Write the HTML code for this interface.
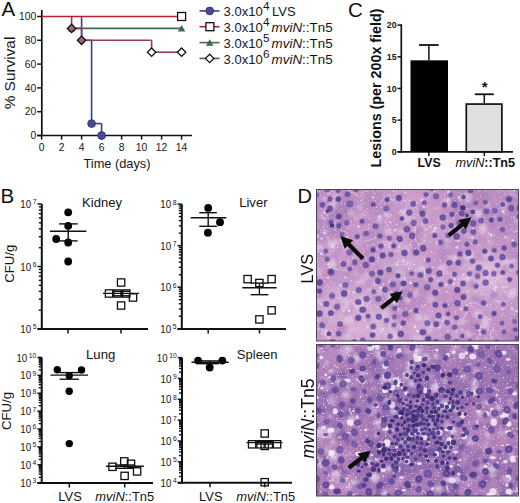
<!DOCTYPE html>
<html><head><meta charset="utf-8"><style>
html,body{margin:0;padding:0;background:#fff;}
svg{display:block;font-family:"Liberation Sans", sans-serif;}
</style></head><body>
<svg width="520" height="503" viewBox="0 0 520 503">
<rect width="520" height="503" fill="#fff"/>
<text x="1.4" y="15.6" font-size="20.5" text-anchor="start" font-weight="normal" font-style="normal" fill="#111" >A</text>
<line x1="41.8" y1="10" x2="41.8" y2="136.3" stroke="#111" stroke-width="1.7"/>
<line x1="37" y1="135.5" x2="192" y2="135.5" stroke="#111" stroke-width="1.7"/>
<line x1="37.2" y1="135.5" x2="41.8" y2="135.5" stroke="#111" stroke-width="1.5"/>
<text x="36.3" y="139.1" font-size="10.3" text-anchor="end" font-weight="normal" font-style="normal" fill="#161616" >0</text>
<line x1="37.2" y1="111.7" x2="41.8" y2="111.7" stroke="#111" stroke-width="1.5"/>
<text x="36.3" y="115.3" font-size="10.3" text-anchor="end" font-weight="normal" font-style="normal" fill="#161616" >20</text>
<line x1="37.2" y1="87.9" x2="41.8" y2="87.9" stroke="#111" stroke-width="1.5"/>
<text x="36.3" y="91.5" font-size="10.3" text-anchor="end" font-weight="normal" font-style="normal" fill="#161616" >40</text>
<line x1="37.2" y1="64.1" x2="41.8" y2="64.1" stroke="#111" stroke-width="1.5"/>
<text x="36.3" y="67.7" font-size="10.3" text-anchor="end" font-weight="normal" font-style="normal" fill="#161616" >60</text>
<line x1="37.2" y1="40.3" x2="41.8" y2="40.3" stroke="#111" stroke-width="1.5"/>
<text x="36.3" y="43.9" font-size="10.3" text-anchor="end" font-weight="normal" font-style="normal" fill="#161616" >80</text>
<line x1="37.2" y1="16.5" x2="41.8" y2="16.5" stroke="#111" stroke-width="1.5"/>
<text x="36.3" y="20.1" font-size="10.3" text-anchor="end" font-weight="normal" font-style="normal" fill="#161616" >100</text>
<line x1="41.6" y1="135.5" x2="41.6" y2="139.6" stroke="#111" stroke-width="1.5"/>
<text x="41.6" y="150.6" font-size="10.3" text-anchor="middle" font-weight="normal" font-style="normal" fill="#161616" >0</text>
<line x1="61.6" y1="135.5" x2="61.6" y2="139.6" stroke="#111" stroke-width="1.5"/>
<text x="61.6" y="150.6" font-size="10.3" text-anchor="middle" font-weight="normal" font-style="normal" fill="#161616" >2</text>
<line x1="81.6" y1="135.5" x2="81.6" y2="139.6" stroke="#111" stroke-width="1.5"/>
<text x="81.6" y="150.6" font-size="10.3" text-anchor="middle" font-weight="normal" font-style="normal" fill="#161616" >4</text>
<line x1="101.6" y1="135.5" x2="101.6" y2="139.6" stroke="#111" stroke-width="1.5"/>
<text x="101.6" y="150.6" font-size="10.3" text-anchor="middle" font-weight="normal" font-style="normal" fill="#161616" >6</text>
<line x1="121.6" y1="135.5" x2="121.6" y2="139.6" stroke="#111" stroke-width="1.5"/>
<text x="121.6" y="150.6" font-size="10.3" text-anchor="middle" font-weight="normal" font-style="normal" fill="#161616" >8</text>
<line x1="141.6" y1="135.5" x2="141.6" y2="139.6" stroke="#111" stroke-width="1.5"/>
<text x="141.6" y="150.6" font-size="10.3" text-anchor="middle" font-weight="normal" font-style="normal" fill="#161616" >10</text>
<line x1="161.6" y1="135.5" x2="161.6" y2="139.6" stroke="#111" stroke-width="1.5"/>
<text x="161.6" y="150.6" font-size="10.3" text-anchor="middle" font-weight="normal" font-style="normal" fill="#161616" >12</text>
<line x1="181.6" y1="135.5" x2="181.6" y2="139.6" stroke="#111" stroke-width="1.5"/>
<text x="181.6" y="150.6" font-size="10.3" text-anchor="middle" font-weight="normal" font-style="normal" fill="#161616" >14</text>
<text x="117" y="167.9" font-size="12.8" text-anchor="middle" font-weight="normal" font-style="normal" fill="#161616" >Time (days)</text>
<text x="14.6" y="73" font-size="15.4" text-anchor="middle" font-weight="normal" font-style="normal" fill="#161616" transform="rotate(-90 14.6 73)">% Survival</text>
<line x1="81.6" y1="16.5" x2="81.6" y2="40.3" stroke="#3c3c8a" stroke-width="1.6"/>
<line x1="81.6" y1="40.3" x2="91.6" y2="40.3" stroke="#3c3c8a" stroke-width="1.6"/>
<line x1="91.6" y1="40.3" x2="91.6" y2="123.6" stroke="#3c3c8a" stroke-width="1.6"/>
<line x1="91.6" y1="123.6" x2="101.6" y2="123.6" stroke="#3c3c8a" stroke-width="1.6"/>
<line x1="101.6" y1="123.6" x2="101.6" y2="135.5" stroke="#3c3c8a" stroke-width="1.6"/>
<line x1="71.6" y1="28.4" x2="181.6" y2="28.4" stroke="#3e6a4a" stroke-width="1.6"/>
<line x1="71.6" y1="16.5" x2="71.6" y2="28.4" stroke="#923c5c" stroke-width="1.6"/>
<line x1="71.6" y1="28.4" x2="81.6" y2="28.4" stroke="#923c5c" stroke-width="1.6"/>
<line x1="81.6" y1="28.4" x2="81.6" y2="40.3" stroke="#923c5c" stroke-width="1.6"/>
<line x1="81.6" y1="40.3" x2="151.6" y2="40.3" stroke="#923c5c" stroke-width="1.6"/>
<line x1="151.6" y1="40.3" x2="151.6" y2="52.2" stroke="#923c5c" stroke-width="1.6"/>
<line x1="151.6" y1="52.2" x2="181.6" y2="52.2" stroke="#923c5c" stroke-width="1.6"/>
<line x1="41.8" y1="16.5" x2="181.6" y2="16.5" stroke="#c0202e" stroke-width="1.6"/>
<path d="M71.6 25.0L75.35 31.5L67.85 31.5Z" fill="#3e6a4a"/>
<path d="M181.6 25.0L185.35 31.5L177.85 31.5Z" fill="#3e6a4a"/>
<path d="M71.6 24.2L75.8 28.4L71.6 32.6L67.4 28.4Z" fill="#9a6876" stroke="#111" stroke-width="1.3"/>
<path d="M81.6 36.1L85.8 40.3L81.6 44.5L77.4 40.3Z" fill="#9a6876" stroke="#111" stroke-width="1.3"/>
<path d="M151.6 48L155.8 52.2L151.6 56.4L147.4 52.2Z" fill="#fff" stroke="#111" stroke-width="1.3"/>
<path d="M181.6 48L185.8 52.2L181.6 56.4L177.4 52.2Z" fill="#fff" stroke="#111" stroke-width="1.3"/>
<rect x="177.6" y="12.5" width="8" height="8" fill="#fff" stroke="#111" stroke-width="1.3"/>
<circle cx="91.6" cy="123.6" r="3.9" fill="#4a4a94" stroke="#2c2c6c" stroke-width="0.8"/>
<circle cx="101.6" cy="135.5" r="3.9" fill="#4a4a94" stroke="#2c2c6c" stroke-width="0.8"/>
<line x1="199.5" y1="10.9" x2="219.5" y2="10.9" stroke="#3c3c8a" stroke-width="1.6"/>
<line x1="199.5" y1="26.7" x2="219.5" y2="26.7" stroke="#c0202e" stroke-width="1.6"/>
<line x1="199.5" y1="42.6" x2="219.5" y2="42.6" stroke="#3e6a4a" stroke-width="1.6"/>
<line x1="199.5" y1="58.4" x2="219.5" y2="58.4" stroke="#923c5c" stroke-width="1.6"/>
<circle cx="209.7" cy="10.9" r="3.9" fill="#4a4a94" stroke="#2c2c6c" stroke-width="0.8"/>
<rect x="205.9" y="22.7" width="8" height="8" fill="#fff" stroke="#111" stroke-width="1.3"/>
<path d="M209.7 39.2L213.45 45.7L205.95 45.7Z" fill="#3e6a4a"/>
<path d="M209.7 54.2L213.9 58.4L209.7 62.6L205.5 58.4Z" fill="#fff" stroke="#111" stroke-width="1.3"/>
<text x="223.6" y="16.4" font-size="13" text-anchor="start" font-weight="normal" font-style="normal" fill="#141414" >3.0x10</text>
<text x="263.1" y="10.2" font-size="11.8" text-anchor="start" font-weight="normal" font-style="normal" fill="#141414" >4</text>
<text x="272.0" y="16.4" font-size="13" text-anchor="start" font-weight="normal" font-style="normal" fill="#141414" >LVS</text>
<text x="223.6" y="32.2" font-size="13" text-anchor="start" font-weight="normal" font-style="normal" fill="#141414" >3.0x10</text>
<text x="263.1" y="26" font-size="11.8" text-anchor="start" font-weight="normal" font-style="normal" fill="#141414" >4</text>
<text x="271.6" y="32.2" font-size="13.4" fill="#141414"><tspan font-style="italic">mviN</tspan>::Tn5</text>
<text x="223.6" y="48.1" font-size="13" text-anchor="start" font-weight="normal" font-style="normal" fill="#141414" >3.0x10</text>
<text x="263.1" y="41.9" font-size="11.8" text-anchor="start" font-weight="normal" font-style="normal" fill="#141414" >5</text>
<text x="271.6" y="48.1" font-size="13.4" fill="#141414"><tspan font-style="italic">mviN</tspan>::Tn5</text>
<text x="223.6" y="63.9" font-size="13" text-anchor="start" font-weight="normal" font-style="normal" fill="#141414" >3.0x10</text>
<text x="263.1" y="57.7" font-size="11.8" text-anchor="start" font-weight="normal" font-style="normal" fill="#141414" >6</text>
<text x="271.6" y="63.9" font-size="13.4" fill="#141414"><tspan font-style="italic">mviN</tspan>::Tn5</text>
<text x="348.0" y="16.9" font-size="20.5" text-anchor="start" font-weight="normal" font-style="normal" fill="#111" >C</text>
<line x1="401.3" y1="24.3" x2="401.3" y2="152.3" stroke="#111" stroke-width="1.7"/>
<line x1="397.5" y1="151.8" x2="513" y2="151.8" stroke="#111" stroke-width="1.7"/>
<line x1="397.5" y1="151.8" x2="401.3" y2="151.8" stroke="#111" stroke-width="1.5"/>
<text x="396.6" y="154.9" font-size="8.8" text-anchor="end" font-weight="bold" font-style="normal" fill="#141414" >0</text>
<line x1="397.5" y1="120.13" x2="401.3" y2="120.13" stroke="#111" stroke-width="1.5"/>
<text x="396.6" y="123.23" font-size="8.8" text-anchor="end" font-weight="bold" font-style="normal" fill="#141414" >5</text>
<line x1="397.5" y1="88.45" x2="401.3" y2="88.45" stroke="#111" stroke-width="1.5"/>
<text x="396.6" y="91.55" font-size="8.8" text-anchor="end" font-weight="bold" font-style="normal" fill="#141414" >10</text>
<line x1="397.5" y1="56.78" x2="401.3" y2="56.78" stroke="#111" stroke-width="1.5"/>
<text x="396.6" y="59.88" font-size="8.8" text-anchor="end" font-weight="bold" font-style="normal" fill="#141414" >15</text>
<line x1="397.5" y1="25.1" x2="401.3" y2="25.1" stroke="#111" stroke-width="1.5"/>
<text x="396.6" y="28.2" font-size="8.8" text-anchor="end" font-weight="bold" font-style="normal" fill="#141414" >20</text>
<rect x="410.5" y="60.32" width="37.5" height="91.48" fill="#000"/>
<line x1="428.9" y1="60.32" x2="428.9" y2="44.99" stroke="#111" stroke-width="1.5"/>
<line x1="419" y1="44.99" x2="438.7" y2="44.99" stroke="#111" stroke-width="1.8"/>
<rect x="466.3" y="104.07" width="35.6" height="47.73" fill="#e0e0e0" stroke="#111" stroke-width="1.7"/>
<line x1="484.3" y1="103.27" x2="484.3" y2="94.28" stroke="#111" stroke-width="1.5"/>
<line x1="474.8" y1="94.28" x2="493.8" y2="94.28" stroke="#111" stroke-width="1.8"/>
<line x1="428.9" y1="151.8" x2="428.9" y2="156" stroke="#111" stroke-width="1.5"/>
<line x1="484.3" y1="151.8" x2="484.3" y2="156" stroke="#111" stroke-width="1.5"/>
<text x="484.6" y="92.4" font-size="15" text-anchor="middle" font-weight="bold" font-style="normal" fill="#141414" >*</text>
<text x="429.1" y="167.2" font-size="12.3" text-anchor="middle" font-weight="bold" font-style="normal" fill="#111" >LVS</text>
<text x="455.6" y="167.2" font-size="12.6" font-weight="bold" fill="#111"><tspan font-style="italic" font-weight="normal">mviN</tspan>::Tn5</text>
<text x="380.8" y="167.4" font-size="14.3" text-anchor="start" font-weight="bold" font-style="normal" fill="#111" transform="rotate(-90 380.8 167.4)">Lesions (per 200x field)</text>
<text x="0.5" y="202.7" font-size="20.5" text-anchor="start" font-weight="normal" font-style="normal" fill="#111" >B</text>
<line x1="41.8" y1="204" x2="41.8" y2="329.9" stroke="#111" stroke-width="2.0"/>
<line x1="37.5" y1="329" x2="148" y2="329" stroke="#111" stroke-width="2.0"/>
<line x1="37.5" y1="204.0" x2="41.8" y2="204.0" stroke="#111" stroke-width="1.5"/>
<text x="36.50" y="204.40" font-size="6.8" text-anchor="end" fill="#161616">7</text>
<text transform="translate(31.12,208.10) scale(0.82,1)" font-size="11.8" text-anchor="end" fill="#141414">10</text>
<line x1="38.8" y1="247.69" x2="41.8" y2="247.69" stroke="#111" stroke-width="1.4"/>
<line x1="38.8" y1="236.68" x2="41.8" y2="236.68" stroke="#111" stroke-width="1.4"/>
<line x1="38.8" y1="228.87" x2="41.8" y2="228.87" stroke="#111" stroke-width="1.4"/>
<line x1="38.8" y1="222.81" x2="41.8" y2="222.81" stroke="#111" stroke-width="1.4"/>
<line x1="38.8" y1="217.87" x2="41.8" y2="217.87" stroke="#111" stroke-width="1.4"/>
<line x1="38.8" y1="213.68" x2="41.8" y2="213.68" stroke="#111" stroke-width="1.4"/>
<line x1="38.8" y1="210.06" x2="41.8" y2="210.06" stroke="#111" stroke-width="1.4"/>
<line x1="38.8" y1="206.86" x2="41.8" y2="206.86" stroke="#111" stroke-width="1.4"/>
<line x1="37.5" y1="266.5" x2="41.8" y2="266.5" stroke="#111" stroke-width="1.5"/>
<text x="36.50" y="266.90" font-size="6.8" text-anchor="end" fill="#161616">6</text>
<text transform="translate(31.12,270.60) scale(0.82,1)" font-size="11.8" text-anchor="end" fill="#141414">10</text>
<line x1="38.8" y1="310.19" x2="41.8" y2="310.19" stroke="#111" stroke-width="1.4"/>
<line x1="38.8" y1="299.18" x2="41.8" y2="299.18" stroke="#111" stroke-width="1.4"/>
<line x1="38.8" y1="291.37" x2="41.8" y2="291.37" stroke="#111" stroke-width="1.4"/>
<line x1="38.8" y1="285.31" x2="41.8" y2="285.31" stroke="#111" stroke-width="1.4"/>
<line x1="38.8" y1="280.37" x2="41.8" y2="280.37" stroke="#111" stroke-width="1.4"/>
<line x1="38.8" y1="276.18" x2="41.8" y2="276.18" stroke="#111" stroke-width="1.4"/>
<line x1="38.8" y1="272.56" x2="41.8" y2="272.56" stroke="#111" stroke-width="1.4"/>
<line x1="38.8" y1="269.36" x2="41.8" y2="269.36" stroke="#111" stroke-width="1.4"/>
<line x1="37.5" y1="329.0" x2="41.8" y2="329.0" stroke="#111" stroke-width="1.5"/>
<text x="36.50" y="329.40" font-size="6.8" text-anchor="end" fill="#161616">5</text>
<text transform="translate(31.12,333.10) scale(0.82,1)" font-size="11.8" text-anchor="end" fill="#141414">10</text>
<line x1="68" y1="329" x2="68" y2="333.5" stroke="#111" stroke-width="1.5"/>
<line x1="121" y1="329" x2="121" y2="333.5" stroke="#111" stroke-width="1.5"/>
<text transform="translate(82.10,206.60) scale(1.07,1)" font-size="12.2" text-anchor="start" font-weight="normal" font-style="normal" fill="#141414">Kidney</text>
<circle cx="68.2" cy="212.3" r="3.9" fill="#000" stroke="none" stroke-width="0"/>
<circle cx="68.2" cy="225.8" r="3.9" fill="#000" stroke="none" stroke-width="0"/>
<circle cx="56.2" cy="239" r="3.9" fill="#000" stroke="none" stroke-width="0"/>
<circle cx="68.2" cy="242.5" r="3.9" fill="#000" stroke="none" stroke-width="0"/>
<circle cx="68.2" cy="261.5" r="3.9" fill="#000" stroke="none" stroke-width="0"/>
<line x1="49.9" y1="231.3" x2="86.4" y2="231.3" stroke="#111" stroke-width="1.4"/>
<line x1="59.1" y1="223.9" x2="77.7" y2="223.9" stroke="#111" stroke-width="1.4"/>
<line x1="59.1" y1="240.9" x2="77.7" y2="240.9" stroke="#111" stroke-width="1.4"/>
<line x1="68.2" y1="223.9" x2="68.2" y2="240.9" stroke="#111" stroke-width="1.4"/>
<rect x="117.45" y="278.85" width="7.3" height="7.3" fill="none" stroke="#111" stroke-width="1.3"/>
<rect x="105.35" y="289.85" width="7.3" height="7.3" fill="none" stroke="#111" stroke-width="1.3"/>
<rect x="113.85" y="289.85" width="7.3" height="7.3" fill="none" stroke="#111" stroke-width="1.3"/>
<rect x="122.65" y="289.85" width="7.3" height="7.3" fill="none" stroke="#111" stroke-width="1.3"/>
<rect x="129.35" y="293.85" width="7.3" height="7.3" fill="none" stroke="#111" stroke-width="1.3"/>
<rect x="117.45" y="301.85" width="7.3" height="7.3" fill="none" stroke="#111" stroke-width="1.3"/>
<line x1="103" y1="293.4" x2="139.1" y2="293.4" stroke="#111" stroke-width="1.4"/>
<line x1="112" y1="291.3" x2="130" y2="291.3" stroke="#111" stroke-width="1.4"/>
<line x1="112" y1="295.8" x2="130" y2="295.8" stroke="#111" stroke-width="1.4"/>
<line x1="121.1" y1="291.3" x2="121.1" y2="295.8" stroke="#111" stroke-width="1.4"/>
<text x="14.0" y="263.8" font-size="13.2" text-anchor="middle" font-weight="normal" font-style="normal" fill="#141414" transform="rotate(-90 14.0 263.8)">CFU/g</text>
<line x1="181.8" y1="204.1" x2="181.8" y2="329.9" stroke="#111" stroke-width="2.0"/>
<line x1="177.5" y1="329" x2="286" y2="329" stroke="#111" stroke-width="2.0"/>
<line x1="177.5" y1="204.1" x2="181.8" y2="204.1" stroke="#111" stroke-width="1.5"/>
<text x="176.50" y="204.50" font-size="6.8" text-anchor="end" fill="#161616">8</text>
<text transform="translate(171.12,208.20) scale(0.82,1)" font-size="11.8" text-anchor="end" fill="#141414">10</text>
<line x1="178.8" y1="233.14" x2="181.8" y2="233.14" stroke="#111" stroke-width="1.4"/>
<line x1="178.8" y1="225.83" x2="181.8" y2="225.83" stroke="#111" stroke-width="1.4"/>
<line x1="178.8" y1="220.63" x2="181.8" y2="220.63" stroke="#111" stroke-width="1.4"/>
<line x1="178.8" y1="216.61" x2="181.8" y2="216.61" stroke="#111" stroke-width="1.4"/>
<line x1="178.8" y1="213.32" x2="181.8" y2="213.32" stroke="#111" stroke-width="1.4"/>
<line x1="178.8" y1="210.54" x2="181.8" y2="210.54" stroke="#111" stroke-width="1.4"/>
<line x1="178.8" y1="208.13" x2="181.8" y2="208.13" stroke="#111" stroke-width="1.4"/>
<line x1="178.8" y1="206" x2="181.8" y2="206" stroke="#111" stroke-width="1.4"/>
<line x1="177.5" y1="245.65" x2="181.8" y2="245.65" stroke="#111" stroke-width="1.5"/>
<text x="176.50" y="246.05" font-size="6.8" text-anchor="end" fill="#161616">7</text>
<text transform="translate(171.12,249.75) scale(0.82,1)" font-size="11.8" text-anchor="end" fill="#141414">10</text>
<line x1="178.8" y1="274.69" x2="181.8" y2="274.69" stroke="#111" stroke-width="1.4"/>
<line x1="178.8" y1="267.38" x2="181.8" y2="267.38" stroke="#111" stroke-width="1.4"/>
<line x1="178.8" y1="262.18" x2="181.8" y2="262.18" stroke="#111" stroke-width="1.4"/>
<line x1="178.8" y1="258.16" x2="181.8" y2="258.16" stroke="#111" stroke-width="1.4"/>
<line x1="178.8" y1="254.87" x2="181.8" y2="254.87" stroke="#111" stroke-width="1.4"/>
<line x1="178.8" y1="252.09" x2="181.8" y2="252.09" stroke="#111" stroke-width="1.4"/>
<line x1="178.8" y1="249.68" x2="181.8" y2="249.68" stroke="#111" stroke-width="1.4"/>
<line x1="178.8" y1="247.55" x2="181.8" y2="247.55" stroke="#111" stroke-width="1.4"/>
<line x1="177.5" y1="287.2" x2="181.8" y2="287.2" stroke="#111" stroke-width="1.5"/>
<text x="176.50" y="287.60" font-size="6.8" text-anchor="end" fill="#161616">6</text>
<text transform="translate(171.12,291.30) scale(0.82,1)" font-size="11.8" text-anchor="end" fill="#141414">10</text>
<line x1="178.8" y1="316.24" x2="181.8" y2="316.24" stroke="#111" stroke-width="1.4"/>
<line x1="178.8" y1="308.93" x2="181.8" y2="308.93" stroke="#111" stroke-width="1.4"/>
<line x1="178.8" y1="303.73" x2="181.8" y2="303.73" stroke="#111" stroke-width="1.4"/>
<line x1="178.8" y1="299.71" x2="181.8" y2="299.71" stroke="#111" stroke-width="1.4"/>
<line x1="178.8" y1="296.42" x2="181.8" y2="296.42" stroke="#111" stroke-width="1.4"/>
<line x1="178.8" y1="293.64" x2="181.8" y2="293.64" stroke="#111" stroke-width="1.4"/>
<line x1="178.8" y1="291.23" x2="181.8" y2="291.23" stroke="#111" stroke-width="1.4"/>
<line x1="178.8" y1="289.1" x2="181.8" y2="289.1" stroke="#111" stroke-width="1.4"/>
<line x1="177.5" y1="328.75" x2="181.8" y2="328.75" stroke="#111" stroke-width="1.5"/>
<text x="176.50" y="329.15" font-size="6.8" text-anchor="end" fill="#161616">5</text>
<text transform="translate(171.12,332.85) scale(0.82,1)" font-size="11.8" text-anchor="end" fill="#141414">10</text>
<line x1="208.2" y1="329" x2="208.2" y2="333.5" stroke="#111" stroke-width="1.5"/>
<line x1="259.5" y1="329" x2="259.5" y2="333.5" stroke="#111" stroke-width="1.5"/>
<text transform="translate(239.20,206.90) scale(1.07,1)" font-size="12.2" text-anchor="start" font-weight="normal" font-style="normal" fill="#141414">Liver</text>
<circle cx="208.2" cy="207.9" r="3.9" fill="#000" stroke="none" stroke-width="0"/>
<circle cx="220" cy="222.2" r="3.9" fill="#000" stroke="none" stroke-width="0"/>
<circle cx="207.9" cy="232.7" r="3.9" fill="#000" stroke="none" stroke-width="0"/>
<line x1="190.7" y1="217.8" x2="226.3" y2="217.8" stroke="#111" stroke-width="1.4"/>
<line x1="199.3" y1="212.7" x2="216.8" y2="212.7" stroke="#111" stroke-width="1.4"/>
<line x1="199.3" y1="226.3" x2="216.8" y2="226.3" stroke="#111" stroke-width="1.4"/>
<line x1="208.2" y1="212.7" x2="208.2" y2="226.3" stroke="#111" stroke-width="1.4"/>
<rect x="243.95" y="275.45" width="7.3" height="7.3" fill="none" stroke="#111" stroke-width="1.3"/>
<rect x="255.75" y="279.35" width="7.3" height="7.3" fill="none" stroke="#111" stroke-width="1.3"/>
<rect x="267.95" y="275.45" width="7.3" height="7.3" fill="none" stroke="#111" stroke-width="1.3"/>
<rect x="267.95" y="306.75" width="7.3" height="7.3" fill="none" stroke="#111" stroke-width="1.3"/>
<rect x="255.75" y="315.75" width="7.3" height="7.3" fill="none" stroke="#111" stroke-width="1.3"/>
<line x1="242.3" y1="287.7" x2="276.6" y2="287.7" stroke="#111" stroke-width="1.4"/>
<line x1="250.6" y1="283.1" x2="268.3" y2="283.1" stroke="#111" stroke-width="1.4"/>
<line x1="250.6" y1="294.7" x2="268.3" y2="294.7" stroke="#111" stroke-width="1.4"/>
<line x1="259.4" y1="283.1" x2="259.4" y2="294.7" stroke="#111" stroke-width="1.4"/>
<line x1="41.7" y1="357.4" x2="41.7" y2="483.9" stroke="#111" stroke-width="2.0"/>
<line x1="37.4" y1="483" x2="153" y2="483" stroke="#111" stroke-width="2.0"/>
<line x1="37.4" y1="357.4" x2="41.7" y2="357.4" stroke="#111" stroke-width="1.5"/>
<text x="36.40" y="357.80" font-size="6.8" text-anchor="end" fill="#161616">10</text>
<text transform="translate(27.24,361.50) scale(0.82,1)" font-size="11.8" text-anchor="end" fill="#141414">10</text>
<line x1="38.7" y1="369.91" x2="41.7" y2="369.91" stroke="#111" stroke-width="1.4"/>
<line x1="38.7" y1="366.76" x2="41.7" y2="366.76" stroke="#111" stroke-width="1.4"/>
<line x1="38.7" y1="364.52" x2="41.7" y2="364.52" stroke="#111" stroke-width="1.4"/>
<line x1="38.7" y1="362.79" x2="41.7" y2="362.79" stroke="#111" stroke-width="1.4"/>
<line x1="38.7" y1="361.37" x2="41.7" y2="361.37" stroke="#111" stroke-width="1.4"/>
<line x1="38.7" y1="360.17" x2="41.7" y2="360.17" stroke="#111" stroke-width="1.4"/>
<line x1="38.7" y1="359.13" x2="41.7" y2="359.13" stroke="#111" stroke-width="1.4"/>
<line x1="38.7" y1="358.22" x2="41.7" y2="358.22" stroke="#111" stroke-width="1.4"/>
<line x1="37.4" y1="375.3" x2="41.7" y2="375.3" stroke="#111" stroke-width="1.5"/>
<text x="36.40" y="375.70" font-size="6.8" text-anchor="end" fill="#161616">9</text>
<text transform="translate(31.02,379.40) scale(0.82,1)" font-size="11.8" text-anchor="end" fill="#141414">10</text>
<line x1="38.7" y1="387.81" x2="41.7" y2="387.81" stroke="#111" stroke-width="1.4"/>
<line x1="38.7" y1="384.66" x2="41.7" y2="384.66" stroke="#111" stroke-width="1.4"/>
<line x1="38.7" y1="382.42" x2="41.7" y2="382.42" stroke="#111" stroke-width="1.4"/>
<line x1="38.7" y1="380.69" x2="41.7" y2="380.69" stroke="#111" stroke-width="1.4"/>
<line x1="38.7" y1="379.27" x2="41.7" y2="379.27" stroke="#111" stroke-width="1.4"/>
<line x1="38.7" y1="378.07" x2="41.7" y2="378.07" stroke="#111" stroke-width="1.4"/>
<line x1="38.7" y1="377.03" x2="41.7" y2="377.03" stroke="#111" stroke-width="1.4"/>
<line x1="38.7" y1="376.12" x2="41.7" y2="376.12" stroke="#111" stroke-width="1.4"/>
<line x1="37.4" y1="393.2" x2="41.7" y2="393.2" stroke="#111" stroke-width="1.5"/>
<text x="36.40" y="393.60" font-size="6.8" text-anchor="end" fill="#161616">8</text>
<text transform="translate(31.02,397.30) scale(0.82,1)" font-size="11.8" text-anchor="end" fill="#141414">10</text>
<line x1="38.7" y1="405.71" x2="41.7" y2="405.71" stroke="#111" stroke-width="1.4"/>
<line x1="38.7" y1="402.56" x2="41.7" y2="402.56" stroke="#111" stroke-width="1.4"/>
<line x1="38.7" y1="400.32" x2="41.7" y2="400.32" stroke="#111" stroke-width="1.4"/>
<line x1="38.7" y1="398.59" x2="41.7" y2="398.59" stroke="#111" stroke-width="1.4"/>
<line x1="38.7" y1="397.17" x2="41.7" y2="397.17" stroke="#111" stroke-width="1.4"/>
<line x1="38.7" y1="395.97" x2="41.7" y2="395.97" stroke="#111" stroke-width="1.4"/>
<line x1="38.7" y1="394.93" x2="41.7" y2="394.93" stroke="#111" stroke-width="1.4"/>
<line x1="38.7" y1="394.02" x2="41.7" y2="394.02" stroke="#111" stroke-width="1.4"/>
<line x1="37.4" y1="411.1" x2="41.7" y2="411.1" stroke="#111" stroke-width="1.5"/>
<text x="36.40" y="411.50" font-size="6.8" text-anchor="end" fill="#161616">7</text>
<text transform="translate(31.02,415.20) scale(0.82,1)" font-size="11.8" text-anchor="end" fill="#141414">10</text>
<line x1="38.7" y1="423.61" x2="41.7" y2="423.61" stroke="#111" stroke-width="1.4"/>
<line x1="38.7" y1="420.46" x2="41.7" y2="420.46" stroke="#111" stroke-width="1.4"/>
<line x1="38.7" y1="418.22" x2="41.7" y2="418.22" stroke="#111" stroke-width="1.4"/>
<line x1="38.7" y1="416.49" x2="41.7" y2="416.49" stroke="#111" stroke-width="1.4"/>
<line x1="38.7" y1="415.07" x2="41.7" y2="415.07" stroke="#111" stroke-width="1.4"/>
<line x1="38.7" y1="413.87" x2="41.7" y2="413.87" stroke="#111" stroke-width="1.4"/>
<line x1="38.7" y1="412.83" x2="41.7" y2="412.83" stroke="#111" stroke-width="1.4"/>
<line x1="38.7" y1="411.92" x2="41.7" y2="411.92" stroke="#111" stroke-width="1.4"/>
<line x1="37.4" y1="429.0" x2="41.7" y2="429.0" stroke="#111" stroke-width="1.5"/>
<text x="36.40" y="429.40" font-size="6.8" text-anchor="end" fill="#161616">6</text>
<text transform="translate(31.02,433.10) scale(0.82,1)" font-size="11.8" text-anchor="end" fill="#141414">10</text>
<line x1="38.7" y1="441.51" x2="41.7" y2="441.51" stroke="#111" stroke-width="1.4"/>
<line x1="38.7" y1="438.36" x2="41.7" y2="438.36" stroke="#111" stroke-width="1.4"/>
<line x1="38.7" y1="436.12" x2="41.7" y2="436.12" stroke="#111" stroke-width="1.4"/>
<line x1="38.7" y1="434.39" x2="41.7" y2="434.39" stroke="#111" stroke-width="1.4"/>
<line x1="38.7" y1="432.97" x2="41.7" y2="432.97" stroke="#111" stroke-width="1.4"/>
<line x1="38.7" y1="431.77" x2="41.7" y2="431.77" stroke="#111" stroke-width="1.4"/>
<line x1="38.7" y1="430.73" x2="41.7" y2="430.73" stroke="#111" stroke-width="1.4"/>
<line x1="38.7" y1="429.82" x2="41.7" y2="429.82" stroke="#111" stroke-width="1.4"/>
<line x1="37.4" y1="446.9" x2="41.7" y2="446.9" stroke="#111" stroke-width="1.5"/>
<text x="36.40" y="447.30" font-size="6.8" text-anchor="end" fill="#161616">5</text>
<text transform="translate(31.02,451.00) scale(0.82,1)" font-size="11.8" text-anchor="end" fill="#141414">10</text>
<line x1="38.7" y1="459.41" x2="41.7" y2="459.41" stroke="#111" stroke-width="1.4"/>
<line x1="38.7" y1="456.26" x2="41.7" y2="456.26" stroke="#111" stroke-width="1.4"/>
<line x1="38.7" y1="454.02" x2="41.7" y2="454.02" stroke="#111" stroke-width="1.4"/>
<line x1="38.7" y1="452.29" x2="41.7" y2="452.29" stroke="#111" stroke-width="1.4"/>
<line x1="38.7" y1="450.87" x2="41.7" y2="450.87" stroke="#111" stroke-width="1.4"/>
<line x1="38.7" y1="449.67" x2="41.7" y2="449.67" stroke="#111" stroke-width="1.4"/>
<line x1="38.7" y1="448.63" x2="41.7" y2="448.63" stroke="#111" stroke-width="1.4"/>
<line x1="38.7" y1="447.72" x2="41.7" y2="447.72" stroke="#111" stroke-width="1.4"/>
<line x1="37.4" y1="464.8" x2="41.7" y2="464.8" stroke="#111" stroke-width="1.5"/>
<text x="36.40" y="465.20" font-size="6.8" text-anchor="end" fill="#161616">4</text>
<text transform="translate(31.02,468.90) scale(0.82,1)" font-size="11.8" text-anchor="end" fill="#141414">10</text>
<line x1="38.7" y1="477.31" x2="41.7" y2="477.31" stroke="#111" stroke-width="1.4"/>
<line x1="38.7" y1="474.16" x2="41.7" y2="474.16" stroke="#111" stroke-width="1.4"/>
<line x1="38.7" y1="471.92" x2="41.7" y2="471.92" stroke="#111" stroke-width="1.4"/>
<line x1="38.7" y1="470.19" x2="41.7" y2="470.19" stroke="#111" stroke-width="1.4"/>
<line x1="38.7" y1="468.77" x2="41.7" y2="468.77" stroke="#111" stroke-width="1.4"/>
<line x1="38.7" y1="467.57" x2="41.7" y2="467.57" stroke="#111" stroke-width="1.4"/>
<line x1="38.7" y1="466.53" x2="41.7" y2="466.53" stroke="#111" stroke-width="1.4"/>
<line x1="38.7" y1="465.62" x2="41.7" y2="465.62" stroke="#111" stroke-width="1.4"/>
<line x1="37.4" y1="482.7" x2="41.7" y2="482.7" stroke="#111" stroke-width="1.5"/>
<text x="36.40" y="483.10" font-size="6.8" text-anchor="end" fill="#161616">3</text>
<text transform="translate(31.02,486.80) scale(0.82,1)" font-size="11.8" text-anchor="end" fill="#141414">10</text>
<line x1="69.3" y1="483" x2="69.3" y2="487.5" stroke="#111" stroke-width="1.5"/>
<line x1="124.7" y1="483" x2="124.7" y2="487.5" stroke="#111" stroke-width="1.5"/>
<text transform="translate(86.00,359.30) scale(1.08,1)" font-size="12.2" text-anchor="start" font-weight="normal" font-style="normal" fill="#141414">Lung</text>
<circle cx="57.3" cy="369.7" r="3.7" fill="#000" stroke="none" stroke-width="0"/>
<circle cx="81.5" cy="370" r="3.7" fill="#000" stroke="none" stroke-width="0"/>
<circle cx="69.2" cy="375.7" r="3.7" fill="#000" stroke="none" stroke-width="0"/>
<circle cx="69.2" cy="391.2" r="3.7" fill="#000" stroke="none" stroke-width="0"/>
<circle cx="69.3" cy="443.6" r="3.7" fill="#000" stroke="none" stroke-width="0"/>
<line x1="50.5" y1="375.1" x2="88" y2="375.1" stroke="#111" stroke-width="1.4"/>
<line x1="59.7" y1="372.6" x2="78.8" y2="372.6" stroke="#111" stroke-width="1.4"/>
<line x1="59.7" y1="379.2" x2="78.8" y2="379.2" stroke="#111" stroke-width="1.4"/>
<line x1="69.2" y1="372.6" x2="69.2" y2="379.2" stroke="#111" stroke-width="1.4"/>
<rect x="108.85" y="463.15" width="7.3" height="7.3" fill="none" stroke="#111" stroke-width="1.3"/>
<rect x="120.65" y="457.75" width="7.3" height="7.3" fill="none" stroke="#111" stroke-width="1.3"/>
<rect x="127.35" y="460.15" width="7.3" height="7.3" fill="none" stroke="#111" stroke-width="1.3"/>
<rect x="133.45" y="467.75" width="7.3" height="7.3" fill="none" stroke="#111" stroke-width="1.3"/>
<rect x="120.95" y="472.25" width="7.3" height="7.3" fill="none" stroke="#111" stroke-width="1.3"/>
<line x1="105.9" y1="466.2" x2="143.8" y2="466.2" stroke="#111" stroke-width="1.4"/>
<line x1="115" y1="465" x2="134" y2="465" stroke="#111" stroke-width="1.4"/>
<line x1="115" y1="468.3" x2="134" y2="468.3" stroke="#111" stroke-width="1.4"/>
<line x1="124.6" y1="465" x2="124.6" y2="468.3" stroke="#111" stroke-width="1.4"/>
<text x="10.5" y="411" font-size="13.2" text-anchor="middle" font-weight="normal" font-style="normal" fill="#141414" transform="rotate(-90 10.5 411)">CFU/g</text>
<line x1="182" y1="357.6" x2="182" y2="483.6" stroke="#111" stroke-width="2.0"/>
<line x1="177.7" y1="482.7" x2="292" y2="482.7" stroke="#111" stroke-width="2.0"/>
<line x1="177.7" y1="357.6" x2="182" y2="357.6" stroke="#111" stroke-width="1.5"/>
<text x="176.70" y="358.00" font-size="6.8" text-anchor="end" fill="#161616">10</text>
<text transform="translate(167.54,361.70) scale(0.82,1)" font-size="11.8" text-anchor="end" fill="#141414">10</text>
<line x1="179.0" y1="372.17" x2="182" y2="372.17" stroke="#111" stroke-width="1.4"/>
<line x1="179.0" y1="368.5" x2="182" y2="368.5" stroke="#111" stroke-width="1.4"/>
<line x1="179.0" y1="365.9" x2="182" y2="365.9" stroke="#111" stroke-width="1.4"/>
<line x1="179.0" y1="363.88" x2="182" y2="363.88" stroke="#111" stroke-width="1.4"/>
<line x1="179.0" y1="362.23" x2="182" y2="362.23" stroke="#111" stroke-width="1.4"/>
<line x1="179.0" y1="360.83" x2="182" y2="360.83" stroke="#111" stroke-width="1.4"/>
<line x1="179.0" y1="359.62" x2="182" y2="359.62" stroke="#111" stroke-width="1.4"/>
<line x1="179.0" y1="358.55" x2="182" y2="358.55" stroke="#111" stroke-width="1.4"/>
<line x1="177.7" y1="378.45" x2="182" y2="378.45" stroke="#111" stroke-width="1.5"/>
<text x="176.70" y="378.85" font-size="6.8" text-anchor="end" fill="#161616">9</text>
<text transform="translate(171.32,382.55) scale(0.82,1)" font-size="11.8" text-anchor="end" fill="#141414">10</text>
<line x1="179.0" y1="393.02" x2="182" y2="393.02" stroke="#111" stroke-width="1.4"/>
<line x1="179.0" y1="389.35" x2="182" y2="389.35" stroke="#111" stroke-width="1.4"/>
<line x1="179.0" y1="386.75" x2="182" y2="386.75" stroke="#111" stroke-width="1.4"/>
<line x1="179.0" y1="384.73" x2="182" y2="384.73" stroke="#111" stroke-width="1.4"/>
<line x1="179.0" y1="383.08" x2="182" y2="383.08" stroke="#111" stroke-width="1.4"/>
<line x1="179.0" y1="381.68" x2="182" y2="381.68" stroke="#111" stroke-width="1.4"/>
<line x1="179.0" y1="380.47" x2="182" y2="380.47" stroke="#111" stroke-width="1.4"/>
<line x1="179.0" y1="379.4" x2="182" y2="379.4" stroke="#111" stroke-width="1.4"/>
<line x1="177.7" y1="399.3" x2="182" y2="399.3" stroke="#111" stroke-width="1.5"/>
<text x="176.70" y="399.70" font-size="6.8" text-anchor="end" fill="#161616">8</text>
<text transform="translate(171.32,403.40) scale(0.82,1)" font-size="11.8" text-anchor="end" fill="#141414">10</text>
<line x1="179.0" y1="413.87" x2="182" y2="413.87" stroke="#111" stroke-width="1.4"/>
<line x1="179.0" y1="410.2" x2="182" y2="410.2" stroke="#111" stroke-width="1.4"/>
<line x1="179.0" y1="407.6" x2="182" y2="407.6" stroke="#111" stroke-width="1.4"/>
<line x1="179.0" y1="405.58" x2="182" y2="405.58" stroke="#111" stroke-width="1.4"/>
<line x1="179.0" y1="403.93" x2="182" y2="403.93" stroke="#111" stroke-width="1.4"/>
<line x1="179.0" y1="402.53" x2="182" y2="402.53" stroke="#111" stroke-width="1.4"/>
<line x1="179.0" y1="401.32" x2="182" y2="401.32" stroke="#111" stroke-width="1.4"/>
<line x1="179.0" y1="400.25" x2="182" y2="400.25" stroke="#111" stroke-width="1.4"/>
<line x1="177.7" y1="420.15" x2="182" y2="420.15" stroke="#111" stroke-width="1.5"/>
<text x="176.70" y="420.55" font-size="6.8" text-anchor="end" fill="#161616">7</text>
<text transform="translate(171.32,424.25) scale(0.82,1)" font-size="11.8" text-anchor="end" fill="#141414">10</text>
<line x1="179.0" y1="434.72" x2="182" y2="434.72" stroke="#111" stroke-width="1.4"/>
<line x1="179.0" y1="431.05" x2="182" y2="431.05" stroke="#111" stroke-width="1.4"/>
<line x1="179.0" y1="428.45" x2="182" y2="428.45" stroke="#111" stroke-width="1.4"/>
<line x1="179.0" y1="426.43" x2="182" y2="426.43" stroke="#111" stroke-width="1.4"/>
<line x1="179.0" y1="424.78" x2="182" y2="424.78" stroke="#111" stroke-width="1.4"/>
<line x1="179.0" y1="423.38" x2="182" y2="423.38" stroke="#111" stroke-width="1.4"/>
<line x1="179.0" y1="422.17" x2="182" y2="422.17" stroke="#111" stroke-width="1.4"/>
<line x1="179.0" y1="421.1" x2="182" y2="421.1" stroke="#111" stroke-width="1.4"/>
<line x1="177.7" y1="441.0" x2="182" y2="441.0" stroke="#111" stroke-width="1.5"/>
<text x="176.70" y="441.40" font-size="6.8" text-anchor="end" fill="#161616">6</text>
<text transform="translate(171.32,445.10) scale(0.82,1)" font-size="11.8" text-anchor="end" fill="#141414">10</text>
<line x1="179.0" y1="455.57" x2="182" y2="455.57" stroke="#111" stroke-width="1.4"/>
<line x1="179.0" y1="451.9" x2="182" y2="451.9" stroke="#111" stroke-width="1.4"/>
<line x1="179.0" y1="449.3" x2="182" y2="449.3" stroke="#111" stroke-width="1.4"/>
<line x1="179.0" y1="447.28" x2="182" y2="447.28" stroke="#111" stroke-width="1.4"/>
<line x1="179.0" y1="445.63" x2="182" y2="445.63" stroke="#111" stroke-width="1.4"/>
<line x1="179.0" y1="444.23" x2="182" y2="444.23" stroke="#111" stroke-width="1.4"/>
<line x1="179.0" y1="443.02" x2="182" y2="443.02" stroke="#111" stroke-width="1.4"/>
<line x1="179.0" y1="441.95" x2="182" y2="441.95" stroke="#111" stroke-width="1.4"/>
<line x1="177.7" y1="461.85" x2="182" y2="461.85" stroke="#111" stroke-width="1.5"/>
<text x="176.70" y="462.25" font-size="6.8" text-anchor="end" fill="#161616">5</text>
<text transform="translate(171.32,465.95) scale(0.82,1)" font-size="11.8" text-anchor="end" fill="#141414">10</text>
<line x1="179.0" y1="476.42" x2="182" y2="476.42" stroke="#111" stroke-width="1.4"/>
<line x1="179.0" y1="472.75" x2="182" y2="472.75" stroke="#111" stroke-width="1.4"/>
<line x1="179.0" y1="470.15" x2="182" y2="470.15" stroke="#111" stroke-width="1.4"/>
<line x1="179.0" y1="468.13" x2="182" y2="468.13" stroke="#111" stroke-width="1.4"/>
<line x1="179.0" y1="466.48" x2="182" y2="466.48" stroke="#111" stroke-width="1.4"/>
<line x1="179.0" y1="465.08" x2="182" y2="465.08" stroke="#111" stroke-width="1.4"/>
<line x1="179.0" y1="463.87" x2="182" y2="463.87" stroke="#111" stroke-width="1.4"/>
<line x1="179.0" y1="462.8" x2="182" y2="462.8" stroke="#111" stroke-width="1.4"/>
<line x1="177.7" y1="482.7" x2="182" y2="482.7" stroke="#111" stroke-width="1.5"/>
<text x="176.70" y="483.10" font-size="6.8" text-anchor="end" fill="#161616">4</text>
<text transform="translate(171.32,486.80) scale(0.82,1)" font-size="11.8" text-anchor="end" fill="#141414">10</text>
<line x1="210" y1="482.7" x2="210" y2="487.2" stroke="#111" stroke-width="1.5"/>
<line x1="264.7" y1="482.7" x2="264.7" y2="487.2" stroke="#111" stroke-width="1.5"/>
<text transform="translate(236.80,359.00) scale(1.07,1)" font-size="12.2" text-anchor="start" font-weight="normal" font-style="normal" fill="#141414">Spleen</text>
<circle cx="198.1" cy="360.6" r="3.9" fill="#000" stroke="none" stroke-width="0"/>
<circle cx="222.3" cy="360.6" r="3.9" fill="#000" stroke="none" stroke-width="0"/>
<circle cx="209.7" cy="367.5" r="3.9" fill="#000" stroke="none" stroke-width="0"/>
<line x1="191.5" y1="362.3" x2="228.7" y2="362.3" stroke="#111" stroke-width="1.4"/>
<line x1="200" y1="360.9" x2="219" y2="360.9" stroke="#111" stroke-width="1.4"/>
<line x1="200" y1="363.7" x2="219" y2="363.7" stroke="#111" stroke-width="1.4"/>
<line x1="209.7" y1="360.9" x2="209.7" y2="363.7" stroke="#111" stroke-width="1.4"/>
<rect x="261.05" y="429.85" width="7.3" height="7.3" fill="none" stroke="#111" stroke-width="1.3"/>
<rect x="248.45" y="440.65" width="7.3" height="7.3" fill="none" stroke="#111" stroke-width="1.3"/>
<rect x="256.85" y="440.65" width="7.3" height="7.3" fill="none" stroke="#111" stroke-width="1.3"/>
<rect x="265.15" y="440.65" width="7.3" height="7.3" fill="none" stroke="#111" stroke-width="1.3"/>
<rect x="261.05" y="442.25" width="7.3" height="7.3" fill="none" stroke="#111" stroke-width="1.3"/>
<rect x="273.35" y="440.65" width="7.3" height="7.3" fill="none" stroke="#111" stroke-width="1.3"/>
<rect x="261.05" y="478.55" width="7.3" height="7.3" fill="none" stroke="#111" stroke-width="1.3"/>
<line x1="246.5" y1="442.6" x2="282.5" y2="442.6" stroke="#111" stroke-width="1.4"/>
<line x1="255" y1="441.5" x2="274" y2="441.5" stroke="#111" stroke-width="1.4"/>
<line x1="255" y1="444" x2="274" y2="444" stroke="#111" stroke-width="1.4"/>
<line x1="264.7" y1="441.5" x2="264.7" y2="444" stroke="#111" stroke-width="1.4"/>
<text transform="translate(70.10,501.10) scale(1.06,1)" font-size="12.2" text-anchor="middle" font-weight="normal" font-style="normal" fill="#141414">LVS</text>
<text transform="translate(124.8,501.1) scale(1.06,1)" font-size="12.2" text-anchor="middle" fill="#141414"><tspan font-style="italic">mviN</tspan>::Tn5</text>
<text transform="translate(210.80,501.10) scale(1.06,1)" font-size="12.2" text-anchor="middle" font-weight="normal" font-style="normal" fill="#141414">LVS</text>
<text transform="translate(265.8,501.1) scale(1.06,1)" font-size="12.2" text-anchor="middle" fill="#141414"><tspan font-style="italic">mviN</tspan>::Tn5</text>
<text x="297.6" y="203.0" font-size="20" text-anchor="start" font-weight="normal" font-style="normal" fill="#111" >D</text>
<defs><filter id="bl6" x="-10%" y="-10%" width="120%" height="120%"><feGaussianBlur stdDeviation="6"/></filter><filter id="bl15"><feGaussianBlur stdDeviation="1.5"/></filter><filter id="bl09"><feGaussianBlur stdDeviation="0.9"/></filter><filter id="bl07"><feGaussianBlur stdDeviation="0.7"/></filter><filter id="bl05"><feGaussianBlur stdDeviation="0.45"/></filter><filter id="grainL1" x="0" y="0" width="100%" height="100%"><feTurbulence type="fractalNoise" baseFrequency="0.7" numOctaves="2" seed="3"/><feColorMatrix type="matrix" values="0 0 0 0 0.92 0 0 0 0 0.84 0 0 0 0 0.93 0 0 0 -5 1.7"/><feGaussianBlur stdDeviation="0.55"/></filter><filter id="grainD1" x="0" y="0" width="100%" height="100%"><feTurbulence type="fractalNoise" baseFrequency="0.7" numOctaves="2" seed="7"/><feColorMatrix type="matrix" values="0 0 0 0 0.58 0 0 0 0 0.38 0 0 0 0 0.64 0 0 0 -5 1.9"/><feGaussianBlur stdDeviation="0.55"/></filter><filter id="grainL2" x="0" y="0" width="100%" height="100%"><feTurbulence type="fractalNoise" baseFrequency="0.6" numOctaves="2" seed="11"/><feColorMatrix type="matrix" values="0 0 0 0 0.95 0 0 0 0 0.9 0 0 0 0 0.96 0 0 0 -5 1.8"/><feGaussianBlur stdDeviation="0.55"/></filter><filter id="grainD2" x="0" y="0" width="100%" height="100%"><feTurbulence type="fractalNoise" baseFrequency="0.6" numOctaves="2" seed="13"/><feColorMatrix type="matrix" values="0 0 0 0 0.42 0 0 0 0 0.28 0 0 0 0 0.58 0 0 0 -5 1.9"/><feGaussianBlur stdDeviation="0.55"/></filter></defs>
<clipPath id="c11"><rect x="316.5" y="189.5" width="202" height="151.5"/></clipPath>
<g clip-path="url(#c11)">
<rect x="316.5" y="189.5" width="202" height="151.5" fill="#c496c6"/>
<g filter="url(#bl6)">
<circle cx="407.9" cy="274.3" r="19.1" fill="#dcbadc" opacity="0.6"/>
<circle cx="407.8" cy="319.0" r="10.3" fill="#cc94c4" opacity="0.6"/>
<circle cx="412.6" cy="282.5" r="10.2" fill="#dcbadc" opacity="0.6"/>
<circle cx="377.8" cy="203.2" r="17.7" fill="#b084bc" opacity="0.6"/>
<circle cx="444.7" cy="279.7" r="12.8" fill="#dcbadc" opacity="0.6"/>
<circle cx="448.6" cy="282.8" r="9.9" fill="#d4a8d2" opacity="0.6"/>
<circle cx="484.5" cy="199.1" r="8.4" fill="#c690c2" opacity="0.6"/>
<circle cx="437.6" cy="307.4" r="11.9" fill="#cc94c4" opacity="0.6"/>
<circle cx="486.7" cy="268.1" r="15.7" fill="#dcbadc" opacity="0.6"/>
<circle cx="317.4" cy="202.4" r="15.9" fill="#dcbadc" opacity="0.6"/>
<circle cx="518.0" cy="340.3" r="18.1" fill="#b084bc" opacity="0.6"/>
<circle cx="367.8" cy="304.3" r="14.2" fill="#d4a8d2" opacity="0.6"/>
<circle cx="330.7" cy="305.6" r="12.8" fill="#b88cc4" opacity="0.6"/>
<circle cx="394.6" cy="334.6" r="18.2" fill="#d4a8d2" opacity="0.6"/>
<circle cx="359.6" cy="329.9" r="8.6" fill="#dcbadc" opacity="0.6"/>
<circle cx="514.5" cy="249.7" r="8.9" fill="#b084bc" opacity="0.6"/>
<circle cx="356.6" cy="291.7" r="12.0" fill="#b88cc4" opacity="0.6"/>
<circle cx="383.7" cy="335.6" r="17.1" fill="#d4a8d2" opacity="0.6"/>
<circle cx="343.7" cy="296.6" r="8.1" fill="#dcbadc" opacity="0.6"/>
<circle cx="477.5" cy="216.4" r="14.7" fill="#dcbadc" opacity="0.6"/>
<circle cx="419.3" cy="338.8" r="17.2" fill="#dcbadc" opacity="0.6"/>
<circle cx="446.5" cy="207.2" r="13.0" fill="#c690c2" opacity="0.6"/>
<circle cx="316.6" cy="320.4" r="19.7" fill="#cc94c4" opacity="0.6"/>
<circle cx="377.9" cy="323.6" r="10.5" fill="#dcbadc" opacity="0.6"/>
<circle cx="517.7" cy="280.7" r="14.9" fill="#d4a8d2" opacity="0.6"/>
<circle cx="516.3" cy="221.8" r="11.1" fill="#cc94c4" opacity="0.6"/>
<circle cx="382.9" cy="234.4" r="8.9" fill="#d4a8d2" opacity="0.6"/>
<circle cx="358.7" cy="285.9" r="8.2" fill="#b88cc4" opacity="0.6"/>
<circle cx="391.6" cy="258.2" r="19.5" fill="#dcbadc" opacity="0.6"/>
<circle cx="484.6" cy="210.1" r="12.6" fill="#b084bc" opacity="0.6"/>
<circle cx="347.6" cy="327.1" r="17.8" fill="#c690c2" opacity="0.6"/>
<circle cx="463.0" cy="213.5" r="15.5" fill="#cc94c4" opacity="0.6"/>
<circle cx="356.2" cy="333.4" r="18.6" fill="#cc94c4" opacity="0.6"/>
<circle cx="332.4" cy="196.7" r="9.3" fill="#cc94c4" opacity="0.6"/>
<circle cx="511.0" cy="225.6" r="16.5" fill="#b88cc4" opacity="0.6"/>
<circle cx="401.5" cy="326.6" r="13.9" fill="#cc94c4" opacity="0.6"/>
<circle cx="351.9" cy="298.6" r="8.8" fill="#c690c2" opacity="0.6"/>
<circle cx="413.3" cy="288.5" r="15.4" fill="#d4a8d2" opacity="0.6"/>
<circle cx="373.1" cy="328.5" r="10.4" fill="#d4a8d2" opacity="0.6"/>
<circle cx="330.5" cy="251.8" r="11.0" fill="#d4a8d2" opacity="0.6"/>
<circle cx="352.1" cy="245.4" r="14.9" fill="#c690c2" opacity="0.6"/>
<circle cx="335.1" cy="210.5" r="13.4" fill="#b88cc4" opacity="0.6"/>
<circle cx="449.2" cy="294.2" r="15.0" fill="#c690c2" opacity="0.6"/>
<circle cx="435.7" cy="329.4" r="13.7" fill="#b88cc4" opacity="0.6"/>
<circle cx="458.1" cy="335.4" r="8.3" fill="#b084bc" opacity="0.6"/>
<circle cx="331.6" cy="199.7" r="11.7" fill="#c690c2" opacity="0.6"/>
<circle cx="518.4" cy="200.9" r="14.6" fill="#b084bc" opacity="0.6"/>
<circle cx="325.5" cy="331.3" r="16.8" fill="#c690c2" opacity="0.6"/>
<circle cx="476.7" cy="328.1" r="12.2" fill="#b084bc" opacity="0.6"/>
<circle cx="412.1" cy="201.3" r="18.3" fill="#d4a8d2" opacity="0.6"/>
<circle cx="490.9" cy="276.3" r="15.5" fill="#dcbadc" opacity="0.6"/>
<circle cx="393.1" cy="191.4" r="8.9" fill="#d4a8d2" opacity="0.6"/>
<circle cx="445.7" cy="340.0" r="18.6" fill="#b084bc" opacity="0.6"/>
<circle cx="383.2" cy="331.0" r="16.3" fill="#dcbadc" opacity="0.6"/>
<circle cx="405.5" cy="316.5" r="9.0" fill="#cc94c4" opacity="0.6"/>
<circle cx="322.5" cy="280.6" r="13.8" fill="#c690c2" opacity="0.6"/>
<circle cx="509.9" cy="206.6" r="17.4" fill="#b084bc" opacity="0.6"/>
<circle cx="502.4" cy="228.3" r="8.1" fill="#b88cc4" opacity="0.6"/>
<circle cx="345.4" cy="282.2" r="14.2" fill="#b88cc4" opacity="0.6"/>
<circle cx="449.8" cy="256.5" r="18.7" fill="#b88cc4" opacity="0.6"/>
<circle cx="330" cy="212" r="26" fill="#9a70b0" opacity="0.45"/>
<circle cx="402" cy="290" r="24" fill="#9a70b0" opacity="0.4"/>
<circle cx="472" cy="205" r="26" fill="#9a70b0" opacity="0.4"/>
<circle cx="380" cy="245" r="18" fill="#a078b4" opacity="0.35"/>
<circle cx="345" cy="312" r="30" fill="#e2c8e4" opacity="0.45"/>
<circle cx="482" cy="282" r="28" fill="#e0c0dc" opacity="0.4"/>
<circle cx="440" cy="325" r="20" fill="#dcbcdc" opacity="0.35"/>
<circle cx="430" cy="230" r="18" fill="#dcbcdc" opacity="0.3"/>
<circle cx="334" cy="222" r="13.5" fill="#9470b0" opacity="0.13"/>
<circle cx="404" cy="297" r="16.2" fill="#9470b0" opacity="0.13"/>
<circle cx="468" cy="207" r="14.4" fill="#9470b0" opacity="0.12"/>
<circle cx="392" cy="268" r="10.8" fill="#9470b0" opacity="0.11"/>
<circle cx="345" cy="198" r="9.0" fill="#9470b0" opacity="0.11"/>
<circle cx="505" cy="225" r="9.0" fill="#9470b0" opacity="0.11"/>
</g>
<g filter="url(#bl15)">
<ellipse cx="398.3" cy="227.5" rx="3.5" ry="4.4" fill="#bc8cc4" opacity="0.7"/>
<ellipse cx="494.3" cy="247.7" rx="3.4" ry="2.9" fill="#bc8cc4" opacity="0.7"/>
<ellipse cx="343.7" cy="242.6" rx="4.2" ry="2.7" fill="#dcc0e0" opacity="0.7"/>
<ellipse cx="508.4" cy="231.4" rx="2.3" ry="2.2" fill="#d49ccc" opacity="0.7"/>
<ellipse cx="503.5" cy="315.4" rx="2.8" ry="2.9" fill="#c894c6" opacity="0.7"/>
<ellipse cx="380.2" cy="316.6" rx="4.5" ry="4.3" fill="#dcc0e0" opacity="0.7"/>
<ellipse cx="483.9" cy="231.6" rx="3.4" ry="3.9" fill="#d49ccc" opacity="0.7"/>
<ellipse cx="431.8" cy="236.3" rx="3.9" ry="2.4" fill="#bc8cc4" opacity="0.7"/>
<ellipse cx="398.3" cy="218.3" rx="3.9" ry="3.2" fill="#bc8cc4" opacity="0.7"/>
<ellipse cx="477.5" cy="338.6" rx="2.1" ry="1.5" fill="#e6d0ea" opacity="0.7"/>
<ellipse cx="448.8" cy="311.8" rx="4.4" ry="5.0" fill="#bc8cc4" opacity="0.7"/>
<ellipse cx="482.9" cy="228.3" rx="3.7" ry="4.5" fill="#e6d0ea" opacity="0.7"/>
<ellipse cx="460.8" cy="216.6" rx="2.5" ry="2.2" fill="#c894c6" opacity="0.7"/>
<ellipse cx="507.8" cy="265.3" rx="4.5" ry="3.3" fill="#c894c6" opacity="0.7"/>
<ellipse cx="499.6" cy="202.7" rx="4.3" ry="5.1" fill="#bc8cc4" opacity="0.7"/>
<ellipse cx="407.5" cy="219.3" rx="4.2" ry="2.5" fill="#e6d0ea" opacity="0.7"/>
<ellipse cx="431.4" cy="322.7" rx="4.0" ry="5.4" fill="#ac80ba" opacity="0.7"/>
<ellipse cx="382.4" cy="338.3" rx="2.1" ry="2.7" fill="#c894c6" opacity="0.7"/>
<ellipse cx="503.2" cy="208.2" rx="2.5" ry="2.2" fill="#dcc0e0" opacity="0.7"/>
<ellipse cx="513.9" cy="270.8" rx="3.9" ry="3.4" fill="#c894c6" opacity="0.7"/>
<ellipse cx="489.4" cy="242.3" rx="2.0" ry="1.9" fill="#e6d0ea" opacity="0.7"/>
<ellipse cx="401.6" cy="231.2" rx="4.3" ry="3.3" fill="#dcc0e0" opacity="0.7"/>
<ellipse cx="403.1" cy="194.8" rx="3.2" ry="3.7" fill="#bc8cc4" opacity="0.7"/>
<ellipse cx="411.6" cy="341.0" rx="4.2" ry="4.3" fill="#c894c6" opacity="0.7"/>
<ellipse cx="455.8" cy="332.8" rx="3.1" ry="4.3" fill="#dcc0e0" opacity="0.7"/>
<ellipse cx="469.6" cy="256.1" rx="3.3" ry="4.2" fill="#e6d0ea" opacity="0.7"/>
<ellipse cx="445.6" cy="268.7" rx="4.1" ry="4.3" fill="#d49ccc" opacity="0.7"/>
<ellipse cx="452.1" cy="334.1" rx="4.1" ry="4.5" fill="#d49ccc" opacity="0.7"/>
<ellipse cx="488.4" cy="336.2" rx="3.2" ry="3.4" fill="#bc8cc4" opacity="0.7"/>
<ellipse cx="399.5" cy="206.8" rx="1.8" ry="1.6" fill="#e6d0ea" opacity="0.7"/>
<ellipse cx="512.3" cy="267.7" rx="2.9" ry="3.6" fill="#e6d0ea" opacity="0.7"/>
<ellipse cx="341.1" cy="203.6" rx="2.3" ry="3.0" fill="#ac80ba" opacity="0.7"/>
<ellipse cx="400.1" cy="334.5" rx="4.3" ry="3.5" fill="#ac80ba" opacity="0.7"/>
<ellipse cx="416.1" cy="241.0" rx="4.2" ry="5.7" fill="#ac80ba" opacity="0.7"/>
<ellipse cx="422.5" cy="206.0" rx="2.9" ry="1.8" fill="#d49ccc" opacity="0.7"/>
<ellipse cx="342.7" cy="307.6" rx="1.9" ry="1.4" fill="#bc8cc4" opacity="0.7"/>
<ellipse cx="318.9" cy="232.5" rx="3.8" ry="3.0" fill="#ac80ba" opacity="0.7"/>
<ellipse cx="337.7" cy="300.2" rx="2.1" ry="2.1" fill="#d49ccc" opacity="0.7"/>
<ellipse cx="461.5" cy="295.8" rx="4.2" ry="2.6" fill="#c894c6" opacity="0.7"/>
<ellipse cx="400.0" cy="269.7" rx="2.2" ry="1.7" fill="#c894c6" opacity="0.7"/>
<ellipse cx="424.4" cy="222.6" rx="2.4" ry="2.5" fill="#e6d0ea" opacity="0.7"/>
<ellipse cx="489.6" cy="224.7" rx="3.8" ry="4.7" fill="#bc8cc4" opacity="0.7"/>
<ellipse cx="380.3" cy="237.2" rx="4.3" ry="3.3" fill="#bc8cc4" opacity="0.7"/>
<ellipse cx="495.8" cy="209.8" rx="2.4" ry="2.9" fill="#d49ccc" opacity="0.7"/>
<ellipse cx="394.9" cy="255.4" rx="4.3" ry="4.5" fill="#c894c6" opacity="0.7"/>
<ellipse cx="342.0" cy="250.5" rx="3.7" ry="2.2" fill="#bc8cc4" opacity="0.7"/>
<ellipse cx="431.6" cy="243.7" rx="4.0" ry="3.6" fill="#c894c6" opacity="0.7"/>
<ellipse cx="418.6" cy="304.4" rx="3.2" ry="3.6" fill="#bc8cc4" opacity="0.7"/>
<ellipse cx="478.7" cy="262.5" rx="1.9" ry="2.3" fill="#e6d0ea" opacity="0.7"/>
<ellipse cx="420.5" cy="275.7" rx="2.2" ry="1.6" fill="#bc8cc4" opacity="0.7"/>
<ellipse cx="351.3" cy="213.4" rx="2.6" ry="2.9" fill="#e6d0ea" opacity="0.7"/>
<ellipse cx="329.0" cy="333.7" rx="3.0" ry="3.7" fill="#d49ccc" opacity="0.7"/>
<ellipse cx="395.5" cy="254.1" rx="2.8" ry="2.1" fill="#d49ccc" opacity="0.7"/>
<ellipse cx="319.2" cy="295.7" rx="4.1" ry="3.0" fill="#ac80ba" opacity="0.7"/>
<ellipse cx="389.1" cy="245.6" rx="4.3" ry="4.6" fill="#dcc0e0" opacity="0.7"/>
<ellipse cx="420.0" cy="191.8" rx="4.2" ry="5.2" fill="#c894c6" opacity="0.7"/>
<ellipse cx="493.4" cy="327.2" rx="4.3" ry="4.6" fill="#bc8cc4" opacity="0.7"/>
<ellipse cx="418.4" cy="338.4" rx="4.0" ry="3.2" fill="#dcc0e0" opacity="0.7"/>
<ellipse cx="466.9" cy="307.4" rx="4.0" ry="3.7" fill="#d49ccc" opacity="0.7"/>
<ellipse cx="494.2" cy="294.8" rx="3.9" ry="4.7" fill="#ac80ba" opacity="0.7"/>
<ellipse cx="358.3" cy="217.5" rx="4.0" ry="3.3" fill="#dcc0e0" opacity="0.7"/>
<ellipse cx="318.6" cy="243.4" rx="3.5" ry="3.9" fill="#bc8cc4" opacity="0.7"/>
<ellipse cx="371.6" cy="335.2" rx="2.6" ry="2.0" fill="#ac80ba" opacity="0.7"/>
<ellipse cx="431.6" cy="270.3" rx="2.9" ry="4.0" fill="#c894c6" opacity="0.7"/>
<ellipse cx="359.6" cy="207.6" rx="2.9" ry="3.0" fill="#dcc0e0" opacity="0.7"/>
<ellipse cx="440.8" cy="301.4" rx="2.5" ry="2.3" fill="#dcc0e0" opacity="0.7"/>
<ellipse cx="470.3" cy="287.7" rx="1.8" ry="1.5" fill="#d49ccc" opacity="0.7"/>
<ellipse cx="499.4" cy="272.8" rx="3.2" ry="4.4" fill="#e6d0ea" opacity="0.7"/>
<ellipse cx="487.5" cy="204.6" rx="3.0" ry="3.3" fill="#e6d0ea" opacity="0.7"/>
<ellipse cx="437.2" cy="304.5" rx="1.9" ry="2.6" fill="#bc8cc4" opacity="0.7"/>
<ellipse cx="394.5" cy="336.5" rx="4.1" ry="4.2" fill="#e6d0ea" opacity="0.7"/>
<ellipse cx="328.3" cy="332.7" rx="2.9" ry="3.0" fill="#e6d0ea" opacity="0.7"/>
<ellipse cx="379.6" cy="269.9" rx="3.1" ry="2.5" fill="#d49ccc" opacity="0.7"/>
<ellipse cx="450.5" cy="302.8" rx="1.9" ry="2.3" fill="#e6d0ea" opacity="0.7"/>
<ellipse cx="325.1" cy="213.2" rx="3.8" ry="3.5" fill="#d49ccc" opacity="0.7"/>
<ellipse cx="467.7" cy="197.1" rx="4.5" ry="6.1" fill="#dcc0e0" opacity="0.7"/>
<ellipse cx="477.6" cy="223.4" rx="3.7" ry="3.0" fill="#bc8cc4" opacity="0.7"/>
<ellipse cx="325.7" cy="204.4" rx="4.0" ry="5.3" fill="#bc8cc4" opacity="0.7"/>
<ellipse cx="514.2" cy="313.2" rx="3.4" ry="2.4" fill="#e6d0ea" opacity="0.7"/>
<ellipse cx="400.8" cy="207.4" rx="4.1" ry="3.7" fill="#bc8cc4" opacity="0.7"/>
<ellipse cx="341.6" cy="256.6" rx="3.6" ry="3.5" fill="#d49ccc" opacity="0.7"/>
<ellipse cx="445.7" cy="292.8" rx="2.8" ry="3.3" fill="#bc8cc4" opacity="0.7"/>
<ellipse cx="508.9" cy="300.7" rx="2.4" ry="1.7" fill="#d49ccc" opacity="0.7"/>
<ellipse cx="474.9" cy="284.2" rx="2.8" ry="2.3" fill="#c894c6" opacity="0.7"/>
<ellipse cx="463.0" cy="295.4" rx="2.3" ry="1.9" fill="#bc8cc4" opacity="0.7"/>
<ellipse cx="354.8" cy="227.2" rx="4.4" ry="5.9" fill="#c894c6" opacity="0.7"/>
<ellipse cx="324.5" cy="198.7" rx="2.5" ry="2.4" fill="#e6d0ea" opacity="0.7"/>
<ellipse cx="324.2" cy="223.2" rx="2.6" ry="3.1" fill="#c894c6" opacity="0.7"/>
<ellipse cx="349.0" cy="225.1" rx="4.5" ry="4.4" fill="#d49ccc" opacity="0.7"/>
<ellipse cx="359.0" cy="241.6" rx="3.8" ry="4.8" fill="#dcc0e0" opacity="0.7"/>
<ellipse cx="478.6" cy="257.3" rx="4.0" ry="5.1" fill="#bc8cc4" opacity="0.7"/>
<ellipse cx="406.3" cy="302.7" rx="2.9" ry="2.1" fill="#bc8cc4" opacity="0.7"/>
<ellipse cx="448.5" cy="339.4" rx="2.7" ry="2.8" fill="#c894c6" opacity="0.7"/>
<ellipse cx="483.4" cy="217.4" rx="3.6" ry="3.8" fill="#ac80ba" opacity="0.7"/>
<ellipse cx="493.3" cy="201.4" rx="2.0" ry="2.1" fill="#ac80ba" opacity="0.7"/>
<ellipse cx="481.2" cy="259.7" rx="4.0" ry="2.4" fill="#d49ccc" opacity="0.7"/>
<ellipse cx="359.6" cy="289.8" rx="2.0" ry="1.7" fill="#c894c6" opacity="0.7"/>
<ellipse cx="470.9" cy="239.2" rx="4.2" ry="3.2" fill="#c894c6" opacity="0.7"/>
<ellipse cx="463.1" cy="245.0" rx="2.1" ry="2.5" fill="#e6d0ea" opacity="0.7"/>
<ellipse cx="436.6" cy="326.2" rx="3.7" ry="3.0" fill="#e6d0ea" opacity="0.7"/>
<ellipse cx="478.7" cy="235.7" rx="2.7" ry="2.4" fill="#c894c6" opacity="0.7"/>
<ellipse cx="497.2" cy="227.1" rx="2.8" ry="2.5" fill="#d49ccc" opacity="0.7"/>
<ellipse cx="453.3" cy="278.1" rx="3.9" ry="4.7" fill="#d49ccc" opacity="0.7"/>
<ellipse cx="477.5" cy="271.4" rx="4.1" ry="4.3" fill="#bc8cc4" opacity="0.7"/>
<ellipse cx="334.6" cy="258.3" rx="4.1" ry="5.1" fill="#bc8cc4" opacity="0.7"/>
<ellipse cx="420.7" cy="271.9" rx="3.3" ry="4.6" fill="#c894c6" opacity="0.7"/>
<ellipse cx="486.5" cy="253.5" rx="3.4" ry="2.8" fill="#e6d0ea" opacity="0.7"/>
<ellipse cx="333.5" cy="201.9" rx="3.8" ry="5.0" fill="#dcc0e0" opacity="0.7"/>
<ellipse cx="321.7" cy="288.5" rx="2.1" ry="2.6" fill="#ac80ba" opacity="0.7"/>
<ellipse cx="366.1" cy="222.9" rx="3.9" ry="3.9" fill="#ac80ba" opacity="0.7"/>
<ellipse cx="396.2" cy="240.7" rx="4.4" ry="5.0" fill="#ac80ba" opacity="0.7"/>
<ellipse cx="415.1" cy="311.4" rx="2.0" ry="2.2" fill="#dcc0e0" opacity="0.7"/>
<ellipse cx="399.4" cy="314.7" rx="3.6" ry="4.6" fill="#ac80ba" opacity="0.7"/>
<ellipse cx="484.9" cy="324.1" rx="4.4" ry="4.9" fill="#e6d0ea" opacity="0.7"/>
<ellipse cx="389.6" cy="191.0" rx="2.1" ry="2.8" fill="#bc8cc4" opacity="0.7"/>
<ellipse cx="366.1" cy="214.1" rx="3.5" ry="4.0" fill="#d49ccc" opacity="0.7"/>
<ellipse cx="357.8" cy="253.9" rx="2.6" ry="3.6" fill="#dcc0e0" opacity="0.7"/>
<ellipse cx="411.7" cy="300.2" rx="2.6" ry="1.9" fill="#bc8cc4" opacity="0.7"/>
<ellipse cx="500.8" cy="303.6" rx="1.8" ry="1.8" fill="#dcc0e0" opacity="0.7"/>
<ellipse cx="379.6" cy="219.4" rx="2.8" ry="3.0" fill="#e6d0ea" opacity="0.7"/>
<ellipse cx="461.4" cy="279.6" rx="2.4" ry="1.8" fill="#d49ccc" opacity="0.7"/>
<ellipse cx="397.8" cy="327.5" rx="4.3" ry="4.8" fill="#e6d0ea" opacity="0.7"/>
<ellipse cx="413.4" cy="229.0" rx="4.2" ry="5.6" fill="#d49ccc" opacity="0.7"/>
<ellipse cx="449.9" cy="306.4" rx="2.0" ry="2.6" fill="#ac80ba" opacity="0.7"/>
<ellipse cx="326.5" cy="333.0" rx="4.0" ry="3.6" fill="#e6d0ea" opacity="0.7"/>
<ellipse cx="477.0" cy="306.8" rx="3.9" ry="2.5" fill="#bc8cc4" opacity="0.7"/>
<ellipse cx="496.7" cy="321.9" rx="4.2" ry="4.1" fill="#bc8cc4" opacity="0.7"/>
<ellipse cx="460.6" cy="281.3" rx="2.2" ry="1.6" fill="#d49ccc" opacity="0.7"/>
<ellipse cx="345.7" cy="327.1" rx="4.0" ry="2.8" fill="#c894c6" opacity="0.7"/>
<ellipse cx="517.1" cy="229.9" rx="3.2" ry="2.3" fill="#bc8cc4" opacity="0.7"/>
<ellipse cx="316.8" cy="313.9" rx="4.1" ry="5.1" fill="#dcc0e0" opacity="0.7"/>
<ellipse cx="387.5" cy="282.7" rx="3.2" ry="4.2" fill="#c894c6" opacity="0.7"/>
<ellipse cx="411.2" cy="334.3" rx="3.4" ry="4.4" fill="#d49ccc" opacity="0.7"/>
<ellipse cx="320.3" cy="217.9" rx="2.3" ry="2.7" fill="#ac80ba" opacity="0.7"/>
<ellipse cx="358.6" cy="271.8" rx="3.2" ry="2.3" fill="#d49ccc" opacity="0.7"/>
<ellipse cx="380.4" cy="250.9" rx="3.3" ry="4.6" fill="#c894c6" opacity="0.7"/>
<ellipse cx="461.0" cy="244.0" rx="3.7" ry="2.5" fill="#ac80ba" opacity="0.7"/>
<ellipse cx="453.0" cy="302.6" rx="3.9" ry="2.7" fill="#ac80ba" opacity="0.7"/>
<ellipse cx="319.0" cy="246.6" rx="3.7" ry="2.9" fill="#e6d0ea" opacity="0.7"/>
<ellipse cx="339.4" cy="306.4" rx="4.1" ry="5.2" fill="#c894c6" opacity="0.7"/>
<ellipse cx="358.3" cy="282.8" rx="2.6" ry="2.3" fill="#e6d0ea" opacity="0.7"/>
<ellipse cx="467.9" cy="334.0" rx="3.8" ry="4.0" fill="#dcc0e0" opacity="0.7"/>
<ellipse cx="368.3" cy="219.8" rx="3.8" ry="3.3" fill="#d49ccc" opacity="0.7"/>
<ellipse cx="430.2" cy="299.2" rx="2.7" ry="3.4" fill="#dcc0e0" opacity="0.7"/>
<ellipse cx="337.1" cy="283.7" rx="2.2" ry="2.4" fill="#bc8cc4" opacity="0.7"/>
<ellipse cx="352.8" cy="250.4" rx="4.1" ry="4.4" fill="#dcc0e0" opacity="0.7"/>
<ellipse cx="336.8" cy="194.4" rx="4.5" ry="4.2" fill="#dcc0e0" opacity="0.7"/>
<ellipse cx="385.5" cy="314.2" rx="4.3" ry="3.1" fill="#bc8cc4" opacity="0.7"/>
<ellipse cx="471.4" cy="313.9" rx="2.8" ry="2.5" fill="#ac80ba" opacity="0.7"/>
<ellipse cx="442.4" cy="299.6" rx="3.5" ry="3.0" fill="#bc8cc4" opacity="0.7"/>
<ellipse cx="449.9" cy="281.7" rx="1.9" ry="1.6" fill="#d49ccc" opacity="0.7"/>
<ellipse cx="378.5" cy="256.3" rx="3.3" ry="2.5" fill="#d49ccc" opacity="0.7"/>
<ellipse cx="475.8" cy="314.5" rx="3.5" ry="2.5" fill="#e6d0ea" opacity="0.7"/>
<ellipse cx="498.9" cy="272.6" rx="2.8" ry="2.8" fill="#bc8cc4" opacity="0.7"/>
<ellipse cx="432.5" cy="219.5" rx="4.3" ry="6.0" fill="#c894c6" opacity="0.7"/>
<ellipse cx="485.3" cy="219.4" rx="4.4" ry="4.8" fill="#bc8cc4" opacity="0.7"/>
<ellipse cx="473.4" cy="210.1" rx="3.1" ry="2.9" fill="#d49ccc" opacity="0.7"/>
<ellipse cx="383.0" cy="330.3" rx="2.8" ry="2.7" fill="#dcc0e0" opacity="0.7"/>
<ellipse cx="407.9" cy="300.1" rx="2.4" ry="2.6" fill="#e6d0ea" opacity="0.7"/>
<ellipse cx="429.8" cy="274.4" rx="2.5" ry="3.3" fill="#d49ccc" opacity="0.7"/>
<ellipse cx="438.0" cy="208.1" rx="4.0" ry="3.3" fill="#d49ccc" opacity="0.7"/>
<ellipse cx="365.2" cy="276.4" rx="4.0" ry="3.0" fill="#e6d0ea" opacity="0.7"/>
<ellipse cx="480.4" cy="258.3" rx="2.9" ry="3.5" fill="#c894c6" opacity="0.7"/>
<ellipse cx="344.4" cy="304.0" rx="4.1" ry="5.4" fill="#e6d0ea" opacity="0.7"/>
<ellipse cx="436.1" cy="311.3" rx="1.8" ry="1.4" fill="#ac80ba" opacity="0.7"/>
<ellipse cx="323.2" cy="269.5" rx="2.1" ry="2.0" fill="#d49ccc" opacity="0.7"/>
<ellipse cx="421.5" cy="229.4" rx="3.3" ry="2.9" fill="#c894c6" opacity="0.7"/>
<ellipse cx="474.9" cy="298.8" rx="3.9" ry="3.6" fill="#ac80ba" opacity="0.7"/>
<ellipse cx="437.7" cy="260.7" rx="2.9" ry="3.2" fill="#c894c6" opacity="0.7"/>
<ellipse cx="430.6" cy="251.2" rx="2.6" ry="3.4" fill="#ac80ba" opacity="0.7"/>
<ellipse cx="485.8" cy="319.0" rx="2.9" ry="2.8" fill="#e6d0ea" opacity="0.7"/>
<ellipse cx="339.7" cy="331.7" rx="2.7" ry="2.7" fill="#ac80ba" opacity="0.7"/>
<ellipse cx="499.2" cy="238.1" rx="1.9" ry="2.3" fill="#ac80ba" opacity="0.7"/>
<ellipse cx="464.4" cy="280.0" rx="3.8" ry="3.2" fill="#e6d0ea" opacity="0.7"/>
<ellipse cx="493.7" cy="226.5" rx="4.1" ry="3.2" fill="#ac80ba" opacity="0.7"/>
<ellipse cx="513.0" cy="261.6" rx="2.1" ry="2.8" fill="#e6d0ea" opacity="0.7"/>
<ellipse cx="378.4" cy="249.4" rx="2.4" ry="1.6" fill="#c894c6" opacity="0.7"/>
<ellipse cx="511.7" cy="290.4" rx="4.1" ry="3.9" fill="#bc8cc4" opacity="0.7"/>
<ellipse cx="361.3" cy="302.6" rx="3.3" ry="4.4" fill="#dcc0e0" opacity="0.7"/>
<ellipse cx="421.5" cy="209.2" rx="4.2" ry="4.4" fill="#ac80ba" opacity="0.7"/>
<ellipse cx="316.6" cy="226.5" rx="2.6" ry="2.2" fill="#dcc0e0" opacity="0.7"/>
<ellipse cx="405.5" cy="257.7" rx="3.2" ry="2.3" fill="#c894c6" opacity="0.7"/>
<ellipse cx="434.8" cy="196.5" rx="1.9" ry="2.5" fill="#d49ccc" opacity="0.7"/>
<ellipse cx="382.0" cy="211.2" rx="3.9" ry="4.8" fill="#bc8cc4" opacity="0.7"/>
<ellipse cx="357.4" cy="319.6" rx="3.7" ry="2.4" fill="#d49ccc" opacity="0.7"/>
<ellipse cx="485.8" cy="243.2" rx="3.1" ry="2.3" fill="#c894c6" opacity="0.7"/>
<ellipse cx="517.6" cy="220.1" rx="3.5" ry="2.6" fill="#dcc0e0" opacity="0.7"/>
<ellipse cx="447.8" cy="235.9" rx="4.0" ry="5.5" fill="#d49ccc" opacity="0.7"/>
<ellipse cx="492.2" cy="297.5" rx="2.2" ry="2.5" fill="#ac80ba" opacity="0.7"/>
<ellipse cx="400.4" cy="215.2" rx="4.1" ry="2.9" fill="#c894c6" opacity="0.7"/>
<ellipse cx="356.2" cy="216.9" rx="2.4" ry="2.8" fill="#d49ccc" opacity="0.7"/>
<ellipse cx="391.7" cy="289.8" rx="4.2" ry="4.5" fill="#bc8cc4" opacity="0.7"/>
<ellipse cx="513.9" cy="325.2" rx="2.3" ry="1.8" fill="#bc8cc4" opacity="0.7"/>
<ellipse cx="445.8" cy="203.1" rx="4.5" ry="4.2" fill="#e6d0ea" opacity="0.7"/>
<ellipse cx="331.4" cy="327.0" rx="1.8" ry="1.9" fill="#e6d0ea" opacity="0.7"/>
<ellipse cx="367.2" cy="311.2" rx="2.0" ry="1.7" fill="#bc8cc4" opacity="0.7"/>
<ellipse cx="366.2" cy="231.8" rx="3.3" ry="2.5" fill="#bc8cc4" opacity="0.7"/>
<ellipse cx="516.0" cy="194.6" rx="3.0" ry="3.7" fill="#ac80ba" opacity="0.7"/>
<ellipse cx="317.0" cy="324.6" rx="2.0" ry="1.3" fill="#c894c6" opacity="0.7"/>
<ellipse cx="500.3" cy="238.1" rx="3.1" ry="1.9" fill="#d49ccc" opacity="0.7"/>
<ellipse cx="418.6" cy="317.6" rx="3.6" ry="3.7" fill="#e6d0ea" opacity="0.7"/>
<ellipse cx="351.6" cy="307.6" rx="2.2" ry="2.4" fill="#bc8cc4" opacity="0.7"/>
<ellipse cx="451.5" cy="272.5" rx="2.5" ry="2.9" fill="#c894c6" opacity="0.7"/>
<ellipse cx="364.2" cy="263.6" rx="2.4" ry="2.6" fill="#ac80ba" opacity="0.7"/>
<ellipse cx="369.3" cy="220.2" rx="4.4" ry="2.8" fill="#ac80ba" opacity="0.7"/>
<ellipse cx="492.8" cy="216.8" rx="2.2" ry="1.4" fill="#ac80ba" opacity="0.7"/>
<ellipse cx="479.3" cy="265.8" rx="3.8" ry="4.8" fill="#dcc0e0" opacity="0.7"/>
<ellipse cx="331.2" cy="327.0" rx="3.3" ry="3.5" fill="#c894c6" opacity="0.7"/>
<ellipse cx="364.6" cy="211.7" rx="2.6" ry="1.7" fill="#d49ccc" opacity="0.7"/>
<ellipse cx="482.1" cy="301.4" rx="3.9" ry="4.7" fill="#ac80ba" opacity="0.7"/>
<ellipse cx="334.4" cy="313.8" rx="2.3" ry="1.8" fill="#bc8cc4" opacity="0.7"/>
<ellipse cx="416.9" cy="289.3" rx="3.4" ry="3.3" fill="#d49ccc" opacity="0.7"/>
<ellipse cx="399.4" cy="244.7" rx="2.4" ry="3.3" fill="#dcc0e0" opacity="0.7"/>
<ellipse cx="342.4" cy="303.9" rx="3.4" ry="2.4" fill="#c894c6" opacity="0.7"/>
<ellipse cx="408.5" cy="302.4" rx="1.9" ry="1.5" fill="#e6d0ea" opacity="0.7"/>
<ellipse cx="345.1" cy="249.0" rx="2.6" ry="2.4" fill="#dcc0e0" opacity="0.7"/>
<ellipse cx="512.8" cy="292.5" rx="3.7" ry="5.2" fill="#e6d0ea" opacity="0.7"/>
<ellipse cx="362.9" cy="227.9" rx="3.3" ry="2.6" fill="#ac80ba" opacity="0.7"/>
<ellipse cx="333.9" cy="223.9" rx="2.6" ry="3.6" fill="#e6d0ea" opacity="0.7"/>
<ellipse cx="360.6" cy="213.8" rx="3.4" ry="4.7" fill="#c894c6" opacity="0.7"/>
<ellipse cx="385.8" cy="294.7" rx="4.1" ry="4.4" fill="#bc8cc4" opacity="0.7"/>
<ellipse cx="409.9" cy="249.0" rx="4.1" ry="3.7" fill="#dcc0e0" opacity="0.7"/>
<ellipse cx="360.0" cy="242.1" rx="2.3" ry="2.4" fill="#bc8cc4" opacity="0.7"/>
<ellipse cx="413.5" cy="250.1" rx="3.4" ry="4.1" fill="#ac80ba" opacity="0.7"/>
<ellipse cx="406.8" cy="340.0" rx="3.6" ry="4.7" fill="#bc8cc4" opacity="0.7"/>
<ellipse cx="425.6" cy="253.0" rx="1.9" ry="1.6" fill="#d49ccc" opacity="0.7"/>
<ellipse cx="441.9" cy="268.1" rx="3.8" ry="3.8" fill="#e6d0ea" opacity="0.7"/>
<ellipse cx="503.1" cy="297.9" rx="2.5" ry="2.2" fill="#bc8cc4" opacity="0.7"/>
<ellipse cx="463.6" cy="307.2" rx="2.2" ry="1.7" fill="#dcc0e0" opacity="0.7"/>
<ellipse cx="320.6" cy="238.3" rx="2.8" ry="1.9" fill="#ac80ba" opacity="0.7"/>
<ellipse cx="382.2" cy="306.3" rx="3.2" ry="2.1" fill="#ac80ba" opacity="0.7"/>
<ellipse cx="439.3" cy="263.5" rx="2.3" ry="2.3" fill="#bc8cc4" opacity="0.7"/>
<ellipse cx="322.9" cy="236.8" rx="2.9" ry="3.0" fill="#bc8cc4" opacity="0.7"/>
<ellipse cx="420.9" cy="272.5" rx="2.6" ry="2.5" fill="#ac80ba" opacity="0.7"/>
<ellipse cx="346.2" cy="220.5" rx="2.6" ry="3.0" fill="#ac80ba" opacity="0.7"/>
<ellipse cx="344.1" cy="267.8" rx="2.8" ry="1.9" fill="#d49ccc" opacity="0.7"/>
<ellipse cx="386.2" cy="222.2" rx="1.9" ry="1.2" fill="#c894c6" opacity="0.7"/>
<ellipse cx="414.0" cy="191.2" rx="3.9" ry="4.6" fill="#c894c6" opacity="0.7"/>
<ellipse cx="451.9" cy="328.7" rx="2.4" ry="2.7" fill="#c894c6" opacity="0.7"/>
<ellipse cx="341.2" cy="306.9" rx="2.8" ry="3.4" fill="#d49ccc" opacity="0.7"/>
<ellipse cx="334.7" cy="254.3" rx="2.9" ry="1.9" fill="#ac80ba" opacity="0.7"/>
<ellipse cx="504.5" cy="232.6" rx="3.7" ry="2.9" fill="#ac80ba" opacity="0.7"/>
<ellipse cx="357.3" cy="305.9" rx="2.7" ry="3.2" fill="#e6d0ea" opacity="0.7"/>
<ellipse cx="335.3" cy="241.3" rx="2.9" ry="2.1" fill="#e6d0ea" opacity="0.7"/>
<ellipse cx="368.4" cy="318.7" rx="2.6" ry="3.5" fill="#ac80ba" opacity="0.7"/>
<ellipse cx="340.8" cy="327.3" rx="4.3" ry="3.5" fill="#ac80ba" opacity="0.7"/>
<ellipse cx="416.6" cy="278.3" rx="3.1" ry="2.6" fill="#d49ccc" opacity="0.7"/>
<ellipse cx="331.1" cy="194.9" rx="2.7" ry="2.4" fill="#d49ccc" opacity="0.7"/>
<ellipse cx="369.4" cy="290.7" rx="2.3" ry="2.2" fill="#e6d0ea" opacity="0.7"/>
<ellipse cx="385.5" cy="325.5" rx="1.9" ry="2.2" fill="#bc8cc4" opacity="0.7"/>
<ellipse cx="472.3" cy="284.5" rx="3.5" ry="3.2" fill="#ac80ba" opacity="0.7"/>
<ellipse cx="329.4" cy="199.9" rx="3.1" ry="2.9" fill="#ac80ba" opacity="0.7"/>
<ellipse cx="324.2" cy="210.1" rx="3.2" ry="2.7" fill="#d49ccc" opacity="0.7"/>
<ellipse cx="412.1" cy="192.7" rx="3.4" ry="2.8" fill="#d49ccc" opacity="0.7"/>
<ellipse cx="453.9" cy="225.0" rx="1.8" ry="1.9" fill="#ac80ba" opacity="0.7"/>
<ellipse cx="317.2" cy="272.4" rx="4.1" ry="5.0" fill="#dcc0e0" opacity="0.7"/>
<ellipse cx="442.6" cy="274.5" rx="4.0" ry="5.6" fill="#d49ccc" opacity="0.7"/>
<ellipse cx="369.8" cy="205.2" rx="1.9" ry="2.3" fill="#bc8cc4" opacity="0.7"/>
<ellipse cx="457.0" cy="293.5" rx="4.4" ry="5.5" fill="#bc8cc4" opacity="0.7"/>
<ellipse cx="383.8" cy="293.9" rx="4.0" ry="3.3" fill="#ac80ba" opacity="0.7"/>
<ellipse cx="374.2" cy="303.0" rx="3.2" ry="2.6" fill="#bc8cc4" opacity="0.7"/>
<ellipse cx="389.7" cy="296.5" rx="4.3" ry="5.1" fill="#dcc0e0" opacity="0.7"/>
<ellipse cx="516.3" cy="313.4" rx="4.2" ry="3.6" fill="#ac80ba" opacity="0.7"/>
<ellipse cx="420.0" cy="292.4" rx="1.9" ry="2.1" fill="#ac80ba" opacity="0.7"/>
<ellipse cx="492.2" cy="197.6" rx="2.5" ry="2.5" fill="#c894c6" opacity="0.7"/>
<ellipse cx="395.7" cy="298.0" rx="2.5" ry="2.9" fill="#d49ccc" opacity="0.7"/>
<ellipse cx="353.6" cy="319.2" rx="2.4" ry="2.5" fill="#bc8cc4" opacity="0.7"/>
<ellipse cx="431.1" cy="253.2" rx="3.7" ry="4.1" fill="#d49ccc" opacity="0.7"/>
<ellipse cx="478.4" cy="208.5" rx="2.8" ry="3.2" fill="#bc8cc4" opacity="0.7"/>
<ellipse cx="448.2" cy="337.0" rx="3.1" ry="3.6" fill="#bc8cc4" opacity="0.7"/>
<ellipse cx="370.6" cy="230.6" rx="2.5" ry="2.8" fill="#ac80ba" opacity="0.7"/>
<ellipse cx="505.0" cy="339.3" rx="1.9" ry="2.3" fill="#dcc0e0" opacity="0.7"/>
<ellipse cx="492.4" cy="218.9" rx="2.8" ry="2.8" fill="#dcc0e0" opacity="0.7"/>
<ellipse cx="398.2" cy="326.6" rx="4.0" ry="5.2" fill="#bc8cc4" opacity="0.7"/>
<ellipse cx="391.9" cy="236.3" rx="4.0" ry="5.0" fill="#d49ccc" opacity="0.7"/>
<ellipse cx="361.7" cy="298.9" rx="2.9" ry="2.1" fill="#e6d0ea" opacity="0.7"/>
<ellipse cx="395.1" cy="294.6" rx="3.3" ry="4.1" fill="#bc8cc4" opacity="0.7"/>
<ellipse cx="405.8" cy="315.8" rx="3.3" ry="4.3" fill="#ac80ba" opacity="0.7"/>
<ellipse cx="403.9" cy="212.5" rx="4.2" ry="3.4" fill="#e6d0ea" opacity="0.7"/>
<ellipse cx="345.5" cy="284.2" rx="2.5" ry="2.0" fill="#ac80ba" opacity="0.7"/>
<ellipse cx="357.1" cy="273.0" rx="3.3" ry="2.4" fill="#dcc0e0" opacity="0.7"/>
<ellipse cx="496.8" cy="236.4" rx="2.0" ry="1.5" fill="#ac80ba" opacity="0.7"/>
<ellipse cx="344.7" cy="309.0" rx="4.5" ry="4.1" fill="#dcc0e0" opacity="0.7"/>
<ellipse cx="400.2" cy="311.8" rx="2.9" ry="1.9" fill="#e6d0ea" opacity="0.7"/>
<ellipse cx="441.1" cy="314.8" rx="2.5" ry="1.9" fill="#d49ccc" opacity="0.7"/>
<ellipse cx="491.1" cy="340.1" rx="3.0" ry="3.8" fill="#c894c6" opacity="0.7"/>
<ellipse cx="326.0" cy="319.4" rx="4.4" ry="4.5" fill="#c894c6" opacity="0.7"/>
<ellipse cx="331.6" cy="243.9" rx="3.8" ry="3.3" fill="#e6d0ea" opacity="0.7"/>
<ellipse cx="410.6" cy="323.8" rx="2.0" ry="1.8" fill="#e6d0ea" opacity="0.7"/>
<ellipse cx="370.0" cy="226.6" rx="4.3" ry="4.3" fill="#d49ccc" opacity="0.7"/>
<ellipse cx="478.7" cy="314.9" rx="3.9" ry="5.4" fill="#dcc0e0" opacity="0.7"/>
<ellipse cx="505.6" cy="262.5" rx="4.1" ry="3.8" fill="#e6d0ea" opacity="0.7"/>
<ellipse cx="321.2" cy="276.9" rx="2.4" ry="2.2" fill="#d49ccc" opacity="0.7"/>
<ellipse cx="418.7" cy="231.4" rx="4.5" ry="4.9" fill="#ac80ba" opacity="0.7"/>
<ellipse cx="388.0" cy="231.8" rx="4.2" ry="3.6" fill="#dcc0e0" opacity="0.7"/>
<ellipse cx="370.0" cy="221.9" rx="2.3" ry="1.5" fill="#bc8cc4" opacity="0.7"/>
<ellipse cx="426.8" cy="292.6" rx="2.3" ry="1.6" fill="#bc8cc4" opacity="0.7"/>
<ellipse cx="391.8" cy="217.1" rx="1.9" ry="1.7" fill="#dcc0e0" opacity="0.7"/>
<ellipse cx="398.0" cy="238.2" rx="3.3" ry="4.4" fill="#bc8cc4" opacity="0.7"/>
<ellipse cx="320.7" cy="215.9" rx="2.0" ry="2.1" fill="#e6d0ea" opacity="0.7"/>
<ellipse cx="516.0" cy="254.7" rx="4.4" ry="3.4" fill="#ac80ba" opacity="0.7"/>
<ellipse cx="474.1" cy="324.0" rx="4.0" ry="2.6" fill="#ac80ba" opacity="0.7"/>
<ellipse cx="507.9" cy="238.3" rx="2.3" ry="2.0" fill="#dcc0e0" opacity="0.7"/>
<ellipse cx="346.4" cy="285.7" rx="2.8" ry="3.1" fill="#bc8cc4" opacity="0.7"/>
<ellipse cx="441.0" cy="241.7" rx="3.0" ry="3.5" fill="#ac80ba" opacity="0.7"/>
<ellipse cx="418.5" cy="275.5" rx="2.1" ry="2.7" fill="#c894c6" opacity="0.7"/>
<ellipse cx="466.8" cy="255.6" rx="3.1" ry="3.9" fill="#e6d0ea" opacity="0.7"/>
<ellipse cx="363.0" cy="280.5" rx="3.3" ry="3.4" fill="#dcc0e0" opacity="0.7"/>
<ellipse cx="423.2" cy="257.9" rx="2.6" ry="1.6" fill="#dcc0e0" opacity="0.7"/>
<ellipse cx="504.7" cy="212.5" rx="3.1" ry="4.3" fill="#c894c6" opacity="0.7"/>
<ellipse cx="442.3" cy="218.0" rx="3.1" ry="3.2" fill="#dcc0e0" opacity="0.7"/>
<ellipse cx="491.7" cy="208.7" rx="4.5" ry="4.4" fill="#bc8cc4" opacity="0.7"/>
<ellipse cx="354.3" cy="329.5" rx="3.9" ry="2.8" fill="#dcc0e0" opacity="0.7"/>
<ellipse cx="477.6" cy="267.0" rx="4.5" ry="2.9" fill="#dcc0e0" opacity="0.7"/>
<ellipse cx="460.3" cy="227.5" rx="4.0" ry="3.8" fill="#e6d0ea" opacity="0.7"/>
<ellipse cx="319.4" cy="254.2" rx="3.1" ry="4.3" fill="#bc8cc4" opacity="0.7"/>
<ellipse cx="331.4" cy="273.6" rx="3.9" ry="3.9" fill="#bc8cc4" opacity="0.7"/>
<ellipse cx="331.1" cy="264.7" rx="2.0" ry="2.5" fill="#dcc0e0" opacity="0.7"/>
<ellipse cx="477.4" cy="212.5" rx="2.8" ry="1.9" fill="#dcc0e0" opacity="0.7"/>
<ellipse cx="504.1" cy="334.2" rx="2.4" ry="2.0" fill="#ac80ba" opacity="0.7"/>
<ellipse cx="353.2" cy="248.4" rx="4.1" ry="4.5" fill="#ac80ba" opacity="0.7"/>
<ellipse cx="331.0" cy="339.2" rx="2.4" ry="2.6" fill="#c894c6" opacity="0.7"/>
<ellipse cx="512.5" cy="274.3" rx="4.5" ry="4.0" fill="#d49ccc" opacity="0.7"/>
<ellipse cx="457.9" cy="317.5" rx="4.4" ry="4.9" fill="#bc8cc4" opacity="0.7"/>
<ellipse cx="456.9" cy="216.9" rx="2.1" ry="2.5" fill="#ac80ba" opacity="0.7"/>
<ellipse cx="324.9" cy="231.7" rx="2.5" ry="2.2" fill="#e6d0ea" opacity="0.7"/>
<ellipse cx="388.7" cy="219.2" rx="4.5" ry="5.2" fill="#c894c6" opacity="0.7"/>
<ellipse cx="461.5" cy="321.4" rx="3.9" ry="2.9" fill="#dcc0e0" opacity="0.7"/>
<ellipse cx="444.0" cy="253.8" rx="4.0" ry="3.7" fill="#ac80ba" opacity="0.7"/>
<ellipse cx="343.5" cy="208.2" rx="2.1" ry="2.1" fill="#ac80ba" opacity="0.7"/>
<ellipse cx="364.0" cy="277.3" rx="2.6" ry="3.3" fill="#d49ccc" opacity="0.7"/>
<ellipse cx="508.8" cy="201.3" rx="3.6" ry="2.8" fill="#ac80ba" opacity="0.7"/>
<ellipse cx="394.8" cy="302.1" rx="3.4" ry="3.3" fill="#dcc0e0" opacity="0.7"/>
<ellipse cx="390.6" cy="240.0" rx="3.4" ry="3.8" fill="#d49ccc" opacity="0.7"/>
<ellipse cx="375.7" cy="294.8" rx="3.6" ry="2.9" fill="#ac80ba" opacity="0.7"/>
<ellipse cx="392.2" cy="279.4" rx="4.1" ry="3.8" fill="#d49ccc" opacity="0.7"/>
<ellipse cx="385.5" cy="313.8" rx="4.1" ry="4.4" fill="#e6d0ea" opacity="0.7"/>
<ellipse cx="449.3" cy="258.1" rx="2.4" ry="2.9" fill="#dcc0e0" opacity="0.7"/>
<ellipse cx="392.1" cy="299.0" rx="3.6" ry="3.2" fill="#dcc0e0" opacity="0.7"/>
<ellipse cx="451.4" cy="213.1" rx="2.0" ry="1.5" fill="#e6d0ea" opacity="0.7"/>
<ellipse cx="380.3" cy="291.1" rx="3.4" ry="4.7" fill="#dcc0e0" opacity="0.7"/>
<ellipse cx="517.0" cy="249.4" rx="4.0" ry="4.5" fill="#c894c6" opacity="0.7"/>
<ellipse cx="338.7" cy="198.2" rx="4.5" ry="5.1" fill="#c894c6" opacity="0.7"/>
<ellipse cx="504.8" cy="268.0" rx="3.4" ry="3.4" fill="#bc8cc4" opacity="0.7"/>
<ellipse cx="420.6" cy="204.0" rx="3.9" ry="2.4" fill="#c894c6" opacity="0.7"/>
<ellipse cx="457.1" cy="308.6" rx="4.2" ry="4.8" fill="#c894c6" opacity="0.7"/>
<ellipse cx="412.2" cy="323.4" rx="3.0" ry="2.2" fill="#d49ccc" opacity="0.7"/>
<ellipse cx="490.2" cy="332.6" rx="4.2" ry="2.6" fill="#d49ccc" opacity="0.7"/>
<ellipse cx="399.9" cy="274.5" rx="4.4" ry="5.4" fill="#dcc0e0" opacity="0.7"/>
<ellipse cx="377.4" cy="266.4" rx="2.1" ry="2.3" fill="#bc8cc4" opacity="0.7"/>
<ellipse cx="450.4" cy="266.7" rx="2.6" ry="2.3" fill="#bc8cc4" opacity="0.7"/>
<ellipse cx="366.3" cy="252.2" rx="1.9" ry="1.5" fill="#ac80ba" opacity="0.7"/>
<ellipse cx="350.9" cy="205.3" rx="2.2" ry="2.9" fill="#e6d0ea" opacity="0.7"/>
<ellipse cx="347.8" cy="336.5" rx="3.2" ry="3.0" fill="#e6d0ea" opacity="0.7"/>
<ellipse cx="511.1" cy="297.5" rx="2.1" ry="2.7" fill="#bc8cc4" opacity="0.7"/>
<ellipse cx="347.6" cy="313.5" rx="3.8" ry="4.4" fill="#bc8cc4" opacity="0.7"/>
<ellipse cx="375.9" cy="283.2" rx="2.9" ry="2.9" fill="#e6d0ea" opacity="0.7"/>
<ellipse cx="446.4" cy="317.9" rx="1.9" ry="1.8" fill="#dcc0e0" opacity="0.7"/>
<ellipse cx="359.9" cy="270.8" rx="3.6" ry="3.3" fill="#ac80ba" opacity="0.7"/>
<ellipse cx="357.6" cy="340.0" rx="3.3" ry="2.4" fill="#e6d0ea" opacity="0.7"/>
<ellipse cx="503.8" cy="204.2" rx="3.5" ry="2.8" fill="#e6d0ea" opacity="0.7"/>
<ellipse cx="368.7" cy="245.2" rx="3.0" ry="2.9" fill="#d49ccc" opacity="0.7"/>
<ellipse cx="447.5" cy="240.1" rx="2.1" ry="1.8" fill="#e6d0ea" opacity="0.7"/>
<ellipse cx="329.0" cy="269.5" rx="3.3" ry="3.0" fill="#bc8cc4" opacity="0.7"/>
<ellipse cx="452.9" cy="297.5" rx="1.9" ry="1.7" fill="#bc8cc4" opacity="0.7"/>
<ellipse cx="421.5" cy="269.3" rx="3.8" ry="3.4" fill="#e6d0ea" opacity="0.7"/>
<ellipse cx="511.7" cy="190.6" rx="3.4" ry="4.7" fill="#d49ccc" opacity="0.7"/>
<ellipse cx="511.1" cy="294.6" rx="4.1" ry="3.1" fill="#e6d0ea" opacity="0.7"/>
<ellipse cx="327.8" cy="217.3" rx="2.1" ry="2.6" fill="#d49ccc" opacity="0.7"/>
<ellipse cx="327.2" cy="203.6" rx="2.5" ry="2.0" fill="#ac80ba" opacity="0.7"/>
<ellipse cx="447.2" cy="246.1" rx="2.0" ry="2.2" fill="#dcc0e0" opacity="0.7"/>
<ellipse cx="333.8" cy="338.6" rx="4.0" ry="3.5" fill="#d49ccc" opacity="0.7"/>
<ellipse cx="346.7" cy="213.1" rx="2.6" ry="2.1" fill="#ac80ba" opacity="0.7"/>
<ellipse cx="326.2" cy="284.1" rx="3.3" ry="4.4" fill="#c894c6" opacity="0.7"/>
<ellipse cx="461.5" cy="283.0" rx="3.6" ry="2.8" fill="#e6d0ea" opacity="0.7"/>
<ellipse cx="317.6" cy="301.1" rx="2.9" ry="3.4" fill="#dcc0e0" opacity="0.7"/>
<ellipse cx="351.3" cy="202.1" rx="3.7" ry="2.6" fill="#ac80ba" opacity="0.7"/>
<ellipse cx="453.3" cy="310.9" rx="3.0" ry="4.0" fill="#c894c6" opacity="0.7"/>
<ellipse cx="330.9" cy="207.1" rx="4.1" ry="4.6" fill="#e6d0ea" opacity="0.7"/>
<ellipse cx="460.3" cy="296.0" rx="2.9" ry="3.3" fill="#c894c6" opacity="0.7"/>
<ellipse cx="429.7" cy="329.2" rx="2.4" ry="2.2" fill="#e6d0ea" opacity="0.7"/>
<ellipse cx="344.8" cy="333.0" rx="2.2" ry="1.8" fill="#ac80ba" opacity="0.7"/>
<ellipse cx="322.8" cy="254.9" rx="2.8" ry="3.2" fill="#ac80ba" opacity="0.7"/>
<ellipse cx="416.2" cy="294.0" rx="2.8" ry="3.5" fill="#dcc0e0" opacity="0.7"/>
<ellipse cx="427.5" cy="319.0" rx="3.9" ry="3.3" fill="#dcc0e0" opacity="0.7"/>
<ellipse cx="386.4" cy="214.3" rx="2.7" ry="2.9" fill="#e6d0ea" opacity="0.7"/>
<ellipse cx="454.6" cy="258.1" rx="3.4" ry="3.3" fill="#e6d0ea" opacity="0.7"/>
<ellipse cx="346.4" cy="296.1" rx="2.9" ry="1.9" fill="#ac80ba" opacity="0.7"/>
<ellipse cx="363.7" cy="229.1" rx="3.8" ry="4.0" fill="#d49ccc" opacity="0.7"/>
<ellipse cx="502.7" cy="311.1" rx="2.5" ry="2.0" fill="#bc8cc4" opacity="0.7"/>
<ellipse cx="403.9" cy="283.1" rx="3.3" ry="4.6" fill="#e6d0ea" opacity="0.7"/>
<ellipse cx="408.6" cy="263.3" rx="2.4" ry="2.9" fill="#dcc0e0" opacity="0.7"/>
<ellipse cx="453.7" cy="265.3" rx="2.2" ry="3.1" fill="#d49ccc" opacity="0.7"/>
<ellipse cx="431.3" cy="273.1" rx="2.7" ry="1.9" fill="#d49ccc" opacity="0.7"/>
<ellipse cx="479.3" cy="204.3" rx="3.9" ry="3.0" fill="#bc8cc4" opacity="0.7"/>
<ellipse cx="490.5" cy="301.2" rx="2.7" ry="2.0" fill="#bc8cc4" opacity="0.7"/>
<ellipse cx="434.2" cy="325.8" rx="4.3" ry="4.9" fill="#d49ccc" opacity="0.7"/>
<ellipse cx="338.5" cy="308.8" rx="4.0" ry="4.3" fill="#c894c6" opacity="0.7"/>
<ellipse cx="514.9" cy="206.2" rx="2.8" ry="2.0" fill="#d49ccc" opacity="0.7"/>
<ellipse cx="451.4" cy="232.9" rx="3.3" ry="2.7" fill="#dcc0e0" opacity="0.7"/>
<ellipse cx="371.6" cy="232.7" rx="2.5" ry="2.6" fill="#ac80ba" opacity="0.7"/>
<ellipse cx="348.8" cy="319.7" rx="4.1" ry="4.5" fill="#e6d0ea" opacity="0.7"/>
<ellipse cx="478.1" cy="214.2" rx="3.8" ry="4.4" fill="#e6d0ea" opacity="0.7"/>
<ellipse cx="473.1" cy="228.9" rx="1.9" ry="2.6" fill="#d49ccc" opacity="0.7"/>
<ellipse cx="448.2" cy="271.7" rx="3.1" ry="3.6" fill="#d49ccc" opacity="0.7"/>
<ellipse cx="463.8" cy="332.5" rx="3.2" ry="3.3" fill="#d49ccc" opacity="0.7"/>
<ellipse cx="495.4" cy="200.9" rx="3.3" ry="3.5" fill="#c894c6" opacity="0.7"/>
<ellipse cx="466.5" cy="235.3" rx="1.8" ry="2.4" fill="#dcc0e0" opacity="0.7"/>
<ellipse cx="356.0" cy="245.2" rx="2.8" ry="2.0" fill="#c894c6" opacity="0.7"/>
<ellipse cx="450.8" cy="210.8" rx="2.9" ry="2.1" fill="#c894c6" opacity="0.7"/>
<ellipse cx="513.3" cy="337.2" rx="4.3" ry="4.4" fill="#ac80ba" opacity="0.7"/>
<ellipse cx="423.0" cy="217.5" rx="3.2" ry="2.8" fill="#ac80ba" opacity="0.7"/>
<ellipse cx="503.4" cy="322.8" rx="2.1" ry="1.5" fill="#bc8cc4" opacity="0.7"/>
<ellipse cx="332.4" cy="263.3" rx="3.3" ry="4.6" fill="#e6d0ea" opacity="0.7"/>
<ellipse cx="334.5" cy="325.8" rx="2.5" ry="1.9" fill="#d49ccc" opacity="0.7"/>
<ellipse cx="506.2" cy="337.4" rx="4.4" ry="5.9" fill="#ac80ba" opacity="0.7"/>
<ellipse cx="505.4" cy="192.6" rx="3.1" ry="3.3" fill="#c894c6" opacity="0.7"/>
<ellipse cx="431.9" cy="325.6" rx="2.7" ry="2.0" fill="#e6d0ea" opacity="0.7"/>
<ellipse cx="348.2" cy="327.8" rx="2.1" ry="1.8" fill="#d49ccc" opacity="0.7"/>
<ellipse cx="509.8" cy="193.1" rx="1.9" ry="2.4" fill="#c894c6" opacity="0.7"/>
</g>
<rect x="316.5" y="189.5" width="202" height="151.5" filter="url(#grainL1)"/>
<rect x="316.5" y="189.5" width="202" height="151.5" filter="url(#grainD1)"/>
<g filter="url(#bl07)">
<circle cx="438.6" cy="317.8" r="1.4" fill="#f0e2f2" opacity="0.73"/>
<circle cx="333.3" cy="245.7" r="1.6" fill="#f0e2f2" opacity="0.58"/>
<circle cx="396.4" cy="224.7" r="1.0" fill="#f0e2f2" opacity="0.58"/>
<circle cx="395.7" cy="325.6" r="0.8" fill="#f0e2f2" opacity="0.52"/>
<circle cx="391.2" cy="299.0" r="1.1" fill="#f0e2f2" opacity="0.62"/>
<circle cx="448.1" cy="330.5" r="1.0" fill="#f0e2f2" opacity="0.57"/>
<circle cx="359.2" cy="257.9" r="0.8" fill="#f0e2f2" opacity="0.82"/>
<circle cx="353.8" cy="292.2" r="1.2" fill="#f0e2f2" opacity="0.71"/>
<circle cx="432.5" cy="276.4" r="0.6" fill="#f0e2f2" opacity="0.61"/>
<circle cx="329.8" cy="266.7" r="1.3" fill="#f0e2f2" opacity="0.57"/>
<circle cx="323.5" cy="227.1" r="0.7" fill="#f0e2f2" opacity="0.74"/>
<circle cx="418.2" cy="256.4" r="0.6" fill="#f0e2f2" opacity="0.69"/>
<circle cx="344.4" cy="291.0" r="0.7" fill="#f0e2f2" opacity="0.53"/>
<circle cx="485.2" cy="341.0" r="1.0" fill="#f0e2f2" opacity="0.73"/>
<circle cx="363.5" cy="339.9" r="0.8" fill="#f0e2f2" opacity="0.82"/>
<circle cx="430.1" cy="332.5" r="0.7" fill="#f0e2f2" opacity="0.84"/>
<circle cx="500.7" cy="197.4" r="0.6" fill="#f0e2f2" opacity="0.83"/>
<circle cx="402.3" cy="213.5" r="0.7" fill="#f0e2f2" opacity="0.56"/>
<circle cx="416.1" cy="223.8" r="0.9" fill="#f0e2f2" opacity="0.55"/>
<circle cx="344.0" cy="311.2" r="0.9" fill="#f0e2f2" opacity="0.51"/>
<circle cx="364.4" cy="295.8" r="0.8" fill="#f0e2f2" opacity="0.80"/>
<circle cx="495.4" cy="290.7" r="1.0" fill="#f0e2f2" opacity="0.75"/>
<circle cx="503.1" cy="211.7" r="1.5" fill="#f0e2f2" opacity="0.84"/>
<circle cx="463.0" cy="292.0" r="0.7" fill="#f0e2f2" opacity="0.61"/>
<circle cx="434.2" cy="231.0" r="1.1" fill="#f0e2f2" opacity="0.79"/>
<circle cx="405.9" cy="311.2" r="0.9" fill="#f0e2f2" opacity="0.53"/>
<circle cx="448.5" cy="192.0" r="1.5" fill="#f0e2f2" opacity="0.84"/>
<circle cx="505.2" cy="292.1" r="0.8" fill="#f0e2f2" opacity="0.84"/>
<circle cx="445.4" cy="205.4" r="1.1" fill="#f0e2f2" opacity="0.81"/>
<circle cx="437.2" cy="242.6" r="1.6" fill="#f0e2f2" opacity="0.67"/>
<circle cx="324.4" cy="211.8" r="1.1" fill="#f0e2f2" opacity="0.74"/>
<circle cx="405.2" cy="278.0" r="1.1" fill="#f0e2f2" opacity="0.60"/>
<circle cx="325.7" cy="250.3" r="1.4" fill="#f0e2f2" opacity="0.84"/>
<circle cx="321.4" cy="253.7" r="1.6" fill="#f0e2f2" opacity="0.71"/>
<circle cx="329.3" cy="193.2" r="0.9" fill="#f0e2f2" opacity="0.56"/>
<circle cx="512.8" cy="240.5" r="1.4" fill="#f0e2f2" opacity="0.70"/>
<circle cx="455.4" cy="227.5" r="1.3" fill="#f0e2f2" opacity="0.56"/>
<circle cx="345.5" cy="277.3" r="1.2" fill="#f0e2f2" opacity="0.65"/>
<circle cx="435.1" cy="228.3" r="1.5" fill="#f0e2f2" opacity="0.67"/>
<circle cx="453.4" cy="283.7" r="1.5" fill="#f0e2f2" opacity="0.73"/>
<circle cx="411.1" cy="274.6" r="1.5" fill="#f0e2f2" opacity="0.77"/>
<circle cx="505.1" cy="237.0" r="1.2" fill="#f0e2f2" opacity="0.64"/>
<circle cx="458.3" cy="241.0" r="1.2" fill="#f0e2f2" opacity="0.72"/>
<circle cx="317.1" cy="262.1" r="0.7" fill="#f0e2f2" opacity="0.76"/>
<circle cx="478.2" cy="288.1" r="1.3" fill="#f0e2f2" opacity="0.73"/>
<circle cx="397.5" cy="264.9" r="1.4" fill="#f0e2f2" opacity="0.70"/>
<circle cx="327.9" cy="237.9" r="1.2" fill="#f0e2f2" opacity="0.52"/>
<circle cx="345.4" cy="193.6" r="1.1" fill="#f0e2f2" opacity="0.52"/>
<circle cx="373.1" cy="197.2" r="1.2" fill="#f0e2f2" opacity="0.64"/>
<circle cx="324.9" cy="219.0" r="1.2" fill="#f0e2f2" opacity="0.54"/>
<circle cx="387.8" cy="198.3" r="0.7" fill="#f0e2f2" opacity="0.80"/>
<circle cx="347.1" cy="237.4" r="1.3" fill="#f0e2f2" opacity="0.68"/>
<circle cx="503.6" cy="287.5" r="1.3" fill="#f0e2f2" opacity="0.66"/>
<circle cx="376.9" cy="290.7" r="0.7" fill="#f0e2f2" opacity="0.59"/>
<circle cx="463.8" cy="230.9" r="0.9" fill="#f0e2f2" opacity="0.81"/>
<circle cx="340.3" cy="261.6" r="1.3" fill="#f0e2f2" opacity="0.52"/>
<circle cx="479.9" cy="334.4" r="1.3" fill="#f0e2f2" opacity="0.66"/>
<circle cx="446.6" cy="291.8" r="1.0" fill="#f0e2f2" opacity="0.83"/>
<circle cx="491.3" cy="337.4" r="0.8" fill="#f0e2f2" opacity="0.59"/>
<circle cx="374.7" cy="248.6" r="0.9" fill="#f0e2f2" opacity="0.71"/>
<circle cx="473.0" cy="229.1" r="1.3" fill="#f0e2f2" opacity="0.73"/>
<circle cx="467.8" cy="290.9" r="1.0" fill="#f0e2f2" opacity="0.64"/>
<circle cx="396.2" cy="303.4" r="0.6" fill="#f0e2f2" opacity="0.59"/>
<circle cx="416.2" cy="329.5" r="0.8" fill="#f0e2f2" opacity="0.75"/>
<circle cx="324.4" cy="323.4" r="1.1" fill="#f0e2f2" opacity="0.84"/>
<circle cx="363.1" cy="283.2" r="0.7" fill="#f0e2f2" opacity="0.55"/>
<circle cx="403.6" cy="260.2" r="1.3" fill="#f0e2f2" opacity="0.51"/>
<circle cx="370.4" cy="306.4" r="0.7" fill="#f0e2f2" opacity="0.61"/>
<circle cx="327.5" cy="193.5" r="1.1" fill="#f0e2f2" opacity="0.70"/>
<circle cx="377.7" cy="259.8" r="0.7" fill="#f0e2f2" opacity="0.54"/>
<circle cx="360.4" cy="339.7" r="0.7" fill="#f0e2f2" opacity="0.53"/>
<circle cx="458.9" cy="197.1" r="1.4" fill="#f0e2f2" opacity="0.68"/>
<circle cx="374.7" cy="330.8" r="1.0" fill="#f0e2f2" opacity="0.65"/>
<circle cx="397.0" cy="241.0" r="1.6" fill="#f0e2f2" opacity="0.60"/>
<circle cx="490.2" cy="319.3" r="1.1" fill="#f0e2f2" opacity="0.58"/>
<circle cx="502.4" cy="309.1" r="1.5" fill="#f0e2f2" opacity="0.53"/>
<circle cx="403.2" cy="261.6" r="1.0" fill="#f0e2f2" opacity="0.72"/>
<circle cx="479.8" cy="329.6" r="1.1" fill="#f0e2f2" opacity="0.83"/>
<circle cx="434.9" cy="253.1" r="0.6" fill="#f0e2f2" opacity="0.53"/>
<circle cx="353.2" cy="339.0" r="1.2" fill="#f0e2f2" opacity="0.56"/>
<circle cx="512.2" cy="308.8" r="1.2" fill="#f0e2f2" opacity="0.83"/>
<circle cx="370.7" cy="310.3" r="0.6" fill="#f0e2f2" opacity="0.52"/>
<circle cx="328.8" cy="337.3" r="1.6" fill="#f0e2f2" opacity="0.57"/>
<circle cx="367.5" cy="326.6" r="1.2" fill="#f0e2f2" opacity="0.50"/>
<circle cx="410.4" cy="282.7" r="1.5" fill="#f0e2f2" opacity="0.85"/>
<circle cx="417.1" cy="308.4" r="0.8" fill="#f0e2f2" opacity="0.79"/>
<circle cx="365.0" cy="320.3" r="1.0" fill="#f0e2f2" opacity="0.53"/>
<circle cx="430.4" cy="226.7" r="1.2" fill="#f0e2f2" opacity="0.64"/>
<circle cx="393.9" cy="302.1" r="1.3" fill="#f0e2f2" opacity="0.72"/>
<circle cx="358.5" cy="226.6" r="1.3" fill="#f0e2f2" opacity="0.85"/>
<circle cx="493.0" cy="329.8" r="1.2" fill="#f0e2f2" opacity="0.62"/>
<circle cx="320.9" cy="316.0" r="1.3" fill="#f0e2f2" opacity="0.70"/>
<circle cx="465.8" cy="321.3" r="0.8" fill="#f0e2f2" opacity="0.51"/>
<circle cx="335.2" cy="230.1" r="0.8" fill="#f0e2f2" opacity="0.73"/>
<circle cx="357.9" cy="255.4" r="0.8" fill="#f0e2f2" opacity="0.51"/>
<circle cx="492.8" cy="283.7" r="0.7" fill="#f0e2f2" opacity="0.76"/>
<circle cx="442.9" cy="272.9" r="1.3" fill="#f0e2f2" opacity="0.74"/>
<circle cx="418.4" cy="310.8" r="1.5" fill="#f0e2f2" opacity="0.81"/>
<circle cx="331.6" cy="223.9" r="0.8" fill="#f0e2f2" opacity="0.71"/>
<circle cx="437.3" cy="340.5" r="1.1" fill="#f0e2f2" opacity="0.57"/>
<circle cx="376.8" cy="280.5" r="0.7" fill="#f0e2f2" opacity="0.71"/>
<circle cx="463.4" cy="274.8" r="1.0" fill="#f0e2f2" opacity="0.79"/>
<circle cx="386.1" cy="254.1" r="0.7" fill="#f0e2f2" opacity="0.63"/>
<circle cx="491.0" cy="234.9" r="1.6" fill="#f0e2f2" opacity="0.76"/>
<circle cx="404.1" cy="265.0" r="0.7" fill="#f0e2f2" opacity="0.58"/>
<circle cx="448.2" cy="199.6" r="1.6" fill="#f0e2f2" opacity="0.75"/>
<circle cx="385.1" cy="244.8" r="1.1" fill="#f0e2f2" opacity="0.59"/>
<circle cx="454.1" cy="251.3" r="0.8" fill="#f0e2f2" opacity="0.51"/>
<circle cx="468.6" cy="278.1" r="1.4" fill="#f0e2f2" opacity="0.68"/>
<circle cx="320.8" cy="304.2" r="0.9" fill="#f0e2f2" opacity="0.83"/>
<circle cx="382.6" cy="329.3" r="1.4" fill="#f0e2f2" opacity="0.67"/>
<circle cx="414.9" cy="326.8" r="1.6" fill="#f0e2f2" opacity="0.74"/>
<circle cx="336.3" cy="196.8" r="1.1" fill="#f0e2f2" opacity="0.70"/>
<circle cx="405.3" cy="192.9" r="0.9" fill="#f0e2f2" opacity="0.65"/>
<circle cx="327.0" cy="190.9" r="1.1" fill="#f0e2f2" opacity="0.56"/>
<circle cx="389.9" cy="222.2" r="1.3" fill="#f0e2f2" opacity="0.55"/>
<circle cx="433.3" cy="267.3" r="1.1" fill="#f0e2f2" opacity="0.64"/>
<circle cx="398.2" cy="308.9" r="1.2" fill="#f0e2f2" opacity="0.79"/>
<circle cx="440.0" cy="220.8" r="0.6" fill="#f0e2f2" opacity="0.82"/>
<circle cx="445.2" cy="193.5" r="0.8" fill="#f0e2f2" opacity="0.51"/>
<circle cx="328.1" cy="277.7" r="1.3" fill="#f0e2f2" opacity="0.60"/>
<circle cx="383.3" cy="284.1" r="1.0" fill="#f0e2f2" opacity="0.61"/>
<circle cx="480.4" cy="326.5" r="1.4" fill="#f0e2f2" opacity="0.75"/>
<circle cx="322.1" cy="328.5" r="1.4" fill="#f0e2f2" opacity="0.60"/>
<circle cx="418.6" cy="243.9" r="1.1" fill="#f0e2f2" opacity="0.71"/>
<circle cx="381.0" cy="287.6" r="1.5" fill="#f0e2f2" opacity="0.78"/>
<circle cx="495.6" cy="216.1" r="0.8" fill="#f0e2f2" opacity="0.71"/>
<circle cx="470.8" cy="261.2" r="1.2" fill="#f0e2f2" opacity="0.62"/>
<circle cx="472.0" cy="237.8" r="1.5" fill="#f0e2f2" opacity="0.67"/>
<circle cx="328.4" cy="264.2" r="1.3" fill="#f0e2f2" opacity="0.80"/>
<circle cx="467.1" cy="305.6" r="1.3" fill="#f0e2f2" opacity="0.83"/>
<circle cx="321.4" cy="238.6" r="1.2" fill="#f0e2f2" opacity="0.77"/>
<circle cx="415.9" cy="270.3" r="1.0" fill="#f0e2f2" opacity="0.78"/>
<circle cx="400.9" cy="327.2" r="1.2" fill="#f0e2f2" opacity="0.69"/>
<circle cx="325.3" cy="212.6" r="1.3" fill="#f0e2f2" opacity="0.52"/>
<circle cx="474.0" cy="223.0" r="0.6" fill="#f0e2f2" opacity="0.59"/>
<circle cx="317.2" cy="329.5" r="0.9" fill="#f0e2f2" opacity="0.51"/>
<circle cx="390.1" cy="252.6" r="0.8" fill="#f0e2f2" opacity="0.56"/>
<circle cx="349.3" cy="204.1" r="1.3" fill="#f0e2f2" opacity="0.57"/>
<circle cx="426.6" cy="322.9" r="1.5" fill="#f0e2f2" opacity="0.78"/>
<circle cx="406.2" cy="298.3" r="0.8" fill="#f0e2f2" opacity="0.79"/>
<circle cx="389.7" cy="229.7" r="1.0" fill="#f0e2f2" opacity="0.70"/>
<circle cx="518.0" cy="311.2" r="1.4" fill="#f0e2f2" opacity="0.60"/>
<circle cx="376.3" cy="248.8" r="1.2" fill="#f0e2f2" opacity="0.51"/>
<circle cx="408.7" cy="268.6" r="1.0" fill="#f0e2f2" opacity="0.82"/>
<circle cx="429.0" cy="259.6" r="1.0" fill="#f0e2f2" opacity="0.83"/>
<circle cx="334.8" cy="265.4" r="0.8" fill="#f0e2f2" opacity="0.70"/>
<circle cx="448.7" cy="321.7" r="0.8" fill="#f0e2f2" opacity="0.54"/>
<circle cx="424.4" cy="240.4" r="1.0" fill="#f0e2f2" opacity="0.69"/>
<circle cx="324.4" cy="233.3" r="1.0" fill="#f0e2f2" opacity="0.83"/>
<circle cx="423.9" cy="206.6" r="1.5" fill="#f0e2f2" opacity="0.78"/>
<circle cx="460.9" cy="303.2" r="1.0" fill="#f0e2f2" opacity="0.85"/>
<circle cx="497.5" cy="279.1" r="1.1" fill="#f0e2f2" opacity="0.52"/>
<circle cx="459.8" cy="199.9" r="1.3" fill="#f0e2f2" opacity="0.58"/>
<circle cx="417.4" cy="331.3" r="1.3" fill="#f0e2f2" opacity="0.78"/>
<circle cx="516.4" cy="329.1" r="1.2" fill="#f0e2f2" opacity="0.50"/>
<circle cx="462.2" cy="329.6" r="1.2" fill="#f0e2f2" opacity="0.58"/>
<circle cx="379.3" cy="216.4" r="1.5" fill="#f0e2f2" opacity="0.68"/>
<circle cx="513.8" cy="217.4" r="0.8" fill="#f0e2f2" opacity="0.78"/>
<circle cx="361.7" cy="214.6" r="0.9" fill="#f0e2f2" opacity="0.75"/>
<circle cx="461.1" cy="309.3" r="1.2" fill="#f0e2f2" opacity="0.76"/>
<circle cx="495.6" cy="287.2" r="1.6" fill="#f0e2f2" opacity="0.78"/>
<circle cx="498.6" cy="301.9" r="0.9" fill="#f0e2f2" opacity="0.54"/>
<circle cx="317.9" cy="293.1" r="1.5" fill="#f0e2f2" opacity="0.61"/>
<circle cx="494.0" cy="289.0" r="1.0" fill="#f0e2f2" opacity="0.73"/>
<circle cx="400.4" cy="288.7" r="0.6" fill="#f0e2f2" opacity="0.71"/>
<circle cx="371.1" cy="219.8" r="0.7" fill="#f0e2f2" opacity="0.59"/>
<circle cx="456.9" cy="247.2" r="1.5" fill="#f0e2f2" opacity="0.73"/>
<circle cx="340.8" cy="285.5" r="1.3" fill="#f0e2f2" opacity="0.74"/>
<circle cx="505.4" cy="238.0" r="0.6" fill="#f0e2f2" opacity="0.64"/>
<circle cx="435.3" cy="208.0" r="0.9" fill="#f0e2f2" opacity="0.54"/>
<circle cx="389.2" cy="281.8" r="1.2" fill="#f0e2f2" opacity="0.64"/>
<circle cx="507.0" cy="287.0" r="1.2" fill="#f0e2f2" opacity="0.57"/>
<circle cx="318.8" cy="289.2" r="1.2" fill="#f0e2f2" opacity="0.72"/>
<circle cx="407.1" cy="262.9" r="0.6" fill="#f0e2f2" opacity="0.69"/>
<circle cx="510.5" cy="209.2" r="1.0" fill="#f0e2f2" opacity="0.58"/>
<circle cx="404.5" cy="246.4" r="0.8" fill="#f0e2f2" opacity="0.63"/>
<circle cx="493.3" cy="242.6" r="0.7" fill="#f0e2f2" opacity="0.60"/>
<circle cx="440.8" cy="325.3" r="0.8" fill="#f0e2f2" opacity="0.73"/>
<circle cx="345.8" cy="297.6" r="0.7" fill="#f0e2f2" opacity="0.62"/>
<circle cx="516.2" cy="311.2" r="1.2" fill="#f0e2f2" opacity="0.58"/>
<circle cx="352.8" cy="257.7" r="1.0" fill="#f0e2f2" opacity="0.53"/>
<circle cx="422.0" cy="200.2" r="1.4" fill="#f0e2f2" opacity="0.78"/>
<circle cx="399.3" cy="246.8" r="1.3" fill="#f0e2f2" opacity="0.53"/>
<circle cx="317.6" cy="236.1" r="1.6" fill="#f0e2f2" opacity="0.51"/>
<circle cx="479.4" cy="331.2" r="1.0" fill="#f0e2f2" opacity="0.78"/>
<circle cx="488.6" cy="233.4" r="0.9" fill="#f0e2f2" opacity="0.73"/>
<circle cx="348.9" cy="310.7" r="1.5" fill="#f0e2f2" opacity="0.82"/>
<circle cx="338.3" cy="288.4" r="0.9" fill="#f0e2f2" opacity="0.60"/>
<circle cx="365.9" cy="340.5" r="0.7" fill="#f0e2f2" opacity="0.76"/>
<circle cx="446.4" cy="284.7" r="1.5" fill="#f0e2f2" opacity="0.62"/>
<circle cx="367.3" cy="274.0" r="0.7" fill="#f0e2f2" opacity="0.65"/>
<circle cx="454.7" cy="279.0" r="1.3" fill="#f0e2f2" opacity="0.70"/>
<circle cx="494.4" cy="324.2" r="0.9" fill="#f0e2f2" opacity="0.58"/>
<circle cx="414.1" cy="230.3" r="1.2" fill="#f0e2f2" opacity="0.59"/>
<circle cx="416.8" cy="203.1" r="1.4" fill="#f0e2f2" opacity="0.73"/>
<circle cx="404.2" cy="277.2" r="0.8" fill="#f0e2f2" opacity="0.83"/>
<circle cx="395.1" cy="230.1" r="1.3" fill="#f0e2f2" opacity="0.80"/>
<circle cx="322.6" cy="217.8" r="1.1" fill="#f0e2f2" opacity="0.71"/>
<circle cx="426.0" cy="229.3" r="1.0" fill="#f0e2f2" opacity="0.71"/>
</g>
<g filter="url(#bl05)" stroke="#ecdcef" fill="none" stroke-linecap="round">
<path d="M464.7 206.9L461.7 203.7L463.2 197.7L459.4 192.4" stroke-width="0.7" opacity="0.54"/>
<path d="M462.5 319.3L466.2 314.8L467.4 308.3" stroke-width="1.0" opacity="0.56"/>
<path d="M441.5 328.1L435.6 326.7" stroke-width="0.9" opacity="0.53"/>
<path d="M487.1 272.1L487.1 280.0L489.8 282.2L494.9 280.9" stroke-width="1.0" opacity="0.61"/>
<path d="M427.2 319.2L427.9 325.4" stroke-width="0.8" opacity="0.43"/>
<path d="M434.9 318.7L440.7 320.3L443.6 324.0" stroke-width="0.7" opacity="0.60"/>
<path d="M463.7 323.4L460.4 324.0L455.8 324.5L451.5 325.4" stroke-width="0.8" opacity="0.46"/>
<path d="M405.7 318.6L402.6 321.7L399.0 324.9L397.1 327.8" stroke-width="1.1" opacity="0.62"/>
<path d="M331.4 281.7L325.7 286.7L322.0 290.0" stroke-width="0.8" opacity="0.51"/>
<path d="M518.4 196.5L511.0 194.3" stroke-width="0.8" opacity="0.57"/>
<path d="M336.3 224.4L340.5 226.8L341.6 230.7L348.7 233.0" stroke-width="0.8" opacity="0.44"/>
<path d="M344.0 324.4L344.5 320.7" stroke-width="0.8" opacity="0.45"/>
<path d="M514.7 232.1L521.0 229.4L522.2 226.4L525.6 222.3" stroke-width="1.1" opacity="0.64"/>
<path d="M358.2 196.3L354.6 193.6L348.5 190.5" stroke-width="1.1" opacity="0.53"/>
<path d="M348.3 258.9L348.2 266.4" stroke-width="1.0" opacity="0.41"/>
<path d="M418.3 210.7L416.1 207.1L414.1 202.9L408.1 199.9" stroke-width="1.0" opacity="0.50"/>
<path d="M401.4 295.0L396.7 292.1L392.5 292.0" stroke-width="0.8" opacity="0.65"/>
<path d="M414.6 219.6L415.5 225.5" stroke-width="0.7" opacity="0.61"/>
<path d="M437.3 282.4L441.8 277.2L444.1 273.7L451.6 273.4" stroke-width="1.0" opacity="0.44"/>
<path d="M367.1 260.0L363.5 254.7L364.0 249.8" stroke-width="0.9" opacity="0.48"/>
<path d="M380.2 204.7L383.1 199.3L389.2 194.3" stroke-width="0.9" opacity="0.59"/>
<path d="M424.4 307.3L420.7 304.3" stroke-width="0.8" opacity="0.46"/>
<path d="M375.2 253.8L374.7 257.8L372.8 264.5L372.0 267.4" stroke-width="0.8" opacity="0.42"/>
<path d="M467.7 273.4L467.1 278.0L470.7 281.6" stroke-width="0.8" opacity="0.69"/>
<path d="M389.2 329.3L389.1 324.6L390.1 320.8L393.0 316.1" stroke-width="0.7" opacity="0.59"/>
<path d="M376.9 237.5L370.6 240.0L365.3 240.4" stroke-width="1.0" opacity="0.60"/>
<path d="M348.4 269.8L340.9 270.2L333.9 269.1L329.9 265.7" stroke-width="1.0" opacity="0.62"/>
<path d="M490.5 335.3L490.8 330.0" stroke-width="0.9" opacity="0.48"/>
<path d="M473.8 239.7L471.6 234.5L464.6 231.8" stroke-width="0.6" opacity="0.48"/>
<path d="M471.8 279.0L467.0 274.9L464.3 273.2" stroke-width="0.6" opacity="0.54"/>
<path d="M427.2 279.9L424.7 278.2L424.6 271.0L423.6 267.3" stroke-width="1.0" opacity="0.69"/>
<path d="M352.5 304.0L351.9 300.5L348.9 297.7L348.7 290.1" stroke-width="0.8" opacity="0.44"/>
<path d="M387.7 226.0L385.2 222.0L386.3 219.1L391.8 214.8" stroke-width="0.9" opacity="0.69"/>
<path d="M493.4 336.7L488.8 335.1" stroke-width="0.8" opacity="0.41"/>
<path d="M332.6 254.0L333.8 249.6L333.8 245.0" stroke-width="0.7" opacity="0.58"/>
<path d="M486.0 247.3L489.7 251.0" stroke-width="1.0" opacity="0.46"/>
<path d="M481.7 332.3L486.0 337.6L486.9 342.0" stroke-width="0.8" opacity="0.51"/>
<path d="M411.8 309.7L407.0 313.4" stroke-width="1.1" opacity="0.68"/>
<path d="M351.1 339.7L355.0 341.9" stroke-width="0.8" opacity="0.65"/>
<path d="M454.0 220.4L454.0 215.9L459.1 211.1L461.1 208.4" stroke-width="1.0" opacity="0.52"/>
<path d="M399.7 250.7L396.4 250.4L393.0 254.2" stroke-width="0.9" opacity="0.52"/>
<path d="M430.6 233.6L434.7 229.3L438.1 228.6L441.2 228.7" stroke-width="1.0" opacity="0.45"/>
<path d="M364.5 311.3L363.5 306.6L361.7 301.3L358.3 300.3" stroke-width="1.0" opacity="0.57"/>
<path d="M416.1 241.6L414.5 233.9L415.8 227.1L413.5 223.2" stroke-width="1.1" opacity="0.67"/>
<path d="M485.4 267.7L491.3 271.6" stroke-width="0.9" opacity="0.57"/>
<path d="M495.9 280.3L495.3 284.1" stroke-width="0.9" opacity="0.44"/>
<path d="M468.8 263.6L471.5 259.2L473.0 251.9" stroke-width="0.8" opacity="0.61"/>
<path d="M473.4 335.0L470.1 335.4L466.0 331.5" stroke-width="0.6" opacity="0.54"/>
<path d="M384.8 205.3L385.3 200.1L383.1 194.1" stroke-width="0.7" opacity="0.50"/>
<path d="M399.4 261.1L397.2 263.3L390.3 265.6L383.9 267.2" stroke-width="0.7" opacity="0.67"/>
<path d="M413.9 296.1L411.4 294.3L407.4 295.2" stroke-width="1.0" opacity="0.65"/>
<path d="M324.9 225.4L322.0 228.6" stroke-width="0.7" opacity="0.69"/>
<path d="M512.7 298.1L506.0 301.5L498.2 301.0L492.0 299.4" stroke-width="1.0" opacity="0.44"/>
<path d="M368.5 333.6L365.2 340.6L358.2 342.6L351.8 339.7" stroke-width="0.9" opacity="0.42"/>
<path d="M464.3 316.1L466.2 310.9" stroke-width="1.0" opacity="0.41"/>
<path d="M434.7 293.6L440.1 290.0" stroke-width="0.8" opacity="0.59"/>
<path d="M330.2 325.9L329.2 322.0L327.1 315.9" stroke-width="0.9" opacity="0.43"/>
<path d="M317.3 249.8L322.6 255.5" stroke-width="1.0" opacity="0.58"/>
<path d="M343.6 311.5L341.7 305.1L341.4 300.3L340.2 297.2" stroke-width="0.9" opacity="0.42"/>
<path d="M454.1 327.5L452.3 324.6L454.4 317.8L455.9 311.1" stroke-width="0.9" opacity="0.58"/>
<path d="M350.8 316.3L352.7 323.2" stroke-width="0.9" opacity="0.70"/>
<path d="M436.4 318.7L436.9 311.2" stroke-width="0.8" opacity="0.40"/>
<path d="M382.3 242.7L385.4 241.4L390.9 243.3" stroke-width="1.0" opacity="0.62"/>
<path d="M335.0 266.7L332.3 274.1" stroke-width="0.7" opacity="0.56"/>
<path d="M362.2 191.7L362.7 197.1L362.9 201.4L362.8 204.7" stroke-width="0.8" opacity="0.49"/>
<path d="M481.2 306.2L477.3 303.9L472.7 302.5L469.3 303.3" stroke-width="1.0" opacity="0.56"/>
<path d="M441.1 314.6L443.4 317.5L442.0 322.9" stroke-width="0.7" opacity="0.69"/>
<path d="M394.2 200.1L390.5 199.1L385.4 198.3" stroke-width="1.0" opacity="0.69"/>
<path d="M430.0 221.2L426.5 215.0L420.7 213.7L417.9 215.7" stroke-width="1.1" opacity="0.44"/>
<path d="M461.4 269.4L466.2 263.7" stroke-width="1.0" opacity="0.55"/>
</g>
<g>
<ellipse cx="422.9" cy="332.2" rx="3.8" ry="3.6" fill="#644c9e" opacity="0.35"/>
<ellipse cx="422.9" cy="332.2" rx="3.0" ry="2.8" fill="#644c9e" opacity="0.9"/>
<ellipse cx="454.5" cy="204.9" rx="3.5" ry="3.9" fill="#644c9e" opacity="0.35"/>
<ellipse cx="454.5" cy="204.9" rx="2.8" ry="2.8" fill="#644c9e" opacity="0.9"/>
<ellipse cx="463.5" cy="297.0" rx="3.5" ry="3.5" fill="#5e4898" opacity="0.35"/>
<ellipse cx="463.5" cy="297.0" rx="2.6" ry="2.6" fill="#5e4898" opacity="0.9"/>
<ellipse cx="373.2" cy="326.5" rx="3.5" ry="3.6" fill="#6c54a2" opacity="0.35"/>
<ellipse cx="373.2" cy="326.5" rx="2.5" ry="2.5" fill="#6c54a2" opacity="0.9"/>
<ellipse cx="313.8" cy="338.2" rx="3.2" ry="3.0" fill="#7258a6" opacity="0.35"/>
<ellipse cx="313.8" cy="338.2" rx="2.5" ry="2.4" fill="#7258a6" opacity="0.9"/>
<ellipse cx="469.8" cy="341.1" rx="2.8" ry="3.0" fill="#6c54a2" opacity="0.35"/>
<ellipse cx="469.8" cy="341.1" rx="2.0" ry="2.1" fill="#6c54a2" opacity="0.9"/>
<circle cx="469.8" cy="341.1" r="1.0" fill="#8a74bc" opacity="0.5"/>
<ellipse cx="436.0" cy="196.3" rx="3.4" ry="3.6" fill="#6c54a2" opacity="0.35"/>
<ellipse cx="436.0" cy="196.3" rx="2.7" ry="2.6" fill="#6c54a2" opacity="0.9"/>
<circle cx="436.0" cy="196.3" r="1.3" fill="#8a74bc" opacity="0.5"/>
<ellipse cx="347.5" cy="194.3" rx="3.5" ry="3.4" fill="#6c54a2" opacity="0.35"/>
<ellipse cx="347.5" cy="194.3" rx="2.6" ry="2.6" fill="#6c54a2" opacity="0.9"/>
<ellipse cx="440.9" cy="284.5" rx="3.1" ry="3.1" fill="#584294" opacity="0.35"/>
<ellipse cx="440.9" cy="284.5" rx="2.2" ry="2.3" fill="#584294" opacity="0.9"/>
<ellipse cx="362.0" cy="221.3" rx="2.9" ry="3.1" fill="#644c9e" opacity="0.35"/>
<ellipse cx="362.0" cy="221.3" rx="2.3" ry="2.2" fill="#644c9e" opacity="0.9"/>
<ellipse cx="416.2" cy="252.6" rx="3.7" ry="3.4" fill="#5e4898" opacity="0.35"/>
<ellipse cx="416.2" cy="252.6" rx="2.8" ry="2.8" fill="#5e4898" opacity="0.9"/>
<ellipse cx="390.1" cy="336.3" rx="3.3" ry="3.3" fill="#6c54a2" opacity="0.35"/>
<ellipse cx="390.1" cy="336.3" rx="2.4" ry="2.5" fill="#6c54a2" opacity="0.9"/>
<circle cx="390.1" cy="336.3" r="1.2" fill="#8a74bc" opacity="0.5"/>
<ellipse cx="378.8" cy="316.8" rx="3.4" ry="3.5" fill="#644c9e" opacity="0.35"/>
<ellipse cx="378.8" cy="316.8" rx="2.8" ry="2.7" fill="#644c9e" opacity="0.9"/>
<circle cx="378.8" cy="316.8" r="1.3" fill="#8a74bc" opacity="0.5"/>
<ellipse cx="424.3" cy="202.7" rx="2.9" ry="2.8" fill="#6c54a2" opacity="0.35"/>
<ellipse cx="424.3" cy="202.7" rx="2.2" ry="2.2" fill="#6c54a2" opacity="0.9"/>
<circle cx="424.3" cy="202.7" r="1.0" fill="#8a74bc" opacity="0.5"/>
<ellipse cx="319.7" cy="282.5" rx="3.6" ry="3.7" fill="#584294" opacity="0.35"/>
<ellipse cx="319.7" cy="282.5" rx="2.8" ry="3.0" fill="#584294" opacity="0.9"/>
<ellipse cx="459.5" cy="223.1" rx="3.3" ry="3.5" fill="#6c54a2" opacity="0.35"/>
<ellipse cx="459.5" cy="223.1" rx="2.7" ry="2.8" fill="#6c54a2" opacity="0.9"/>
<ellipse cx="456.4" cy="317.7" rx="3.2" ry="2.7" fill="#5e4898" opacity="0.35"/>
<ellipse cx="456.4" cy="317.7" rx="2.3" ry="2.1" fill="#5e4898" opacity="0.9"/>
<circle cx="456.4" cy="317.7" r="1.1" fill="#8a74bc" opacity="0.5"/>
<ellipse cx="504.0" cy="331.9" rx="2.7" ry="2.7" fill="#6c54a2" opacity="0.35"/>
<ellipse cx="504.0" cy="331.9" rx="2.1" ry="2.1" fill="#6c54a2" opacity="0.9"/>
<circle cx="504.0" cy="331.9" r="1.0" fill="#8a74bc" opacity="0.5"/>
<ellipse cx="426.0" cy="194.6" rx="3.0" ry="3.1" fill="#644c9e" opacity="0.35"/>
<ellipse cx="426.0" cy="194.6" rx="2.3" ry="2.1" fill="#644c9e" opacity="0.9"/>
<circle cx="426.0" cy="194.6" r="1.0" fill="#8a74bc" opacity="0.5"/>
<ellipse cx="322.3" cy="325.2" rx="3.5" ry="3.8" fill="#7258a6" opacity="0.35"/>
<ellipse cx="322.3" cy="325.2" rx="2.7" ry="2.7" fill="#7258a6" opacity="0.9"/>
<ellipse cx="387.1" cy="199.5" rx="3.0" ry="2.7" fill="#584294" opacity="0.35"/>
<ellipse cx="387.1" cy="199.5" rx="2.2" ry="2.2" fill="#584294" opacity="0.9"/>
<ellipse cx="403.6" cy="283.5" rx="3.5" ry="3.3" fill="#584294" opacity="0.35"/>
<ellipse cx="403.6" cy="283.5" rx="2.8" ry="2.7" fill="#584294" opacity="0.9"/>
<ellipse cx="405.3" cy="313.8" rx="3.6" ry="3.5" fill="#7258a6" opacity="0.35"/>
<ellipse cx="405.3" cy="313.8" rx="2.9" ry="2.9" fill="#7258a6" opacity="0.9"/>
<ellipse cx="368.1" cy="316.0" rx="2.9" ry="2.8" fill="#644c9e" opacity="0.35"/>
<ellipse cx="368.1" cy="316.0" rx="2.1" ry="2.1" fill="#644c9e" opacity="0.9"/>
<ellipse cx="428.7" cy="271.0" rx="3.5" ry="3.4" fill="#644c9e" opacity="0.35"/>
<ellipse cx="428.7" cy="271.0" rx="2.8" ry="2.8" fill="#644c9e" opacity="0.9"/>
<ellipse cx="462.2" cy="335.8" rx="2.7" ry="2.6" fill="#584294" opacity="0.35"/>
<ellipse cx="462.2" cy="335.8" rx="2.0" ry="1.9" fill="#584294" opacity="0.9"/>
<circle cx="462.2" cy="335.8" r="0.9" fill="#8a74bc" opacity="0.5"/>
<ellipse cx="354.9" cy="262.4" rx="2.9" ry="3.3" fill="#5e4898" opacity="0.35"/>
<ellipse cx="354.9" cy="262.4" rx="2.3" ry="2.4" fill="#5e4898" opacity="0.9"/>
<circle cx="354.9" cy="262.4" r="1.1" fill="#8a74bc" opacity="0.5"/>
<ellipse cx="372.0" cy="273.6" rx="3.4" ry="3.4" fill="#6c54a2" opacity="0.35"/>
<ellipse cx="372.0" cy="273.6" rx="2.4" ry="2.6" fill="#6c54a2" opacity="0.9"/>
<circle cx="372.0" cy="273.6" r="1.2" fill="#8a74bc" opacity="0.5"/>
<ellipse cx="332.1" cy="295.8" rx="3.4" ry="3.7" fill="#7258a6" opacity="0.35"/>
<ellipse cx="332.1" cy="295.8" rx="2.8" ry="2.6" fill="#7258a6" opacity="0.9"/>
<ellipse cx="338.6" cy="333.8" rx="3.2" ry="3.3" fill="#5e4898" opacity="0.35"/>
<ellipse cx="338.6" cy="333.8" rx="2.5" ry="2.4" fill="#5e4898" opacity="0.9"/>
<circle cx="338.6" cy="333.8" r="1.2" fill="#8a74bc" opacity="0.5"/>
<ellipse cx="314.4" cy="206.4" rx="3.2" ry="3.0" fill="#7258a6" opacity="0.35"/>
<ellipse cx="314.4" cy="206.4" rx="2.3" ry="2.4" fill="#7258a6" opacity="0.9"/>
<ellipse cx="330.9" cy="313.1" rx="3.3" ry="3.2" fill="#584294" opacity="0.35"/>
<ellipse cx="330.9" cy="313.1" rx="2.6" ry="2.5" fill="#584294" opacity="0.9"/>
<circle cx="330.9" cy="313.1" r="1.2" fill="#8a74bc" opacity="0.5"/>
<ellipse cx="480.1" cy="316.7" rx="2.8" ry="2.8" fill="#6c54a2" opacity="0.35"/>
<ellipse cx="480.1" cy="316.7" rx="2.2" ry="2.2" fill="#6c54a2" opacity="0.9"/>
<ellipse cx="342.0" cy="234.4" rx="2.7" ry="2.6" fill="#7258a6" opacity="0.35"/>
<ellipse cx="342.0" cy="234.4" rx="2.0" ry="2.1" fill="#7258a6" opacity="0.9"/>
<circle cx="342.0" cy="234.4" r="1.0" fill="#8a74bc" opacity="0.5"/>
<ellipse cx="343.4" cy="263.9" rx="3.3" ry="3.1" fill="#644c9e" opacity="0.35"/>
<ellipse cx="343.4" cy="263.9" rx="2.5" ry="2.5" fill="#644c9e" opacity="0.9"/>
<circle cx="343.4" cy="263.9" r="1.2" fill="#8a74bc" opacity="0.5"/>
<ellipse cx="481.1" cy="220.5" rx="3.2" ry="3.2" fill="#6c54a2" opacity="0.35"/>
<ellipse cx="481.1" cy="220.5" rx="2.5" ry="2.5" fill="#6c54a2" opacity="0.9"/>
<circle cx="481.1" cy="220.5" r="1.2" fill="#8a74bc" opacity="0.5"/>
<ellipse cx="472.5" cy="261.1" rx="3.5" ry="3.3" fill="#6c54a2" opacity="0.35"/>
<ellipse cx="472.5" cy="261.1" rx="2.6" ry="2.4" fill="#6c54a2" opacity="0.9"/>
<ellipse cx="403.2" cy="323.0" rx="3.3" ry="3.1" fill="#644c9e" opacity="0.35"/>
<ellipse cx="403.2" cy="323.0" rx="2.5" ry="2.5" fill="#644c9e" opacity="0.9"/>
<ellipse cx="511.6" cy="266.2" rx="2.8" ry="3.1" fill="#7258a6" opacity="0.35"/>
<ellipse cx="511.6" cy="266.2" rx="2.1" ry="2.1" fill="#7258a6" opacity="0.9"/>
<circle cx="511.6" cy="266.2" r="1.0" fill="#8a74bc" opacity="0.5"/>
<ellipse cx="327.1" cy="259.2" rx="3.0" ry="3.1" fill="#6c54a2" opacity="0.35"/>
<ellipse cx="327.1" cy="259.2" rx="2.1" ry="2.2" fill="#6c54a2" opacity="0.9"/>
<circle cx="327.1" cy="259.2" r="1.0" fill="#8a74bc" opacity="0.5"/>
<ellipse cx="483.6" cy="303.0" rx="3.1" ry="3.1" fill="#644c9e" opacity="0.35"/>
<ellipse cx="483.6" cy="303.0" rx="2.4" ry="2.3" fill="#644c9e" opacity="0.9"/>
<ellipse cx="491.0" cy="258.5" rx="3.5" ry="3.4" fill="#5e4898" opacity="0.35"/>
<ellipse cx="491.0" cy="258.5" rx="2.7" ry="2.5" fill="#5e4898" opacity="0.9"/>
<ellipse cx="477.6" cy="276.2" rx="3.2" ry="3.4" fill="#7258a6" opacity="0.35"/>
<ellipse cx="477.6" cy="276.2" rx="2.4" ry="2.5" fill="#7258a6" opacity="0.9"/>
<circle cx="477.6" cy="276.2" r="1.2" fill="#8a74bc" opacity="0.5"/>
<ellipse cx="338.4" cy="199.0" rx="3.0" ry="3.3" fill="#584294" opacity="0.35"/>
<ellipse cx="338.4" cy="199.0" rx="2.7" ry="2.6" fill="#584294" opacity="0.9"/>
<ellipse cx="485.6" cy="282.6" rx="3.6" ry="3.7" fill="#6c54a2" opacity="0.35"/>
<ellipse cx="485.6" cy="282.6" rx="3.0" ry="2.9" fill="#6c54a2" opacity="0.9"/>
<circle cx="485.6" cy="282.6" r="1.4" fill="#8a74bc" opacity="0.5"/>
<ellipse cx="493.8" cy="273.7" rx="2.9" ry="3.4" fill="#7258a6" opacity="0.35"/>
<ellipse cx="493.8" cy="273.7" rx="2.5" ry="2.5" fill="#7258a6" opacity="0.9"/>
<circle cx="493.8" cy="273.7" r="1.1" fill="#8a74bc" opacity="0.5"/>
<ellipse cx="509.7" cy="279.6" rx="3.1" ry="2.8" fill="#584294" opacity="0.35"/>
<ellipse cx="509.7" cy="279.6" rx="2.2" ry="2.2" fill="#584294" opacity="0.9"/>
<circle cx="509.7" cy="279.6" r="1.0" fill="#8a74bc" opacity="0.5"/>
<ellipse cx="356.1" cy="189.0" rx="3.3" ry="3.4" fill="#644c9e" opacity="0.35"/>
<ellipse cx="356.1" cy="189.0" rx="2.9" ry="2.7" fill="#644c9e" opacity="0.9"/>
<ellipse cx="319.5" cy="313.7" rx="3.8" ry="3.9" fill="#5e4898" opacity="0.35"/>
<ellipse cx="319.5" cy="313.7" rx="2.8" ry="3.1" fill="#5e4898" opacity="0.9"/>
<ellipse cx="494.7" cy="210.7" rx="3.3" ry="3.3" fill="#7258a6" opacity="0.35"/>
<ellipse cx="494.7" cy="210.7" rx="2.6" ry="2.4" fill="#7258a6" opacity="0.9"/>
<circle cx="494.7" cy="210.7" r="1.2" fill="#8a74bc" opacity="0.5"/>
<ellipse cx="503.2" cy="304.2" rx="2.7" ry="2.7" fill="#6c54a2" opacity="0.35"/>
<ellipse cx="503.2" cy="304.2" rx="2.1" ry="2.1" fill="#6c54a2" opacity="0.9"/>
<circle cx="503.2" cy="304.2" r="0.9" fill="#8a74bc" opacity="0.5"/>
<ellipse cx="454.6" cy="327.0" rx="3.5" ry="3.1" fill="#7258a6" opacity="0.35"/>
<ellipse cx="454.6" cy="327.0" rx="2.5" ry="2.6" fill="#7258a6" opacity="0.9"/>
<ellipse cx="448.0" cy="235.4" rx="3.3" ry="3.1" fill="#6c54a2" opacity="0.35"/>
<ellipse cx="448.0" cy="235.4" rx="2.3" ry="2.5" fill="#6c54a2" opacity="0.9"/>
<circle cx="448.0" cy="235.4" r="1.1" fill="#8a74bc" opacity="0.5"/>
<ellipse cx="380.9" cy="246.2" rx="3.1" ry="3.0" fill="#644c9e" opacity="0.35"/>
<ellipse cx="380.9" cy="246.2" rx="2.3" ry="2.4" fill="#644c9e" opacity="0.9"/>
<ellipse cx="447.0" cy="322.6" rx="3.2" ry="3.2" fill="#6c54a2" opacity="0.35"/>
<ellipse cx="447.0" cy="322.6" rx="2.5" ry="2.7" fill="#6c54a2" opacity="0.9"/>
<ellipse cx="439.5" cy="273.6" rx="3.8" ry="3.7" fill="#5e4898" opacity="0.35"/>
<ellipse cx="439.5" cy="273.6" rx="2.8" ry="2.9" fill="#5e4898" opacity="0.9"/>
<circle cx="439.5" cy="273.6" r="1.4" fill="#8a74bc" opacity="0.5"/>
<ellipse cx="454.6" cy="274.3" rx="2.8" ry="2.7" fill="#5e4898" opacity="0.35"/>
<ellipse cx="454.6" cy="274.3" rx="2.2" ry="2.2" fill="#5e4898" opacity="0.9"/>
<circle cx="454.6" cy="274.3" r="1.0" fill="#8a74bc" opacity="0.5"/>
<ellipse cx="331.2" cy="222.4" rx="3.0" ry="2.9" fill="#5e4898" opacity="0.35"/>
<ellipse cx="331.2" cy="222.4" rx="2.2" ry="2.1" fill="#5e4898" opacity="0.9"/>
<circle cx="331.2" cy="222.4" r="1.0" fill="#8a74bc" opacity="0.5"/>
<ellipse cx="422.4" cy="213.6" rx="3.7" ry="3.6" fill="#5e4898" opacity="0.35"/>
<ellipse cx="422.4" cy="213.6" rx="2.7" ry="2.8" fill="#5e4898" opacity="0.9"/>
<ellipse cx="410.0" cy="294.9" rx="3.0" ry="3.5" fill="#7258a6" opacity="0.35"/>
<ellipse cx="410.0" cy="294.9" rx="2.6" ry="2.6" fill="#7258a6" opacity="0.9"/>
<ellipse cx="358.3" cy="302.0" rx="3.2" ry="3.4" fill="#5e4898" opacity="0.35"/>
<ellipse cx="358.3" cy="302.0" rx="2.9" ry="2.6" fill="#5e4898" opacity="0.9"/>
<circle cx="358.3" cy="302.0" r="1.3" fill="#8a74bc" opacity="0.5"/>
<ellipse cx="473.3" cy="231.9" rx="3.0" ry="3.4" fill="#644c9e" opacity="0.35"/>
<ellipse cx="473.3" cy="231.9" rx="2.6" ry="2.4" fill="#644c9e" opacity="0.9"/>
<circle cx="473.3" cy="231.9" r="1.2" fill="#8a74bc" opacity="0.5"/>
<ellipse cx="391.0" cy="254.6" rx="3.3" ry="3.0" fill="#6c54a2" opacity="0.35"/>
<ellipse cx="391.0" cy="254.6" rx="2.3" ry="2.3" fill="#6c54a2" opacity="0.9"/>
<ellipse cx="463.0" cy="283.5" rx="3.6" ry="3.7" fill="#644c9e" opacity="0.35"/>
<ellipse cx="463.0" cy="283.5" rx="2.6" ry="2.8" fill="#644c9e" opacity="0.9"/>
<ellipse cx="459.9" cy="253.9" rx="3.0" ry="3.4" fill="#644c9e" opacity="0.35"/>
<ellipse cx="459.9" cy="253.9" rx="2.4" ry="2.4" fill="#644c9e" opacity="0.9"/>
<ellipse cx="461.7" cy="213.3" rx="3.7" ry="3.4" fill="#644c9e" opacity="0.35"/>
<ellipse cx="461.7" cy="213.3" rx="2.7" ry="2.8" fill="#644c9e" opacity="0.9"/>
<circle cx="461.7" cy="213.3" r="1.3" fill="#8a74bc" opacity="0.5"/>
<ellipse cx="421.0" cy="343.5" rx="3.2" ry="3.5" fill="#6c54a2" opacity="0.35"/>
<ellipse cx="421.0" cy="343.5" rx="2.6" ry="2.7" fill="#6c54a2" opacity="0.9"/>
<circle cx="421.0" cy="343.5" r="1.2" fill="#8a74bc" opacity="0.5"/>
<ellipse cx="502.5" cy="257.1" rx="3.3" ry="3.4" fill="#644c9e" opacity="0.35"/>
<ellipse cx="502.5" cy="257.1" rx="2.9" ry="3.0" fill="#644c9e" opacity="0.9"/>
<circle cx="502.5" cy="257.1" r="1.4" fill="#8a74bc" opacity="0.5"/>
<ellipse cx="347.6" cy="242.5" rx="3.3" ry="3.3" fill="#644c9e" opacity="0.35"/>
<ellipse cx="347.6" cy="242.5" rx="2.5" ry="2.8" fill="#644c9e" opacity="0.9"/>
<circle cx="347.6" cy="242.5" r="1.2" fill="#8a74bc" opacity="0.5"/>
<ellipse cx="411.6" cy="273.6" rx="2.9" ry="2.7" fill="#5e4898" opacity="0.35"/>
<ellipse cx="411.6" cy="273.6" rx="2.0" ry="2.1" fill="#5e4898" opacity="0.9"/>
<circle cx="411.6" cy="273.6" r="1.0" fill="#8a74bc" opacity="0.5"/>
<ellipse cx="427.4" cy="323.1" rx="3.5" ry="3.4" fill="#7258a6" opacity="0.35"/>
<ellipse cx="427.4" cy="323.1" rx="2.7" ry="2.7" fill="#7258a6" opacity="0.9"/>
<circle cx="427.4" cy="323.1" r="1.2" fill="#8a74bc" opacity="0.5"/>
<ellipse cx="346.7" cy="223.0" rx="2.9" ry="3.0" fill="#6c54a2" opacity="0.35"/>
<ellipse cx="346.7" cy="223.0" rx="2.3" ry="2.4" fill="#6c54a2" opacity="0.9"/>
<circle cx="346.7" cy="223.0" r="1.1" fill="#8a74bc" opacity="0.5"/>
<ellipse cx="404.5" cy="253.0" rx="3.8" ry="3.7" fill="#644c9e" opacity="0.35"/>
<ellipse cx="404.5" cy="253.0" rx="2.9" ry="2.9" fill="#644c9e" opacity="0.9"/>
<ellipse cx="362.8" cy="340.4" rx="3.4" ry="3.1" fill="#7258a6" opacity="0.35"/>
<ellipse cx="362.8" cy="340.4" rx="2.7" ry="2.7" fill="#7258a6" opacity="0.9"/>
<circle cx="362.8" cy="340.4" r="1.2" fill="#8a74bc" opacity="0.5"/>
<ellipse cx="366.5" cy="298.8" rx="3.8" ry="3.5" fill="#7258a6" opacity="0.35"/>
<ellipse cx="366.5" cy="298.8" rx="2.9" ry="2.9" fill="#7258a6" opacity="0.9"/>
<ellipse cx="332.7" cy="342.1" rx="3.5" ry="3.1" fill="#5e4898" opacity="0.35"/>
<ellipse cx="332.7" cy="342.1" rx="2.5" ry="2.5" fill="#5e4898" opacity="0.9"/>
<circle cx="332.7" cy="342.1" r="1.2" fill="#8a74bc" opacity="0.5"/>
<ellipse cx="316.7" cy="194.8" rx="2.8" ry="2.8" fill="#7258a6" opacity="0.35"/>
<ellipse cx="316.7" cy="194.8" rx="2.3" ry="2.3" fill="#7258a6" opacity="0.9"/>
<ellipse cx="413.3" cy="203.8" rx="3.5" ry="3.2" fill="#644c9e" opacity="0.35"/>
<ellipse cx="413.3" cy="203.8" rx="2.5" ry="2.6" fill="#644c9e" opacity="0.9"/>
<circle cx="413.3" cy="203.8" r="1.2" fill="#8a74bc" opacity="0.5"/>
<ellipse cx="435.4" cy="304.8" rx="3.2" ry="3.2" fill="#584294" opacity="0.35"/>
<ellipse cx="435.4" cy="304.8" rx="2.5" ry="2.5" fill="#584294" opacity="0.9"/>
<circle cx="435.4" cy="304.8" r="1.2" fill="#8a74bc" opacity="0.5"/>
<ellipse cx="520.6" cy="239.0" rx="3.2" ry="3.0" fill="#644c9e" opacity="0.35"/>
<ellipse cx="520.6" cy="239.0" rx="2.5" ry="2.5" fill="#644c9e" opacity="0.9"/>
<ellipse cx="520.7" cy="258.2" rx="2.7" ry="2.9" fill="#584294" opacity="0.35"/>
<ellipse cx="520.7" cy="258.2" rx="2.1" ry="2.1" fill="#584294" opacity="0.9"/>
<circle cx="520.7" cy="258.2" r="1.0" fill="#8a74bc" opacity="0.5"/>
<ellipse cx="331.0" cy="271.9" rx="3.8" ry="4.0" fill="#584294" opacity="0.35"/>
<ellipse cx="331.0" cy="271.9" rx="2.8" ry="2.9" fill="#584294" opacity="0.9"/>
<ellipse cx="344.1" cy="293.5" rx="3.4" ry="3.7" fill="#584294" opacity="0.35"/>
<ellipse cx="344.1" cy="293.5" rx="2.9" ry="2.9" fill="#584294" opacity="0.9"/>
<circle cx="344.1" cy="293.5" r="1.4" fill="#8a74bc" opacity="0.5"/>
<ellipse cx="475.8" cy="202.8" rx="2.8" ry="2.8" fill="#7258a6" opacity="0.35"/>
<ellipse cx="475.8" cy="202.8" rx="2.0" ry="2.1" fill="#7258a6" opacity="0.9"/>
<ellipse cx="372.6" cy="335.1" rx="3.0" ry="3.0" fill="#5e4898" opacity="0.35"/>
<ellipse cx="372.6" cy="335.1" rx="2.6" ry="2.4" fill="#5e4898" opacity="0.9"/>
<ellipse cx="456.6" cy="236.4" rx="3.7" ry="3.4" fill="#584294" opacity="0.35"/>
<ellipse cx="456.6" cy="236.4" rx="2.7" ry="2.8" fill="#584294" opacity="0.9"/>
<circle cx="456.6" cy="236.4" r="1.3" fill="#8a74bc" opacity="0.5"/>
<ellipse cx="394.9" cy="308.2" rx="3.0" ry="2.9" fill="#6c54a2" opacity="0.35"/>
<ellipse cx="394.9" cy="308.2" rx="2.1" ry="2.2" fill="#6c54a2" opacity="0.9"/>
<ellipse cx="366.1" cy="233.4" rx="3.5" ry="3.0" fill="#7258a6" opacity="0.35"/>
<ellipse cx="366.1" cy="233.4" rx="2.5" ry="2.6" fill="#7258a6" opacity="0.9"/>
<ellipse cx="444.5" cy="205.1" rx="3.0" ry="3.5" fill="#644c9e" opacity="0.35"/>
<ellipse cx="444.5" cy="205.1" rx="2.5" ry="2.5" fill="#644c9e" opacity="0.9"/>
<ellipse cx="514.1" cy="244.4" rx="3.2" ry="3.5" fill="#644c9e" opacity="0.35"/>
<ellipse cx="514.1" cy="244.4" rx="2.5" ry="2.4" fill="#644c9e" opacity="0.9"/>
<circle cx="514.1" cy="244.4" r="1.2" fill="#8a74bc" opacity="0.5"/>
<ellipse cx="473.1" cy="223.4" rx="3.6" ry="3.6" fill="#6c54a2" opacity="0.35"/>
<ellipse cx="473.1" cy="223.4" rx="2.9" ry="2.8" fill="#6c54a2" opacity="0.9"/>
<ellipse cx="496.6" cy="341.8" rx="2.8" ry="3.0" fill="#5e4898" opacity="0.35"/>
<ellipse cx="496.6" cy="341.8" rx="2.2" ry="2.1" fill="#5e4898" opacity="0.9"/>
<ellipse cx="451.0" cy="225.6" rx="2.9" ry="2.9" fill="#584294" opacity="0.35"/>
<ellipse cx="451.0" cy="225.6" rx="2.3" ry="2.5" fill="#584294" opacity="0.9"/>
<ellipse cx="379.8" cy="235.9" rx="3.4" ry="2.9" fill="#644c9e" opacity="0.35"/>
<ellipse cx="379.8" cy="235.9" rx="2.4" ry="2.5" fill="#644c9e" opacity="0.9"/>
<ellipse cx="445.0" cy="305.6" rx="3.0" ry="3.1" fill="#584294" opacity="0.35"/>
<ellipse cx="445.0" cy="305.6" rx="2.3" ry="2.2" fill="#584294" opacity="0.9"/>
<ellipse cx="511.4" cy="208.1" rx="3.6" ry="3.6" fill="#644c9e" opacity="0.35"/>
<ellipse cx="511.4" cy="208.1" rx="2.8" ry="2.9" fill="#644c9e" opacity="0.9"/>
<circle cx="511.4" cy="208.1" r="1.4" fill="#8a74bc" opacity="0.5"/>
<ellipse cx="373.7" cy="291.5" rx="2.9" ry="2.6" fill="#7258a6" opacity="0.35"/>
<ellipse cx="373.7" cy="291.5" rx="2.0" ry="2.0" fill="#7258a6" opacity="0.9"/>
<ellipse cx="400.8" cy="334.0" rx="3.3" ry="3.3" fill="#584294" opacity="0.35"/>
<ellipse cx="400.8" cy="334.0" rx="2.9" ry="2.9" fill="#584294" opacity="0.9"/>
<circle cx="400.8" cy="334.0" r="1.3" fill="#8a74bc" opacity="0.5"/>
<ellipse cx="338.1" cy="190.8" rx="3.0" ry="2.9" fill="#6c54a2" opacity="0.35"/>
<ellipse cx="338.1" cy="190.8" rx="2.2" ry="2.3" fill="#6c54a2" opacity="0.9"/>
<ellipse cx="393.7" cy="246.1" rx="2.9" ry="3.0" fill="#584294" opacity="0.35"/>
<ellipse cx="393.7" cy="246.1" rx="2.2" ry="2.1" fill="#584294" opacity="0.9"/>
<ellipse cx="389.3" cy="238.2" rx="3.1" ry="3.0" fill="#7258a6" opacity="0.35"/>
<ellipse cx="389.3" cy="238.2" rx="2.3" ry="2.4" fill="#7258a6" opacity="0.9"/>
<circle cx="389.3" cy="238.2" r="1.1" fill="#8a74bc" opacity="0.5"/>
<ellipse cx="442.9" cy="187.7" rx="2.8" ry="2.7" fill="#5e4898" opacity="0.35"/>
<ellipse cx="442.9" cy="187.7" rx="2.1" ry="2.1" fill="#5e4898" opacity="0.9"/>
<ellipse cx="406.9" cy="229.3" rx="3.9" ry="3.7" fill="#644c9e" opacity="0.35"/>
<ellipse cx="406.9" cy="229.3" rx="3.1" ry="2.8" fill="#644c9e" opacity="0.9"/>
<circle cx="406.9" cy="229.3" r="1.4" fill="#8a74bc" opacity="0.5"/>
<ellipse cx="509.1" cy="199.1" rx="3.6" ry="3.6" fill="#584294" opacity="0.35"/>
<ellipse cx="509.1" cy="199.1" rx="2.8" ry="2.7" fill="#584294" opacity="0.9"/>
<ellipse cx="373.2" cy="204.5" rx="2.7" ry="2.9" fill="#584294" opacity="0.35"/>
<ellipse cx="373.2" cy="204.5" rx="2.3" ry="2.0" fill="#584294" opacity="0.9"/>
<circle cx="373.2" cy="204.5" r="1.0" fill="#8a74bc" opacity="0.5"/>
<ellipse cx="330.0" cy="208.6" rx="3.5" ry="3.8" fill="#644c9e" opacity="0.35"/>
<ellipse cx="330.0" cy="208.6" rx="2.7" ry="2.9" fill="#644c9e" opacity="0.9"/>
<ellipse cx="394.5" cy="316.8" rx="2.9" ry="2.9" fill="#7258a6" opacity="0.35"/>
<ellipse cx="394.5" cy="316.8" rx="2.2" ry="2.2" fill="#7258a6" opacity="0.9"/>
<circle cx="394.5" cy="316.8" r="1.0" fill="#8a74bc" opacity="0.5"/>
<ellipse cx="328.9" cy="333.8" rx="2.6" ry="2.9" fill="#584294" opacity="0.35"/>
<ellipse cx="328.9" cy="333.8" rx="2.2" ry="2.2" fill="#584294" opacity="0.9"/>
<ellipse cx="337.0" cy="306.7" rx="3.4" ry="3.5" fill="#7258a6" opacity="0.35"/>
<ellipse cx="337.0" cy="306.7" rx="2.7" ry="2.8" fill="#7258a6" opacity="0.9"/>
<ellipse cx="384.9" cy="289.6" rx="3.3" ry="3.3" fill="#5e4898" opacity="0.35"/>
<ellipse cx="384.9" cy="289.6" rx="2.4" ry="2.6" fill="#5e4898" opacity="0.9"/>
<circle cx="384.9" cy="289.6" r="1.2" fill="#8a74bc" opacity="0.5"/>
<ellipse cx="412.6" cy="343.1" rx="3.2" ry="3.1" fill="#584294" opacity="0.35"/>
<ellipse cx="412.6" cy="343.1" rx="2.6" ry="2.6" fill="#584294" opacity="0.9"/>
<ellipse cx="470.5" cy="190.5" rx="3.3" ry="3.3" fill="#6c54a2" opacity="0.35"/>
<ellipse cx="470.5" cy="190.5" rx="2.6" ry="2.6" fill="#6c54a2" opacity="0.9"/>
<ellipse cx="478.8" cy="267.7" rx="3.9" ry="3.9" fill="#644c9e" opacity="0.35"/>
<ellipse cx="478.8" cy="267.7" rx="2.8" ry="2.9" fill="#644c9e" opacity="0.9"/>
<ellipse cx="409.2" cy="212.6" rx="3.4" ry="3.4" fill="#644c9e" opacity="0.35"/>
<ellipse cx="409.2" cy="212.6" rx="2.9" ry="2.8" fill="#644c9e" opacity="0.9"/>
<circle cx="409.2" cy="212.6" r="1.3" fill="#8a74bc" opacity="0.5"/>
<ellipse cx="515.3" cy="329.6" rx="3.0" ry="2.6" fill="#5e4898" opacity="0.35"/>
<ellipse cx="515.3" cy="329.6" rx="2.1" ry="2.1" fill="#5e4898" opacity="0.9"/>
<ellipse cx="372.0" cy="259.4" rx="3.6" ry="3.3" fill="#584294" opacity="0.35"/>
<ellipse cx="372.0" cy="259.4" rx="2.8" ry="2.8" fill="#584294" opacity="0.9"/>
<ellipse cx="435.3" cy="292.7" rx="3.3" ry="3.8" fill="#5e4898" opacity="0.35"/>
<ellipse cx="435.3" cy="292.7" rx="3.0" ry="2.7" fill="#5e4898" opacity="0.9"/>
<ellipse cx="375.5" cy="187.8" rx="2.9" ry="3.0" fill="#6c54a2" opacity="0.35"/>
<ellipse cx="375.5" cy="187.8" rx="2.5" ry="2.4" fill="#6c54a2" opacity="0.9"/>
<circle cx="375.5" cy="187.8" r="1.1" fill="#8a74bc" opacity="0.5"/>
<ellipse cx="329.9" cy="198.9" rx="2.9" ry="2.9" fill="#5e4898" opacity="0.35"/>
<ellipse cx="329.9" cy="198.9" rx="2.1" ry="2.2" fill="#5e4898" opacity="0.9"/>
<circle cx="329.9" cy="198.9" r="1.0" fill="#8a74bc" opacity="0.5"/>
<ellipse cx="476.3" cy="286.4" rx="2.9" ry="3.0" fill="#5e4898" opacity="0.35"/>
<ellipse cx="476.3" cy="286.4" rx="2.1" ry="2.0" fill="#5e4898" opacity="0.9"/>
<circle cx="476.3" cy="286.4" r="1.0" fill="#8a74bc" opacity="0.5"/>
<ellipse cx="386.3" cy="208.6" rx="3.5" ry="3.3" fill="#7258a6" opacity="0.35"/>
<ellipse cx="386.3" cy="208.6" rx="2.7" ry="2.7" fill="#7258a6" opacity="0.9"/>
<circle cx="386.3" cy="208.6" r="1.3" fill="#8a74bc" opacity="0.5"/>
<ellipse cx="438.5" cy="315.5" rx="3.4" ry="3.5" fill="#584294" opacity="0.35"/>
<ellipse cx="438.5" cy="315.5" rx="2.6" ry="2.8" fill="#584294" opacity="0.9"/>
<circle cx="438.5" cy="315.5" r="1.3" fill="#8a74bc" opacity="0.5"/>
<ellipse cx="442.7" cy="217.5" rx="3.7" ry="3.7" fill="#5e4898" opacity="0.35"/>
<ellipse cx="442.7" cy="217.5" rx="2.9" ry="2.9" fill="#5e4898" opacity="0.9"/>
<circle cx="442.7" cy="217.5" r="1.3" fill="#8a74bc" opacity="0.5"/>
<ellipse cx="434.8" cy="235.6" rx="3.0" ry="2.8" fill="#5e4898" opacity="0.35"/>
<ellipse cx="434.8" cy="235.6" rx="2.2" ry="2.3" fill="#5e4898" opacity="0.9"/>
<ellipse cx="398.9" cy="197.9" rx="3.5" ry="3.5" fill="#5e4898" opacity="0.35"/>
<ellipse cx="398.9" cy="197.9" rx="2.8" ry="2.8" fill="#5e4898" opacity="0.9"/>
<ellipse cx="427.2" cy="287.3" rx="3.6" ry="3.9" fill="#7258a6" opacity="0.35"/>
<ellipse cx="427.2" cy="287.3" rx="3.0" ry="2.8" fill="#7258a6" opacity="0.9"/>
<circle cx="427.2" cy="287.3" r="1.4" fill="#8a74bc" opacity="0.5"/>
<ellipse cx="494.1" cy="313.5" rx="2.9" ry="3.3" fill="#584294" opacity="0.35"/>
<ellipse cx="494.1" cy="313.5" rx="2.3" ry="2.3" fill="#584294" opacity="0.9"/>
<ellipse cx="491.4" cy="220.0" rx="3.2" ry="3.1" fill="#584294" opacity="0.35"/>
<ellipse cx="491.4" cy="220.0" rx="2.3" ry="2.4" fill="#584294" opacity="0.9"/>
<ellipse cx="378.0" cy="281.0" rx="3.6" ry="3.4" fill="#644c9e" opacity="0.35"/>
<ellipse cx="378.0" cy="281.0" rx="2.7" ry="3.0" fill="#644c9e" opacity="0.9"/>
<ellipse cx="413.7" cy="223.0" rx="3.3" ry="3.8" fill="#7258a6" opacity="0.35"/>
<ellipse cx="413.7" cy="223.0" rx="2.7" ry="2.9" fill="#7258a6" opacity="0.9"/>
<circle cx="413.7" cy="223.0" r="1.3" fill="#8a74bc" opacity="0.5"/>
<ellipse cx="475.3" cy="241.9" rx="3.0" ry="3.0" fill="#644c9e" opacity="0.35"/>
<ellipse cx="475.3" cy="241.9" rx="2.2" ry="2.2" fill="#644c9e" opacity="0.9"/>
<circle cx="475.3" cy="241.9" r="1.1" fill="#8a74bc" opacity="0.5"/>
<ellipse cx="349.5" cy="252.5" rx="3.6" ry="3.4" fill="#7258a6" opacity="0.35"/>
<ellipse cx="349.5" cy="252.5" rx="2.9" ry="2.8" fill="#7258a6" opacity="0.9"/>
<circle cx="349.5" cy="252.5" r="1.4" fill="#8a74bc" opacity="0.5"/>
<ellipse cx="365.9" cy="264.9" rx="3.6" ry="3.5" fill="#644c9e" opacity="0.35"/>
<ellipse cx="365.9" cy="264.9" rx="2.7" ry="2.8" fill="#644c9e" opacity="0.9"/>
<circle cx="365.9" cy="264.9" r="1.3" fill="#8a74bc" opacity="0.5"/>
<ellipse cx="457.6" cy="303.2" rx="3.7" ry="3.7" fill="#644c9e" opacity="0.35"/>
<ellipse cx="457.6" cy="303.2" rx="2.9" ry="2.9" fill="#644c9e" opacity="0.9"/>
<circle cx="457.6" cy="303.2" r="1.4" fill="#8a74bc" opacity="0.5"/>
<ellipse cx="378.3" cy="299.0" rx="3.6" ry="3.3" fill="#7258a6" opacity="0.35"/>
<ellipse cx="378.3" cy="299.0" rx="2.6" ry="2.7" fill="#7258a6" opacity="0.9"/>
<circle cx="378.3" cy="299.0" r="1.2" fill="#8a74bc" opacity="0.5"/>
<ellipse cx="395.9" cy="293.6" rx="3.0" ry="3.3" fill="#5e4898" opacity="0.35"/>
<ellipse cx="395.9" cy="293.6" rx="2.3" ry="2.4" fill="#5e4898" opacity="0.9"/>
<ellipse cx="521.1" cy="197.7" rx="2.7" ry="2.7" fill="#5e4898" opacity="0.35"/>
<ellipse cx="521.1" cy="197.7" rx="2.1" ry="2.0" fill="#5e4898" opacity="0.9"/>
<circle cx="521.1" cy="197.7" r="1.0" fill="#8a74bc" opacity="0.5"/>
<ellipse cx="483.8" cy="332.0" rx="3.0" ry="3.0" fill="#6c54a2" opacity="0.35"/>
<ellipse cx="483.8" cy="332.0" rx="2.4" ry="2.5" fill="#6c54a2" opacity="0.9"/>
<ellipse cx="450.7" cy="194.7" rx="2.8" ry="2.6" fill="#6c54a2" opacity="0.35"/>
<ellipse cx="450.7" cy="194.7" rx="2.1" ry="1.9" fill="#6c54a2" opacity="0.9"/>
<circle cx="450.7" cy="194.7" r="1.0" fill="#8a74bc" opacity="0.5"/>
<ellipse cx="399.7" cy="239.0" rx="3.4" ry="3.5" fill="#584294" opacity="0.35"/>
<ellipse cx="399.7" cy="239.0" rx="2.8" ry="2.7" fill="#584294" opacity="0.9"/>
<circle cx="399.7" cy="239.0" r="1.3" fill="#8a74bc" opacity="0.5"/>
<ellipse cx="447.7" cy="336.7" rx="3.6" ry="3.7" fill="#6c54a2" opacity="0.35"/>
<ellipse cx="447.7" cy="336.7" rx="2.9" ry="2.8" fill="#6c54a2" opacity="0.9"/>
<circle cx="447.7" cy="336.7" r="1.4" fill="#8a74bc" opacity="0.5"/>
<ellipse cx="466.9" cy="244.3" rx="2.7" ry="2.9" fill="#5e4898" opacity="0.35"/>
<ellipse cx="466.9" cy="244.3" rx="2.2" ry="2.2" fill="#5e4898" opacity="0.9"/>
<circle cx="466.9" cy="244.3" r="1.0" fill="#8a74bc" opacity="0.5"/>
<ellipse cx="340.1" cy="324.1" rx="3.1" ry="3.2" fill="#6c54a2" opacity="0.35"/>
<ellipse cx="340.1" cy="324.1" rx="2.8" ry="2.7" fill="#6c54a2" opacity="0.9"/>
<circle cx="340.1" cy="324.1" r="1.2" fill="#8a74bc" opacity="0.5"/>
<ellipse cx="357.3" cy="236.7" rx="2.8" ry="3.1" fill="#644c9e" opacity="0.35"/>
<ellipse cx="357.3" cy="236.7" rx="2.4" ry="2.3" fill="#644c9e" opacity="0.9"/>
<ellipse cx="520.4" cy="299.0" rx="3.5" ry="3.4" fill="#644c9e" opacity="0.35"/>
<ellipse cx="520.4" cy="299.0" rx="2.4" ry="2.5" fill="#644c9e" opacity="0.9"/>
<circle cx="520.4" cy="299.0" r="1.2" fill="#8a74bc" opacity="0.5"/>
<ellipse cx="516.8" cy="338.5" rx="3.4" ry="3.1" fill="#6c54a2" opacity="0.35"/>
<ellipse cx="516.8" cy="338.5" rx="2.5" ry="2.5" fill="#6c54a2" opacity="0.9"/>
<ellipse cx="521.2" cy="315.2" rx="3.5" ry="3.3" fill="#5e4898" opacity="0.35"/>
<ellipse cx="521.2" cy="315.2" rx="2.5" ry="2.7" fill="#5e4898" opacity="0.9"/>
<ellipse cx="382.7" cy="255.5" rx="3.6" ry="3.6" fill="#5e4898" opacity="0.35"/>
<ellipse cx="382.7" cy="255.5" rx="2.7" ry="2.8" fill="#5e4898" opacity="0.9"/>
<ellipse cx="436.2" cy="324.3" rx="3.3" ry="3.3" fill="#5e4898" opacity="0.35"/>
<ellipse cx="436.2" cy="324.3" rx="2.6" ry="2.7" fill="#5e4898" opacity="0.9"/>
<ellipse cx="458.3" cy="262.7" rx="3.3" ry="3.4" fill="#5e4898" opacity="0.35"/>
<ellipse cx="458.3" cy="262.7" rx="2.4" ry="2.6" fill="#5e4898" opacity="0.9"/>
<ellipse cx="358.8" cy="290.1" rx="3.3" ry="3.1" fill="#6c54a2" opacity="0.35"/>
<ellipse cx="358.8" cy="290.1" rx="2.8" ry="2.8" fill="#6c54a2" opacity="0.9"/>
<circle cx="358.8" cy="290.1" r="1.3" fill="#8a74bc" opacity="0.5"/>
<ellipse cx="502.8" cy="204.4" rx="2.7" ry="2.7" fill="#584294" opacity="0.35"/>
<ellipse cx="502.8" cy="204.4" rx="2.2" ry="2.2" fill="#584294" opacity="0.9"/>
<circle cx="502.8" cy="204.4" r="1.0" fill="#8a74bc" opacity="0.5"/>
<ellipse cx="373.1" cy="249.7" rx="3.1" ry="3.1" fill="#584294" opacity="0.35"/>
<ellipse cx="373.1" cy="249.7" rx="2.4" ry="2.5" fill="#584294" opacity="0.9"/>
<ellipse cx="486.5" cy="211.3" rx="3.4" ry="3.5" fill="#6c54a2" opacity="0.35"/>
<ellipse cx="486.5" cy="211.3" rx="2.6" ry="2.4" fill="#6c54a2" opacity="0.9"/>
<ellipse cx="358.3" cy="317.8" rx="3.6" ry="3.5" fill="#5e4898" opacity="0.35"/>
<ellipse cx="358.3" cy="317.8" rx="2.8" ry="2.9" fill="#5e4898" opacity="0.9"/>
<ellipse cx="394.0" cy="325.0" rx="2.9" ry="2.5" fill="#7258a6" opacity="0.35"/>
<ellipse cx="394.0" cy="325.0" rx="2.1" ry="2.1" fill="#7258a6" opacity="0.9"/>
<circle cx="394.0" cy="325.0" r="1.0" fill="#8a74bc" opacity="0.5"/>
<ellipse cx="469.5" cy="273.8" rx="3.2" ry="3.0" fill="#6c54a2" opacity="0.35"/>
<ellipse cx="469.5" cy="273.8" rx="2.4" ry="2.4" fill="#6c54a2" opacity="0.9"/>
<circle cx="469.5" cy="273.8" r="1.2" fill="#8a74bc" opacity="0.5"/>
<ellipse cx="468.4" cy="252.9" rx="3.4" ry="3.6" fill="#584294" opacity="0.35"/>
<ellipse cx="468.4" cy="252.9" rx="2.8" ry="2.8" fill="#584294" opacity="0.9"/>
<ellipse cx="375.5" cy="226.2" rx="3.5" ry="3.2" fill="#644c9e" opacity="0.35"/>
<ellipse cx="375.5" cy="226.2" rx="2.7" ry="2.5" fill="#644c9e" opacity="0.9"/>
<circle cx="375.5" cy="226.2" r="1.2" fill="#8a74bc" opacity="0.5"/>
<ellipse cx="389.0" cy="269.6" rx="3.3" ry="3.4" fill="#644c9e" opacity="0.35"/>
<ellipse cx="389.0" cy="269.6" rx="2.5" ry="2.6" fill="#644c9e" opacity="0.9"/>
<circle cx="389.0" cy="269.6" r="1.2" fill="#8a74bc" opacity="0.5"/>
<ellipse cx="327.1" cy="189.5" rx="3.2" ry="3.1" fill="#7258a6" opacity="0.35"/>
<ellipse cx="327.1" cy="189.5" rx="2.6" ry="2.7" fill="#7258a6" opacity="0.9"/>
<circle cx="327.1" cy="189.5" r="1.3" fill="#8a74bc" opacity="0.5"/>
<ellipse cx="398.1" cy="275.7" rx="3.0" ry="2.8" fill="#584294" opacity="0.35"/>
<ellipse cx="398.1" cy="275.7" rx="2.3" ry="2.3" fill="#584294" opacity="0.9"/>
<ellipse cx="319.2" cy="291.1" rx="3.4" ry="3.2" fill="#5e4898" opacity="0.35"/>
<ellipse cx="319.2" cy="291.1" rx="2.6" ry="2.5" fill="#5e4898" opacity="0.9"/>
<ellipse cx="440.5" cy="242.5" rx="3.0" ry="3.2" fill="#6c54a2" opacity="0.35"/>
<ellipse cx="440.5" cy="242.5" rx="2.3" ry="2.2" fill="#6c54a2" opacity="0.9"/>
<ellipse cx="428.3" cy="260.1" rx="2.8" ry="2.9" fill="#5e4898" opacity="0.35"/>
<ellipse cx="428.3" cy="260.1" rx="2.1" ry="2.2" fill="#5e4898" opacity="0.9"/>
<ellipse cx="494.3" cy="250.3" rx="2.8" ry="2.8" fill="#584294" opacity="0.35"/>
<ellipse cx="494.3" cy="250.3" rx="2.0" ry="1.9" fill="#584294" opacity="0.9"/>
<circle cx="494.3" cy="250.3" r="1.0" fill="#8a74bc" opacity="0.5"/>
<ellipse cx="361.9" cy="257.3" rx="2.9" ry="2.7" fill="#5e4898" opacity="0.35"/>
<ellipse cx="361.9" cy="257.3" rx="2.0" ry="2.1" fill="#5e4898" opacity="0.9"/>
<circle cx="361.9" cy="257.3" r="1.0" fill="#8a74bc" opacity="0.5"/>
<ellipse cx="345.4" cy="285.2" rx="3.5" ry="3.4" fill="#6c54a2" opacity="0.35"/>
<ellipse cx="345.4" cy="285.2" rx="2.5" ry="2.4" fill="#6c54a2" opacity="0.9"/>
<circle cx="345.4" cy="285.2" r="1.2" fill="#8a74bc" opacity="0.5"/>
<ellipse cx="518.8" cy="272.5" rx="2.9" ry="3.1" fill="#5e4898" opacity="0.35"/>
<ellipse cx="518.8" cy="272.5" rx="2.2" ry="2.2" fill="#5e4898" opacity="0.9"/>
<ellipse cx="457.3" cy="289.9" rx="3.4" ry="3.4" fill="#5e4898" opacity="0.35"/>
<ellipse cx="457.3" cy="289.9" rx="3.0" ry="3.0" fill="#5e4898" opacity="0.9"/>
<ellipse cx="425.6" cy="221.1" rx="3.4" ry="3.3" fill="#7258a6" opacity="0.35"/>
<ellipse cx="425.6" cy="221.1" rx="2.8" ry="2.7" fill="#7258a6" opacity="0.9"/>
<ellipse cx="504.1" cy="248.0" rx="3.2" ry="3.1" fill="#644c9e" opacity="0.35"/>
<ellipse cx="504.1" cy="248.0" rx="2.6" ry="2.5" fill="#644c9e" opacity="0.9"/>
<ellipse cx="479.2" cy="343.9" rx="3.1" ry="3.3" fill="#584294" opacity="0.35"/>
<ellipse cx="479.2" cy="343.9" rx="2.4" ry="2.4" fill="#584294" opacity="0.9"/>
<circle cx="479.2" cy="343.9" r="1.2" fill="#8a74bc" opacity="0.5"/>
<ellipse cx="338.9" cy="216.5" rx="3.2" ry="3.2" fill="#584294" opacity="0.35"/>
<ellipse cx="338.9" cy="216.5" rx="2.6" ry="2.5" fill="#584294" opacity="0.9"/>
<ellipse cx="415.8" cy="284.7" rx="3.1" ry="2.8" fill="#584294" opacity="0.35"/>
<ellipse cx="415.8" cy="284.7" rx="2.2" ry="2.3" fill="#584294" opacity="0.9"/>
<circle cx="415.8" cy="284.7" r="1.1" fill="#8a74bc" opacity="0.5"/>
<ellipse cx="326.3" cy="303.9" rx="3.4" ry="3.2" fill="#5e4898" opacity="0.35"/>
<ellipse cx="326.3" cy="303.9" rx="2.6" ry="2.7" fill="#5e4898" opacity="0.9"/>
<circle cx="326.3" cy="303.9" r="1.2" fill="#8a74bc" opacity="0.5"/>
<ellipse cx="502.3" cy="229.5" rx="3.0" ry="2.8" fill="#6c54a2" opacity="0.35"/>
<ellipse cx="502.3" cy="229.5" rx="2.4" ry="2.2" fill="#6c54a2" opacity="0.9"/>
<circle cx="502.3" cy="229.5" r="1.1" fill="#8a74bc" opacity="0.5"/>
<ellipse cx="314.3" cy="234.0" rx="2.9" ry="2.8" fill="#7258a6" opacity="0.35"/>
<ellipse cx="314.3" cy="234.0" rx="2.1" ry="2.1" fill="#7258a6" opacity="0.9"/>
<ellipse cx="372.0" cy="343.3" rx="3.3" ry="3.3" fill="#7258a6" opacity="0.35"/>
<ellipse cx="372.0" cy="343.3" rx="2.6" ry="2.8" fill="#7258a6" opacity="0.9"/>
<circle cx="372.0" cy="343.3" r="1.3" fill="#8a74bc" opacity="0.5"/>
<ellipse cx="514.6" cy="321.4" rx="2.9" ry="2.9" fill="#7258a6" opacity="0.35"/>
<ellipse cx="514.6" cy="321.4" rx="2.1" ry="2.1" fill="#7258a6" opacity="0.9"/>
<circle cx="514.6" cy="321.4" r="1.1" fill="#8a74bc" opacity="0.5"/>
<ellipse cx="430.7" cy="279.7" rx="2.9" ry="3.0" fill="#584294" opacity="0.35"/>
<ellipse cx="430.7" cy="279.7" rx="2.1" ry="2.2" fill="#584294" opacity="0.9"/>
<circle cx="430.7" cy="279.7" r="1.0" fill="#8a74bc" opacity="0.5"/>
<ellipse cx="313.7" cy="214.6" rx="3.0" ry="3.0" fill="#5e4898" opacity="0.35"/>
<ellipse cx="313.7" cy="214.6" rx="2.3" ry="2.5" fill="#5e4898" opacity="0.9"/>
<circle cx="313.7" cy="214.6" r="1.1" fill="#8a74bc" opacity="0.5"/>
<ellipse cx="420.4" cy="275.0" rx="3.2" ry="3.3" fill="#6c54a2" opacity="0.35"/>
<ellipse cx="420.4" cy="275.0" rx="2.7" ry="2.6" fill="#6c54a2" opacity="0.9"/>
<ellipse cx="484.8" cy="251.2" rx="3.0" ry="3.2" fill="#584294" opacity="0.35"/>
<ellipse cx="484.8" cy="251.2" rx="2.3" ry="2.2" fill="#584294" opacity="0.9"/>
<ellipse cx="519.0" cy="217.0" rx="3.0" ry="3.0" fill="#6c54a2" opacity="0.35"/>
<ellipse cx="519.0" cy="217.0" rx="2.5" ry="2.4" fill="#6c54a2" opacity="0.9"/>
<ellipse cx="465.9" cy="308.7" rx="3.0" ry="3.2" fill="#6c54a2" opacity="0.35"/>
<ellipse cx="465.9" cy="308.7" rx="2.3" ry="2.2" fill="#6c54a2" opacity="0.9"/>
<ellipse cx="449.3" cy="262.7" rx="3.3" ry="3.3" fill="#5e4898" opacity="0.35"/>
<ellipse cx="449.3" cy="262.7" rx="2.6" ry="2.5" fill="#5e4898" opacity="0.9"/>
<circle cx="449.3" cy="262.7" r="1.2" fill="#8a74bc" opacity="0.5"/>
<ellipse cx="416.2" cy="310.6" rx="3.3" ry="3.4" fill="#584294" opacity="0.35"/>
<ellipse cx="416.2" cy="310.6" rx="2.3" ry="2.5" fill="#584294" opacity="0.9"/>
<ellipse cx="435.9" cy="342.0" rx="3.7" ry="3.7" fill="#644c9e" opacity="0.35"/>
<ellipse cx="435.9" cy="342.0" rx="3.0" ry="2.8" fill="#644c9e" opacity="0.9"/>
<ellipse cx="431.8" cy="187.9" rx="3.6" ry="3.3" fill="#5e4898" opacity="0.35"/>
<ellipse cx="431.8" cy="187.9" rx="2.8" ry="2.8" fill="#5e4898" opacity="0.9"/>
<circle cx="431.8" cy="187.9" r="1.3" fill="#8a74bc" opacity="0.5"/>
<ellipse cx="485.4" cy="202.3" rx="2.8" ry="2.9" fill="#644c9e" opacity="0.35"/>
<ellipse cx="485.4" cy="202.3" rx="2.1" ry="2.1" fill="#644c9e" opacity="0.9"/>
<circle cx="485.4" cy="202.3" r="1.0" fill="#8a74bc" opacity="0.5"/>
<ellipse cx="354.3" cy="341.4" rx="3.0" ry="2.9" fill="#7258a6" opacity="0.35"/>
<ellipse cx="354.3" cy="341.4" rx="2.2" ry="2.4" fill="#7258a6" opacity="0.9"/>
<circle cx="354.3" cy="341.4" r="1.1" fill="#8a74bc" opacity="0.5"/>
<ellipse cx="456.5" cy="342.0" rx="3.3" ry="3.6" fill="#7258a6" opacity="0.35"/>
<ellipse cx="456.5" cy="342.0" rx="2.7" ry="2.8" fill="#7258a6" opacity="0.9"/>
<circle cx="456.5" cy="342.0" r="1.3" fill="#8a74bc" opacity="0.5"/>
<ellipse cx="497.5" cy="265.3" rx="3.0" ry="2.9" fill="#5e4898" opacity="0.35"/>
<ellipse cx="497.5" cy="265.3" rx="2.3" ry="2.3" fill="#5e4898" opacity="0.9"/>
<circle cx="497.5" cy="265.3" r="1.0" fill="#8a74bc" opacity="0.5"/>
<ellipse cx="450.3" cy="281.6" rx="3.0" ry="3.0" fill="#6c54a2" opacity="0.35"/>
<ellipse cx="450.3" cy="281.6" rx="2.3" ry="2.3" fill="#6c54a2" opacity="0.9"/>
<ellipse cx="392.8" cy="284.4" rx="3.3" ry="3.4" fill="#7258a6" opacity="0.35"/>
<ellipse cx="392.8" cy="284.4" rx="3.0" ry="2.7" fill="#7258a6" opacity="0.9"/>
<ellipse cx="322.4" cy="204.8" rx="3.1" ry="3.1" fill="#584294" opacity="0.35"/>
<ellipse cx="322.4" cy="204.8" rx="2.2" ry="2.4" fill="#584294" opacity="0.9"/>
<circle cx="322.4" cy="204.8" r="1.1" fill="#8a74bc" opacity="0.5"/>
<ellipse cx="463.8" cy="231.1" rx="3.1" ry="3.3" fill="#644c9e" opacity="0.35"/>
<ellipse cx="463.8" cy="231.1" rx="2.6" ry="2.6" fill="#644c9e" opacity="0.9"/>
<ellipse cx="452.0" cy="214.3" rx="2.8" ry="3.0" fill="#584294" opacity="0.35"/>
<ellipse cx="452.0" cy="214.3" rx="2.3" ry="2.4" fill="#584294" opacity="0.9"/>
<circle cx="452.0" cy="214.3" r="1.1" fill="#8a74bc" opacity="0.5"/>
<ellipse cx="485.5" cy="272.9" rx="3.4" ry="3.6" fill="#7258a6" opacity="0.35"/>
<ellipse cx="485.5" cy="272.9" rx="3.0" ry="3.0" fill="#7258a6" opacity="0.9"/>
<circle cx="485.5" cy="272.9" r="1.4" fill="#8a74bc" opacity="0.5"/>
<ellipse cx="349.9" cy="204.0" rx="4.0" ry="3.9" fill="#6c54a2" opacity="0.35"/>
<ellipse cx="349.9" cy="204.0" rx="3.1" ry="3.0" fill="#6c54a2" opacity="0.9"/>
<circle cx="349.9" cy="204.0" r="1.4" fill="#8a74bc" opacity="0.5"/>
<ellipse cx="412.2" cy="235.7" rx="3.4" ry="3.7" fill="#644c9e" opacity="0.35"/>
<ellipse cx="412.2" cy="235.7" rx="2.9" ry="3.0" fill="#644c9e" opacity="0.9"/>
<circle cx="412.2" cy="235.7" r="1.4" fill="#8a74bc" opacity="0.5"/>
<ellipse cx="501.9" cy="323.1" rx="2.9" ry="2.9" fill="#6c54a2" opacity="0.35"/>
<ellipse cx="501.9" cy="323.1" rx="2.2" ry="2.2" fill="#6c54a2" opacity="0.9"/>
<circle cx="501.9" cy="323.1" r="1.1" fill="#8a74bc" opacity="0.5"/>
<ellipse cx="423.3" cy="248.3" rx="3.5" ry="3.8" fill="#584294" opacity="0.35"/>
<ellipse cx="423.3" cy="248.3" rx="2.8" ry="3.0" fill="#584294" opacity="0.9"/>
<circle cx="423.3" cy="248.3" r="1.4" fill="#8a74bc" opacity="0.5"/>
<ellipse cx="500.0" cy="219.4" rx="3.0" ry="2.8" fill="#644c9e" opacity="0.35"/>
<ellipse cx="500.0" cy="219.4" rx="2.2" ry="2.2" fill="#644c9e" opacity="0.9"/>
<ellipse cx="386.5" cy="320.4" rx="3.2" ry="3.0" fill="#6c54a2" opacity="0.35"/>
<ellipse cx="386.5" cy="320.4" rx="2.3" ry="2.3" fill="#6c54a2" opacity="0.9"/>
<ellipse cx="325.9" cy="251.0" rx="2.9" ry="2.9" fill="#6c54a2" opacity="0.35"/>
<ellipse cx="325.9" cy="251.0" rx="2.1" ry="2.2" fill="#6c54a2" opacity="0.9"/>
<circle cx="325.9" cy="251.0" r="1.0" fill="#8a74bc" opacity="0.5"/>
<ellipse cx="349.8" cy="269.1" rx="2.7" ry="3.0" fill="#6c54a2" opacity="0.35"/>
<ellipse cx="349.8" cy="269.1" rx="2.1" ry="2.0" fill="#6c54a2" opacity="0.9"/>
<ellipse cx="442.9" cy="227.1" rx="3.0" ry="3.2" fill="#7258a6" opacity="0.35"/>
<ellipse cx="442.9" cy="227.1" rx="2.3" ry="2.4" fill="#7258a6" opacity="0.9"/>
<circle cx="442.9" cy="227.1" r="1.1" fill="#8a74bc" opacity="0.5"/>
<ellipse cx="519.6" cy="207.9" rx="3.6" ry="3.7" fill="#644c9e" opacity="0.35"/>
<ellipse cx="519.6" cy="207.9" rx="2.9" ry="2.9" fill="#644c9e" opacity="0.9"/>
<circle cx="519.6" cy="207.9" r="1.4" fill="#8a74bc" opacity="0.5"/>
<ellipse cx="448.2" cy="313.9" rx="2.8" ry="2.6" fill="#5e4898" opacity="0.35"/>
<ellipse cx="448.2" cy="313.9" rx="1.9" ry="2.0" fill="#5e4898" opacity="0.9"/>
<ellipse cx="502.9" cy="272.5" rx="3.0" ry="2.8" fill="#584294" opacity="0.35"/>
<ellipse cx="502.9" cy="272.5" rx="2.0" ry="2.1" fill="#584294" opacity="0.9"/>
<ellipse cx="401.9" cy="218.5" rx="2.6" ry="2.6" fill="#584294" opacity="0.35"/>
<ellipse cx="401.9" cy="218.5" rx="2.0" ry="2.0" fill="#584294" opacity="0.9"/>
<ellipse cx="477.5" cy="326.7" rx="3.1" ry="3.0" fill="#7258a6" opacity="0.35"/>
<ellipse cx="477.5" cy="326.7" rx="2.2" ry="2.2" fill="#7258a6" opacity="0.9"/>
<ellipse cx="314.2" cy="276.3" rx="3.6" ry="3.8" fill="#6c54a2" opacity="0.35"/>
<ellipse cx="314.2" cy="276.3" rx="2.9" ry="2.9" fill="#6c54a2" opacity="0.9"/>
<ellipse cx="521.2" cy="249.6" rx="3.1" ry="3.0" fill="#5e4898" opacity="0.35"/>
<ellipse cx="521.2" cy="249.6" rx="2.3" ry="2.5" fill="#5e4898" opacity="0.9"/>
<circle cx="521.2" cy="249.6" r="1.1" fill="#8a74bc" opacity="0.5"/>
<ellipse cx="362.7" cy="309.7" rx="3.9" ry="3.3" fill="#5e4898" opacity="0.35"/>
<ellipse cx="362.7" cy="309.7" rx="2.9" ry="2.9" fill="#5e4898" opacity="0.9"/>
<circle cx="362.7" cy="309.7" r="1.4" fill="#8a74bc" opacity="0.5"/>
<ellipse cx="317.7" cy="186.5" rx="3.3" ry="3.2" fill="#644c9e" opacity="0.35"/>
<ellipse cx="317.7" cy="186.5" rx="2.6" ry="2.7" fill="#644c9e" opacity="0.9"/>
<ellipse cx="338.8" cy="225.7" rx="3.0" ry="3.0" fill="#584294" opacity="0.35"/>
<ellipse cx="338.8" cy="225.7" rx="2.2" ry="2.3" fill="#584294" opacity="0.9"/>
<circle cx="338.8" cy="225.7" r="1.1" fill="#8a74bc" opacity="0.5"/>
<ellipse cx="428.2" cy="338.9" rx="3.7" ry="3.6" fill="#584294" opacity="0.35"/>
<ellipse cx="428.2" cy="338.9" rx="2.8" ry="2.7" fill="#584294" opacity="0.9"/>
<ellipse cx="380.3" cy="272.5" rx="3.4" ry="3.4" fill="#584294" opacity="0.35"/>
<ellipse cx="380.3" cy="272.5" rx="2.8" ry="2.8" fill="#584294" opacity="0.9"/>
</g>
<g filter="url(#bl07)">
<ellipse cx="332.1" cy="225.6" rx="2.3" ry="2.2" fill="#38296e" opacity="0.88"/>
<ellipse cx="467.0" cy="215.4" rx="1.7" ry="1.8" fill="#34266a" opacity="0.88"/>
<ellipse cx="462.8" cy="207.7" rx="2.7" ry="2.5" fill="#34266a" opacity="0.88"/>
<ellipse cx="327.2" cy="211.3" rx="1.7" ry="1.7" fill="#463484" opacity="0.88"/>
<ellipse cx="463.6" cy="197.1" rx="2.0" ry="2.4" fill="#4e3c8a" opacity="0.88"/>
<ellipse cx="400.3" cy="298.3" rx="2.1" ry="2.2" fill="#4e3c8a" opacity="0.88"/>
<ellipse cx="472.8" cy="211.9" rx="2.4" ry="2.3" fill="#4e3c8a" opacity="0.88"/>
</g>
</g>
<rect x="316.5" y="189.5" width="202" height="151.5" fill="none" stroke="#4e4060" stroke-width="1"/>
<clipPath id="c22"><rect x="316.5" y="344.5" width="202" height="151.5"/></clipPath>
<g clip-path="url(#c22)">
<rect x="316.5" y="344.5" width="202" height="151.5" fill="#9c74b2"/>
<g filter="url(#bl6)">
<circle cx="510.1" cy="365.8" r="8.3" fill="#8660a6" opacity="0.6"/>
<circle cx="353.7" cy="362.8" r="15.8" fill="#b87eb8" opacity="0.6"/>
<circle cx="476.6" cy="356.6" r="11.2" fill="#c08cc0" opacity="0.6"/>
<circle cx="381.0" cy="435.6" r="19.2" fill="#a070b2" opacity="0.6"/>
<circle cx="464.6" cy="409.6" r="18.6" fill="#c898c6" opacity="0.6"/>
<circle cx="494.5" cy="433.8" r="11.7" fill="#8e68aa" opacity="0.6"/>
<circle cx="353.0" cy="361.4" r="14.4" fill="#a070b2" opacity="0.6"/>
<circle cx="472.8" cy="490.1" r="14.8" fill="#a070b2" opacity="0.6"/>
<circle cx="382.4" cy="395.2" r="10.2" fill="#8660a6" opacity="0.6"/>
<circle cx="379.6" cy="462.8" r="19.5" fill="#a070b2" opacity="0.6"/>
<circle cx="420.6" cy="386.8" r="11.2" fill="#a070b2" opacity="0.6"/>
<circle cx="353.9" cy="351.9" r="14.4" fill="#c08cc0" opacity="0.6"/>
<circle cx="401.2" cy="382.6" r="11.4" fill="#8660a6" opacity="0.6"/>
<circle cx="396.7" cy="484.6" r="10.2" fill="#c898c6" opacity="0.6"/>
<circle cx="392.0" cy="432.8" r="11.6" fill="#c898c6" opacity="0.6"/>
<circle cx="429.9" cy="424.4" r="17.1" fill="#c898c6" opacity="0.6"/>
<circle cx="402.8" cy="358.2" r="13.3" fill="#c08cc0" opacity="0.6"/>
<circle cx="403.7" cy="405.5" r="19.2" fill="#8e68aa" opacity="0.6"/>
<circle cx="419.9" cy="405.2" r="9.2" fill="#8e68aa" opacity="0.6"/>
<circle cx="351.1" cy="427.3" r="12.2" fill="#b87eb8" opacity="0.6"/>
<circle cx="500.3" cy="439.9" r="13.3" fill="#c08cc0" opacity="0.6"/>
<circle cx="424.7" cy="465.1" r="15.8" fill="#8e68aa" opacity="0.6"/>
<circle cx="448.9" cy="359.8" r="10.3" fill="#c08cc0" opacity="0.6"/>
<circle cx="483.8" cy="484.0" r="13.5" fill="#c490c2" opacity="0.6"/>
<circle cx="340.8" cy="451.7" r="9.6" fill="#b87eb8" opacity="0.6"/>
<circle cx="516.7" cy="457.2" r="13.7" fill="#a070b2" opacity="0.6"/>
<circle cx="329.8" cy="452.7" r="19.5" fill="#c08cc0" opacity="0.6"/>
<circle cx="482.1" cy="436.7" r="19.3" fill="#c08cc0" opacity="0.6"/>
<circle cx="354.2" cy="397.6" r="8.8" fill="#c08cc0" opacity="0.6"/>
<circle cx="351.1" cy="449.3" r="13.2" fill="#b87eb8" opacity="0.6"/>
<circle cx="352.3" cy="356.1" r="10.3" fill="#a070b2" opacity="0.6"/>
<circle cx="340.4" cy="377.3" r="11.1" fill="#c490c2" opacity="0.6"/>
<circle cx="330.2" cy="348.0" r="17.0" fill="#c898c6" opacity="0.6"/>
<circle cx="411.4" cy="376.0" r="12.1" fill="#a070b2" opacity="0.6"/>
<circle cx="500.0" cy="424.0" r="10.2" fill="#8e68aa" opacity="0.6"/>
<circle cx="392.8" cy="473.1" r="8.4" fill="#8e68aa" opacity="0.6"/>
<circle cx="468.8" cy="440.7" r="8.6" fill="#a070b2" opacity="0.6"/>
<circle cx="461.6" cy="414.9" r="11.0" fill="#8e68aa" opacity="0.6"/>
<circle cx="339.2" cy="484.3" r="19.2" fill="#c898c6" opacity="0.6"/>
<circle cx="348.4" cy="479.2" r="15.8" fill="#c08cc0" opacity="0.6"/>
<circle cx="322.6" cy="368.5" r="11.4" fill="#c490c2" opacity="0.6"/>
<circle cx="414.8" cy="349.0" r="17.2" fill="#c08cc0" opacity="0.6"/>
<circle cx="360.0" cy="467.5" r="13.4" fill="#a070b2" opacity="0.6"/>
<circle cx="363.6" cy="425.5" r="9.7" fill="#b87eb8" opacity="0.6"/>
<circle cx="368.8" cy="491.6" r="16.3" fill="#a070b2" opacity="0.6"/>
<circle cx="393.2" cy="441.5" r="10.1" fill="#c490c2" opacity="0.6"/>
<circle cx="509.3" cy="438.6" r="15.8" fill="#b87eb8" opacity="0.6"/>
<circle cx="487.9" cy="422.2" r="10.3" fill="#b87eb8" opacity="0.6"/>
<circle cx="422.6" cy="397.2" r="17.5" fill="#8660a6" opacity="0.6"/>
<circle cx="457.2" cy="468.3" r="19.7" fill="#8e68aa" opacity="0.6"/>
<circle cx="417.3" cy="396.5" r="18.5" fill="#c08cc0" opacity="0.6"/>
<circle cx="394.6" cy="443.8" r="10.3" fill="#8e68aa" opacity="0.6"/>
<circle cx="333.8" cy="484.0" r="12.1" fill="#c08cc0" opacity="0.6"/>
<circle cx="421.1" cy="491.4" r="9.8" fill="#c898c6" opacity="0.6"/>
<circle cx="389.6" cy="488.8" r="8.0" fill="#b87eb8" opacity="0.6"/>
<circle cx="471.6" cy="347.8" r="19.4" fill="#a070b2" opacity="0.6"/>
<circle cx="326.9" cy="440.3" r="8.8" fill="#c898c6" opacity="0.6"/>
<circle cx="330.0" cy="371.5" r="14.1" fill="#b87eb8" opacity="0.6"/>
<circle cx="500.2" cy="406.9" r="15.5" fill="#a070b2" opacity="0.6"/>
<circle cx="427.4" cy="393.3" r="16.1" fill="#c490c2" opacity="0.6"/>
<circle cx="420" cy="420" r="34.2" fill="#7a5aa4" opacity="0.60"/>
<circle cx="398" cy="452" r="23.4" fill="#7a5aa4" opacity="0.51"/>
<circle cx="368" cy="466" r="14.4" fill="#7a5aa4" opacity="0.36"/>
<circle cx="452" cy="402" r="19.8" fill="#7a5aa4" opacity="0.45"/>
<circle cx="420" cy="378" r="16.2" fill="#7a5aa4" opacity="0.42"/>
<circle cx="446" cy="452" r="16.2" fill="#7a5aa4" opacity="0.42"/>
</g>
<g filter="url(#bl15)">
<ellipse cx="463.3" cy="481.1" rx="4.0" ry="4.4" fill="#bc88c0" opacity="0.7"/>
<ellipse cx="453.7" cy="345.0" rx="2.5" ry="1.7" fill="#bc88c0" opacity="0.7"/>
<ellipse cx="376.8" cy="348.1" rx="2.7" ry="1.8" fill="#7e5aa0" opacity="0.7"/>
<ellipse cx="483.1" cy="483.7" rx="2.2" ry="1.8" fill="#7e5aa0" opacity="0.7"/>
<ellipse cx="388.0" cy="467.7" rx="2.6" ry="2.7" fill="#e8dcf0" opacity="0.7"/>
<ellipse cx="510.2" cy="401.3" rx="1.9" ry="2.6" fill="#e8dcf0" opacity="0.7"/>
<ellipse cx="426.2" cy="358.6" rx="4.0" ry="4.8" fill="#e8dcf0" opacity="0.7"/>
<ellipse cx="344.5" cy="351.9" rx="4.5" ry="5.6" fill="#d0b0d8" opacity="0.7"/>
<ellipse cx="429.5" cy="394.0" rx="2.2" ry="2.0" fill="#b07cb8" opacity="0.7"/>
<ellipse cx="385.1" cy="402.2" rx="4.3" ry="4.6" fill="#7e5aa0" opacity="0.7"/>
<ellipse cx="404.2" cy="426.1" rx="2.9" ry="2.8" fill="#b07cb8" opacity="0.7"/>
<ellipse cx="405.4" cy="376.1" rx="3.7" ry="4.9" fill="#d0b0d8" opacity="0.7"/>
<ellipse cx="347.7" cy="413.2" rx="3.9" ry="3.0" fill="#7e5aa0" opacity="0.7"/>
<ellipse cx="476.3" cy="385.0" rx="2.1" ry="2.6" fill="#8e68aa" opacity="0.7"/>
<ellipse cx="434.7" cy="390.4" rx="2.4" ry="2.8" fill="#bc88c0" opacity="0.7"/>
<ellipse cx="465.6" cy="412.5" rx="3.7" ry="4.6" fill="#b07cb8" opacity="0.7"/>
<ellipse cx="501.9" cy="428.8" rx="4.0" ry="3.3" fill="#8e68aa" opacity="0.7"/>
<ellipse cx="474.6" cy="378.7" rx="3.2" ry="3.7" fill="#e8dcf0" opacity="0.7"/>
<ellipse cx="325.8" cy="485.0" rx="3.4" ry="2.7" fill="#7e5aa0" opacity="0.7"/>
<ellipse cx="477.7" cy="401.0" rx="4.4" ry="4.7" fill="#8e68aa" opacity="0.7"/>
<ellipse cx="386.9" cy="401.2" rx="4.4" ry="3.1" fill="#e8dcf0" opacity="0.7"/>
<ellipse cx="438.7" cy="391.2" rx="3.9" ry="2.7" fill="#b07cb8" opacity="0.7"/>
<ellipse cx="419.3" cy="483.6" rx="2.9" ry="2.0" fill="#e8dcf0" opacity="0.7"/>
<ellipse cx="447.6" cy="384.0" rx="1.8" ry="1.7" fill="#bc88c0" opacity="0.7"/>
<ellipse cx="348.4" cy="487.0" rx="3.2" ry="2.3" fill="#d0b0d8" opacity="0.7"/>
<ellipse cx="369.3" cy="362.8" rx="2.3" ry="2.6" fill="#b07cb8" opacity="0.7"/>
<ellipse cx="417.8" cy="383.0" rx="3.0" ry="2.9" fill="#b07cb8" opacity="0.7"/>
<ellipse cx="474.9" cy="393.3" rx="4.1" ry="4.9" fill="#b07cb8" opacity="0.7"/>
<ellipse cx="326.7" cy="363.2" rx="2.0" ry="2.5" fill="#e8dcf0" opacity="0.7"/>
<ellipse cx="511.4" cy="407.0" rx="4.4" ry="6.0" fill="#b07cb8" opacity="0.7"/>
<ellipse cx="335.6" cy="474.1" rx="4.4" ry="3.6" fill="#e8dcf0" opacity="0.7"/>
<ellipse cx="385.9" cy="429.4" rx="2.2" ry="2.9" fill="#7e5aa0" opacity="0.7"/>
<ellipse cx="419.8" cy="481.5" rx="3.7" ry="3.8" fill="#8e68aa" opacity="0.7"/>
<ellipse cx="406.0" cy="467.9" rx="1.8" ry="2.1" fill="#7e5aa0" opacity="0.7"/>
<ellipse cx="331.4" cy="438.3" rx="4.1" ry="3.7" fill="#bc88c0" opacity="0.7"/>
<ellipse cx="338.7" cy="429.7" rx="4.2" ry="5.7" fill="#b07cb8" opacity="0.7"/>
<ellipse cx="338.7" cy="414.8" rx="2.3" ry="2.2" fill="#8e68aa" opacity="0.7"/>
<ellipse cx="408.4" cy="369.6" rx="1.9" ry="1.3" fill="#bc88c0" opacity="0.7"/>
<ellipse cx="401.7" cy="442.4" rx="3.1" ry="2.6" fill="#e8dcf0" opacity="0.7"/>
<ellipse cx="450.6" cy="455.5" rx="2.8" ry="1.9" fill="#7e5aa0" opacity="0.7"/>
<ellipse cx="513.2" cy="366.0" rx="2.9" ry="2.1" fill="#bc88c0" opacity="0.7"/>
<ellipse cx="468.9" cy="399.4" rx="4.3" ry="5.3" fill="#7e5aa0" opacity="0.7"/>
<ellipse cx="422.6" cy="478.5" rx="3.1" ry="1.9" fill="#8e68aa" opacity="0.7"/>
<ellipse cx="464.8" cy="351.2" rx="1.9" ry="1.9" fill="#e8dcf0" opacity="0.7"/>
<ellipse cx="387.2" cy="361.4" rx="2.4" ry="2.1" fill="#7e5aa0" opacity="0.7"/>
<ellipse cx="350.9" cy="383.7" rx="4.3" ry="5.2" fill="#e8dcf0" opacity="0.7"/>
<ellipse cx="413.7" cy="409.6" rx="3.9" ry="3.4" fill="#bc88c0" opacity="0.7"/>
<ellipse cx="343.7" cy="461.7" rx="4.4" ry="5.9" fill="#b07cb8" opacity="0.7"/>
<ellipse cx="388.2" cy="451.6" rx="2.5" ry="1.7" fill="#bc88c0" opacity="0.7"/>
<ellipse cx="453.0" cy="428.6" rx="2.4" ry="2.7" fill="#8e68aa" opacity="0.7"/>
<ellipse cx="348.0" cy="382.9" rx="4.4" ry="5.9" fill="#8e68aa" opacity="0.7"/>
<ellipse cx="501.9" cy="432.9" rx="4.1" ry="3.4" fill="#d0b0d8" opacity="0.7"/>
<ellipse cx="401.0" cy="460.9" rx="1.8" ry="2.1" fill="#b07cb8" opacity="0.7"/>
<ellipse cx="444.6" cy="437.9" rx="3.8" ry="3.6" fill="#b07cb8" opacity="0.7"/>
<ellipse cx="344.0" cy="422.4" rx="2.4" ry="2.1" fill="#d0b0d8" opacity="0.7"/>
<ellipse cx="380.9" cy="357.5" rx="3.8" ry="3.7" fill="#e8dcf0" opacity="0.7"/>
<ellipse cx="418.7" cy="399.8" rx="4.4" ry="3.6" fill="#bc88c0" opacity="0.7"/>
<ellipse cx="453.2" cy="449.1" rx="3.2" ry="3.4" fill="#d0b0d8" opacity="0.7"/>
<ellipse cx="322.6" cy="487.7" rx="3.2" ry="2.9" fill="#bc88c0" opacity="0.7"/>
<ellipse cx="401.5" cy="470.9" rx="2.1" ry="1.4" fill="#7e5aa0" opacity="0.7"/>
<ellipse cx="439.4" cy="398.6" rx="2.4" ry="2.6" fill="#8e68aa" opacity="0.7"/>
<ellipse cx="335.6" cy="389.3" rx="3.4" ry="4.4" fill="#7e5aa0" opacity="0.7"/>
<ellipse cx="382.3" cy="384.8" rx="2.8" ry="1.9" fill="#bc88c0" opacity="0.7"/>
<ellipse cx="384.8" cy="478.3" rx="2.8" ry="3.5" fill="#bc88c0" opacity="0.7"/>
<ellipse cx="465.9" cy="490.9" rx="3.9" ry="3.7" fill="#b07cb8" opacity="0.7"/>
<ellipse cx="351.3" cy="467.1" rx="2.1" ry="1.5" fill="#8e68aa" opacity="0.7"/>
<ellipse cx="474.2" cy="380.1" rx="3.0" ry="2.0" fill="#bc88c0" opacity="0.7"/>
<ellipse cx="410.9" cy="442.8" rx="3.0" ry="4.1" fill="#7e5aa0" opacity="0.7"/>
<ellipse cx="334.1" cy="398.1" rx="3.1" ry="3.1" fill="#b07cb8" opacity="0.7"/>
<ellipse cx="372.7" cy="366.0" rx="4.2" ry="4.6" fill="#7e5aa0" opacity="0.7"/>
<ellipse cx="425.3" cy="493.9" rx="3.4" ry="3.7" fill="#7e5aa0" opacity="0.7"/>
<ellipse cx="398.5" cy="381.3" rx="3.1" ry="3.1" fill="#d0b0d8" opacity="0.7"/>
<ellipse cx="463.5" cy="489.2" rx="3.7" ry="3.9" fill="#bc88c0" opacity="0.7"/>
<ellipse cx="511.4" cy="454.6" rx="2.7" ry="3.3" fill="#d0b0d8" opacity="0.7"/>
<ellipse cx="414.2" cy="488.1" rx="3.9" ry="2.4" fill="#8e68aa" opacity="0.7"/>
<ellipse cx="398.3" cy="415.2" rx="1.9" ry="1.4" fill="#8e68aa" opacity="0.7"/>
<ellipse cx="388.6" cy="352.4" rx="2.5" ry="2.2" fill="#d0b0d8" opacity="0.7"/>
<ellipse cx="333.9" cy="455.6" rx="4.4" ry="5.3" fill="#e8dcf0" opacity="0.7"/>
<ellipse cx="452.8" cy="430.9" rx="4.0" ry="4.0" fill="#e8dcf0" opacity="0.7"/>
<ellipse cx="419.8" cy="475.2" rx="2.6" ry="3.4" fill="#bc88c0" opacity="0.7"/>
<ellipse cx="354.8" cy="358.5" rx="1.9" ry="1.3" fill="#b07cb8" opacity="0.7"/>
<ellipse cx="481.5" cy="374.2" rx="3.2" ry="3.3" fill="#b07cb8" opacity="0.7"/>
<ellipse cx="456.3" cy="359.0" rx="2.2" ry="1.9" fill="#bc88c0" opacity="0.7"/>
<ellipse cx="407.3" cy="466.2" rx="3.3" ry="2.9" fill="#8e68aa" opacity="0.7"/>
<ellipse cx="376.2" cy="439.1" rx="3.6" ry="2.9" fill="#8e68aa" opacity="0.7"/>
<ellipse cx="326.4" cy="388.1" rx="2.0" ry="1.5" fill="#e8dcf0" opacity="0.7"/>
<ellipse cx="451.0" cy="364.2" rx="2.9" ry="2.9" fill="#b07cb8" opacity="0.7"/>
<ellipse cx="376.7" cy="422.1" rx="3.4" ry="2.4" fill="#e8dcf0" opacity="0.7"/>
<ellipse cx="406.6" cy="376.9" rx="1.9" ry="1.9" fill="#b07cb8" opacity="0.7"/>
<ellipse cx="320.0" cy="431.7" rx="4.3" ry="5.2" fill="#e8dcf0" opacity="0.7"/>
<ellipse cx="363.3" cy="358.4" rx="1.9" ry="1.6" fill="#bc88c0" opacity="0.7"/>
<ellipse cx="401.2" cy="494.0" rx="4.0" ry="4.3" fill="#7e5aa0" opacity="0.7"/>
<ellipse cx="376.9" cy="431.1" rx="2.0" ry="2.3" fill="#bc88c0" opacity="0.7"/>
<ellipse cx="444.0" cy="401.7" rx="2.9" ry="2.0" fill="#e8dcf0" opacity="0.7"/>
<ellipse cx="423.2" cy="478.5" rx="3.8" ry="2.5" fill="#bc88c0" opacity="0.7"/>
<ellipse cx="470.0" cy="441.0" rx="2.6" ry="2.7" fill="#b07cb8" opacity="0.7"/>
<ellipse cx="450.3" cy="442.2" rx="3.9" ry="4.5" fill="#e8dcf0" opacity="0.7"/>
<ellipse cx="358.8" cy="417.1" rx="1.9" ry="2.7" fill="#d0b0d8" opacity="0.7"/>
<ellipse cx="436.2" cy="473.9" rx="3.7" ry="4.9" fill="#bc88c0" opacity="0.7"/>
<ellipse cx="418.0" cy="378.3" rx="3.1" ry="3.7" fill="#bc88c0" opacity="0.7"/>
<ellipse cx="425.0" cy="382.3" rx="2.6" ry="2.7" fill="#b07cb8" opacity="0.7"/>
<ellipse cx="496.6" cy="491.0" rx="2.2" ry="2.2" fill="#d0b0d8" opacity="0.7"/>
<ellipse cx="456.4" cy="410.4" rx="2.4" ry="2.4" fill="#e8dcf0" opacity="0.7"/>
<ellipse cx="322.7" cy="437.4" rx="2.9" ry="3.7" fill="#d0b0d8" opacity="0.7"/>
<ellipse cx="364.8" cy="442.5" rx="2.5" ry="2.5" fill="#7e5aa0" opacity="0.7"/>
<ellipse cx="346.5" cy="473.4" rx="3.0" ry="3.0" fill="#8e68aa" opacity="0.7"/>
<ellipse cx="489.8" cy="412.2" rx="2.6" ry="2.6" fill="#8e68aa" opacity="0.7"/>
<ellipse cx="494.9" cy="416.9" rx="4.2" ry="5.1" fill="#d0b0d8" opacity="0.7"/>
<ellipse cx="350.3" cy="454.1" rx="2.2" ry="1.7" fill="#e8dcf0" opacity="0.7"/>
<ellipse cx="446.9" cy="421.3" rx="3.2" ry="2.2" fill="#bc88c0" opacity="0.7"/>
<ellipse cx="320.3" cy="410.2" rx="3.8" ry="3.4" fill="#7e5aa0" opacity="0.7"/>
<ellipse cx="373.6" cy="407.3" rx="3.2" ry="4.1" fill="#b07cb8" opacity="0.7"/>
<ellipse cx="352.2" cy="420.7" rx="3.8" ry="5.0" fill="#e8dcf0" opacity="0.7"/>
<ellipse cx="381.3" cy="399.5" rx="2.2" ry="2.4" fill="#7e5aa0" opacity="0.7"/>
<ellipse cx="515.6" cy="494.7" rx="2.1" ry="2.5" fill="#7e5aa0" opacity="0.7"/>
<ellipse cx="514.9" cy="419.6" rx="2.3" ry="3.0" fill="#e8dcf0" opacity="0.7"/>
<ellipse cx="508.8" cy="421.7" rx="1.9" ry="2.6" fill="#8e68aa" opacity="0.7"/>
<ellipse cx="350.3" cy="431.5" rx="4.5" ry="3.6" fill="#bc88c0" opacity="0.7"/>
<ellipse cx="320.6" cy="348.5" rx="3.6" ry="4.3" fill="#d0b0d8" opacity="0.7"/>
<ellipse cx="365.9" cy="447.6" rx="3.1" ry="3.9" fill="#b07cb8" opacity="0.7"/>
<ellipse cx="397.7" cy="354.3" rx="4.0" ry="3.2" fill="#d0b0d8" opacity="0.7"/>
<ellipse cx="375.5" cy="344.6" rx="2.1" ry="2.5" fill="#e8dcf0" opacity="0.7"/>
<ellipse cx="330.1" cy="381.3" rx="2.9" ry="1.9" fill="#b07cb8" opacity="0.7"/>
<ellipse cx="448.4" cy="483.6" rx="4.5" ry="4.9" fill="#8e68aa" opacity="0.7"/>
<ellipse cx="467.2" cy="393.5" rx="3.1" ry="2.1" fill="#e8dcf0" opacity="0.7"/>
<ellipse cx="481.5" cy="425.5" rx="1.8" ry="2.1" fill="#7e5aa0" opacity="0.7"/>
<ellipse cx="379.5" cy="345.1" rx="2.5" ry="3.1" fill="#b07cb8" opacity="0.7"/>
<ellipse cx="326.8" cy="347.3" rx="3.7" ry="3.1" fill="#b07cb8" opacity="0.7"/>
<ellipse cx="409.9" cy="452.4" rx="1.9" ry="2.4" fill="#8e68aa" opacity="0.7"/>
<ellipse cx="320.8" cy="451.7" rx="3.5" ry="3.0" fill="#7e5aa0" opacity="0.7"/>
<ellipse cx="444.4" cy="447.7" rx="3.9" ry="4.7" fill="#bc88c0" opacity="0.7"/>
<ellipse cx="329.9" cy="469.7" rx="2.7" ry="3.7" fill="#7e5aa0" opacity="0.7"/>
<ellipse cx="495.6" cy="441.6" rx="3.2" ry="3.2" fill="#bc88c0" opacity="0.7"/>
<ellipse cx="464.5" cy="377.8" rx="2.8" ry="1.8" fill="#bc88c0" opacity="0.7"/>
<ellipse cx="370.9" cy="380.0" rx="1.9" ry="1.2" fill="#e8dcf0" opacity="0.7"/>
<ellipse cx="376.6" cy="345.5" rx="1.9" ry="1.5" fill="#d0b0d8" opacity="0.7"/>
<ellipse cx="473.3" cy="466.6" rx="3.7" ry="5.1" fill="#bc88c0" opacity="0.7"/>
<ellipse cx="318.4" cy="383.4" rx="2.8" ry="3.4" fill="#8e68aa" opacity="0.7"/>
<ellipse cx="462.7" cy="462.0" rx="4.4" ry="5.3" fill="#bc88c0" opacity="0.7"/>
<ellipse cx="403.9" cy="485.4" rx="2.5" ry="1.8" fill="#8e68aa" opacity="0.7"/>
<ellipse cx="464.0" cy="453.8" rx="2.2" ry="1.5" fill="#e8dcf0" opacity="0.7"/>
<ellipse cx="387.7" cy="389.2" rx="3.6" ry="3.0" fill="#b07cb8" opacity="0.7"/>
<ellipse cx="432.2" cy="425.5" rx="4.0" ry="4.8" fill="#d0b0d8" opacity="0.7"/>
<ellipse cx="324.0" cy="347.9" rx="2.7" ry="3.6" fill="#8e68aa" opacity="0.7"/>
<ellipse cx="458.7" cy="345.9" rx="3.2" ry="2.4" fill="#e8dcf0" opacity="0.7"/>
<ellipse cx="476.4" cy="431.0" rx="2.2" ry="2.2" fill="#bc88c0" opacity="0.7"/>
<ellipse cx="412.7" cy="381.8" rx="2.3" ry="2.6" fill="#8e68aa" opacity="0.7"/>
<ellipse cx="415.5" cy="466.1" rx="3.7" ry="4.5" fill="#8e68aa" opacity="0.7"/>
<ellipse cx="320.8" cy="389.2" rx="3.6" ry="2.2" fill="#b07cb8" opacity="0.7"/>
<ellipse cx="518.3" cy="368.2" rx="3.0" ry="2.2" fill="#7e5aa0" opacity="0.7"/>
<ellipse cx="514.6" cy="420.1" rx="2.0" ry="1.8" fill="#7e5aa0" opacity="0.7"/>
<ellipse cx="316.5" cy="440.4" rx="3.2" ry="3.8" fill="#bc88c0" opacity="0.7"/>
<ellipse cx="326.0" cy="442.3" rx="3.3" ry="4.7" fill="#7e5aa0" opacity="0.7"/>
<ellipse cx="429.5" cy="377.4" rx="2.8" ry="2.7" fill="#d0b0d8" opacity="0.7"/>
<ellipse cx="322.2" cy="387.5" rx="2.2" ry="2.6" fill="#b07cb8" opacity="0.7"/>
<ellipse cx="319.8" cy="463.1" rx="4.2" ry="4.1" fill="#e8dcf0" opacity="0.7"/>
<ellipse cx="440.5" cy="413.7" rx="3.6" ry="3.2" fill="#8e68aa" opacity="0.7"/>
<ellipse cx="332.5" cy="399.7" rx="4.3" ry="4.7" fill="#e8dcf0" opacity="0.7"/>
<ellipse cx="332.2" cy="375.9" rx="3.6" ry="5.0" fill="#7e5aa0" opacity="0.7"/>
<ellipse cx="506.6" cy="362.4" rx="1.9" ry="2.1" fill="#b07cb8" opacity="0.7"/>
<ellipse cx="403.3" cy="357.2" rx="3.5" ry="4.0" fill="#8e68aa" opacity="0.7"/>
<ellipse cx="446.9" cy="446.7" rx="2.0" ry="1.7" fill="#bc88c0" opacity="0.7"/>
<ellipse cx="401.7" cy="429.5" rx="3.5" ry="3.0" fill="#bc88c0" opacity="0.7"/>
<ellipse cx="462.0" cy="346.0" rx="3.1" ry="3.5" fill="#7e5aa0" opacity="0.7"/>
<ellipse cx="380.0" cy="353.6" rx="3.4" ry="2.5" fill="#e8dcf0" opacity="0.7"/>
<ellipse cx="496.8" cy="409.9" rx="4.0" ry="5.5" fill="#bc88c0" opacity="0.7"/>
<ellipse cx="494.0" cy="441.8" rx="2.2" ry="2.3" fill="#8e68aa" opacity="0.7"/>
<ellipse cx="444.0" cy="481.8" rx="4.0" ry="3.6" fill="#d0b0d8" opacity="0.7"/>
<ellipse cx="354.6" cy="384.0" rx="4.2" ry="3.3" fill="#b07cb8" opacity="0.7"/>
<ellipse cx="352.8" cy="382.1" rx="2.1" ry="1.9" fill="#7e5aa0" opacity="0.7"/>
<ellipse cx="473.1" cy="446.2" rx="2.3" ry="2.0" fill="#bc88c0" opacity="0.7"/>
<ellipse cx="351.4" cy="358.4" rx="2.1" ry="1.4" fill="#d0b0d8" opacity="0.7"/>
<ellipse cx="496.5" cy="495.0" rx="1.8" ry="2.0" fill="#e8dcf0" opacity="0.7"/>
<ellipse cx="432.6" cy="461.0" rx="2.6" ry="2.9" fill="#d0b0d8" opacity="0.7"/>
<ellipse cx="444.9" cy="368.5" rx="3.0" ry="2.6" fill="#b07cb8" opacity="0.7"/>
<ellipse cx="500.4" cy="476.4" rx="3.2" ry="3.7" fill="#b07cb8" opacity="0.7"/>
<ellipse cx="325.5" cy="492.9" rx="3.6" ry="2.9" fill="#7e5aa0" opacity="0.7"/>
<ellipse cx="436.7" cy="361.9" rx="2.8" ry="2.0" fill="#8e68aa" opacity="0.7"/>
<ellipse cx="446.7" cy="481.6" rx="2.1" ry="2.0" fill="#8e68aa" opacity="0.7"/>
<ellipse cx="504.1" cy="414.6" rx="2.9" ry="2.6" fill="#bc88c0" opacity="0.7"/>
<ellipse cx="452.8" cy="487.4" rx="2.0" ry="1.4" fill="#b07cb8" opacity="0.7"/>
<ellipse cx="390.4" cy="477.8" rx="3.1" ry="3.5" fill="#7e5aa0" opacity="0.7"/>
<ellipse cx="489.4" cy="395.8" rx="1.9" ry="2.2" fill="#7e5aa0" opacity="0.7"/>
<ellipse cx="378.5" cy="404.1" rx="3.3" ry="3.0" fill="#bc88c0" opacity="0.7"/>
<ellipse cx="369.7" cy="457.7" rx="3.0" ry="2.5" fill="#b07cb8" opacity="0.7"/>
<ellipse cx="497.3" cy="366.0" rx="3.2" ry="3.8" fill="#7e5aa0" opacity="0.7"/>
<ellipse cx="333.7" cy="397.9" rx="3.9" ry="4.5" fill="#b07cb8" opacity="0.7"/>
<ellipse cx="327.5" cy="385.8" rx="1.9" ry="1.6" fill="#d0b0d8" opacity="0.7"/>
<ellipse cx="382.8" cy="475.0" rx="4.1" ry="4.1" fill="#b07cb8" opacity="0.7"/>
<ellipse cx="401.2" cy="471.2" rx="3.3" ry="4.3" fill="#7e5aa0" opacity="0.7"/>
<ellipse cx="512.8" cy="383.4" rx="3.6" ry="2.5" fill="#7e5aa0" opacity="0.7"/>
<ellipse cx="492.5" cy="454.9" rx="3.5" ry="2.2" fill="#bc88c0" opacity="0.7"/>
<ellipse cx="338.1" cy="347.0" rx="2.7" ry="2.1" fill="#8e68aa" opacity="0.7"/>
<ellipse cx="451.4" cy="463.2" rx="2.9" ry="3.1" fill="#bc88c0" opacity="0.7"/>
<ellipse cx="456.8" cy="475.7" rx="3.0" ry="2.1" fill="#b07cb8" opacity="0.7"/>
<ellipse cx="384.2" cy="478.2" rx="2.3" ry="3.0" fill="#bc88c0" opacity="0.7"/>
<ellipse cx="515.1" cy="349.5" rx="3.1" ry="2.7" fill="#bc88c0" opacity="0.7"/>
<ellipse cx="490.6" cy="402.3" rx="3.3" ry="3.5" fill="#bc88c0" opacity="0.7"/>
<ellipse cx="409.4" cy="346.6" rx="3.5" ry="3.9" fill="#8e68aa" opacity="0.7"/>
<ellipse cx="495.2" cy="488.2" rx="2.5" ry="2.1" fill="#b07cb8" opacity="0.7"/>
<ellipse cx="418.4" cy="348.0" rx="2.5" ry="2.5" fill="#b07cb8" opacity="0.7"/>
<ellipse cx="343.5" cy="401.0" rx="3.7" ry="2.8" fill="#bc88c0" opacity="0.7"/>
<ellipse cx="392.2" cy="430.0" rx="3.8" ry="5.1" fill="#b07cb8" opacity="0.7"/>
<ellipse cx="447.1" cy="425.8" rx="3.7" ry="4.6" fill="#d0b0d8" opacity="0.7"/>
<ellipse cx="316.6" cy="485.4" rx="3.1" ry="4.3" fill="#7e5aa0" opacity="0.7"/>
<ellipse cx="340.3" cy="439.4" rx="3.1" ry="3.9" fill="#8e68aa" opacity="0.7"/>
<ellipse cx="326.7" cy="450.3" rx="3.4" ry="3.9" fill="#d0b0d8" opacity="0.7"/>
<ellipse cx="506.3" cy="475.2" rx="3.7" ry="4.8" fill="#8e68aa" opacity="0.7"/>
<ellipse cx="382.4" cy="379.7" rx="3.5" ry="4.8" fill="#d0b0d8" opacity="0.7"/>
<ellipse cx="407.8" cy="351.3" rx="3.0" ry="2.3" fill="#d0b0d8" opacity="0.7"/>
<ellipse cx="319.4" cy="393.3" rx="1.9" ry="1.4" fill="#8e68aa" opacity="0.7"/>
<ellipse cx="394.5" cy="394.4" rx="4.3" ry="3.0" fill="#d0b0d8" opacity="0.7"/>
<ellipse cx="504.7" cy="422.5" rx="3.5" ry="4.7" fill="#8e68aa" opacity="0.7"/>
<ellipse cx="485.8" cy="475.7" rx="3.8" ry="4.0" fill="#bc88c0" opacity="0.7"/>
<ellipse cx="482.8" cy="468.4" rx="4.2" ry="4.3" fill="#d0b0d8" opacity="0.7"/>
<ellipse cx="448.2" cy="390.5" rx="4.4" ry="3.2" fill="#7e5aa0" opacity="0.7"/>
<ellipse cx="382.7" cy="484.8" rx="3.3" ry="3.2" fill="#7e5aa0" opacity="0.7"/>
<ellipse cx="517.1" cy="417.1" rx="4.0" ry="4.1" fill="#bc88c0" opacity="0.7"/>
<ellipse cx="404.6" cy="443.0" rx="4.4" ry="5.2" fill="#e8dcf0" opacity="0.7"/>
<ellipse cx="382.4" cy="424.0" rx="2.0" ry="2.2" fill="#7e5aa0" opacity="0.7"/>
<ellipse cx="394.6" cy="387.5" rx="3.9" ry="4.4" fill="#d0b0d8" opacity="0.7"/>
<ellipse cx="493.5" cy="416.9" rx="3.7" ry="3.2" fill="#d0b0d8" opacity="0.7"/>
<ellipse cx="330.9" cy="382.1" rx="2.0" ry="2.4" fill="#8e68aa" opacity="0.7"/>
<ellipse cx="338.3" cy="481.0" rx="1.9" ry="2.2" fill="#e8dcf0" opacity="0.7"/>
<ellipse cx="408.1" cy="414.2" rx="3.4" ry="3.6" fill="#bc88c0" opacity="0.7"/>
<ellipse cx="486.0" cy="386.1" rx="2.0" ry="2.1" fill="#bc88c0" opacity="0.7"/>
<ellipse cx="386.4" cy="404.2" rx="2.7" ry="3.0" fill="#7e5aa0" opacity="0.7"/>
<ellipse cx="459.7" cy="373.8" rx="2.3" ry="1.7" fill="#7e5aa0" opacity="0.7"/>
<ellipse cx="351.7" cy="406.7" rx="3.5" ry="4.2" fill="#7e5aa0" opacity="0.7"/>
<ellipse cx="370.5" cy="413.2" rx="1.9" ry="2.2" fill="#bc88c0" opacity="0.7"/>
<ellipse cx="405.9" cy="401.6" rx="3.7" ry="4.4" fill="#bc88c0" opacity="0.7"/>
<ellipse cx="359.7" cy="350.1" rx="3.1" ry="3.1" fill="#8e68aa" opacity="0.7"/>
<ellipse cx="416.2" cy="461.3" rx="2.0" ry="1.8" fill="#bc88c0" opacity="0.7"/>
<ellipse cx="447.9" cy="479.4" rx="3.4" ry="2.7" fill="#e8dcf0" opacity="0.7"/>
<ellipse cx="467.1" cy="471.9" rx="3.1" ry="4.0" fill="#bc88c0" opacity="0.7"/>
<ellipse cx="490.1" cy="426.8" rx="4.2" ry="4.5" fill="#7e5aa0" opacity="0.7"/>
<ellipse cx="415.5" cy="402.5" rx="2.5" ry="2.7" fill="#d0b0d8" opacity="0.7"/>
<ellipse cx="465.7" cy="458.7" rx="1.9" ry="2.4" fill="#d0b0d8" opacity="0.7"/>
<ellipse cx="501.7" cy="443.4" rx="3.6" ry="4.1" fill="#b07cb8" opacity="0.7"/>
<ellipse cx="329.1" cy="372.9" rx="2.4" ry="2.8" fill="#b07cb8" opacity="0.7"/>
<ellipse cx="355.4" cy="351.2" rx="1.9" ry="2.0" fill="#b07cb8" opacity="0.7"/>
<ellipse cx="341.4" cy="478.6" rx="3.1" ry="3.6" fill="#8e68aa" opacity="0.7"/>
<ellipse cx="344.9" cy="434.4" rx="1.9" ry="2.0" fill="#8e68aa" opacity="0.7"/>
<ellipse cx="325.7" cy="443.0" rx="4.1" ry="2.8" fill="#bc88c0" opacity="0.7"/>
<ellipse cx="474.3" cy="378.4" rx="3.7" ry="4.1" fill="#7e5aa0" opacity="0.7"/>
<ellipse cx="339.6" cy="409.7" rx="4.3" ry="4.0" fill="#8e68aa" opacity="0.7"/>
<ellipse cx="385.5" cy="432.3" rx="3.3" ry="3.2" fill="#b07cb8" opacity="0.7"/>
<ellipse cx="430.4" cy="361.4" rx="3.4" ry="2.5" fill="#b07cb8" opacity="0.7"/>
<ellipse cx="480.6" cy="446.2" rx="3.0" ry="3.3" fill="#d0b0d8" opacity="0.7"/>
<ellipse cx="355.5" cy="394.8" rx="4.3" ry="5.6" fill="#b07cb8" opacity="0.7"/>
<ellipse cx="343.8" cy="461.9" rx="2.2" ry="1.3" fill="#b07cb8" opacity="0.7"/>
<ellipse cx="400.4" cy="459.3" rx="2.9" ry="3.0" fill="#d0b0d8" opacity="0.7"/>
<ellipse cx="492.4" cy="469.2" rx="4.4" ry="4.4" fill="#e8dcf0" opacity="0.7"/>
<ellipse cx="493.1" cy="480.3" rx="4.4" ry="5.5" fill="#bc88c0" opacity="0.7"/>
<ellipse cx="487.1" cy="402.6" rx="3.3" ry="2.1" fill="#e8dcf0" opacity="0.7"/>
<ellipse cx="440.4" cy="408.7" rx="3.4" ry="4.5" fill="#d0b0d8" opacity="0.7"/>
<ellipse cx="410.7" cy="365.2" rx="3.2" ry="3.5" fill="#e8dcf0" opacity="0.7"/>
<ellipse cx="428.3" cy="384.8" rx="2.8" ry="2.1" fill="#8e68aa" opacity="0.7"/>
<ellipse cx="362.1" cy="453.9" rx="3.0" ry="3.1" fill="#d0b0d8" opacity="0.7"/>
<ellipse cx="372.0" cy="440.5" rx="2.3" ry="2.5" fill="#b07cb8" opacity="0.7"/>
<ellipse cx="393.7" cy="411.9" rx="3.5" ry="2.8" fill="#e8dcf0" opacity="0.7"/>
<ellipse cx="386.1" cy="377.8" rx="3.8" ry="4.3" fill="#e8dcf0" opacity="0.7"/>
<ellipse cx="347.3" cy="455.9" rx="3.3" ry="2.3" fill="#b07cb8" opacity="0.7"/>
<ellipse cx="496.7" cy="353.0" rx="3.2" ry="4.1" fill="#7e5aa0" opacity="0.7"/>
<ellipse cx="373.7" cy="477.4" rx="3.6" ry="2.4" fill="#d0b0d8" opacity="0.7"/>
<ellipse cx="449.3" cy="451.7" rx="4.4" ry="4.9" fill="#bc88c0" opacity="0.7"/>
<ellipse cx="381.8" cy="429.8" rx="3.2" ry="3.1" fill="#b07cb8" opacity="0.7"/>
<ellipse cx="437.7" cy="434.0" rx="3.6" ry="3.9" fill="#8e68aa" opacity="0.7"/>
<ellipse cx="328.9" cy="368.3" rx="3.1" ry="3.6" fill="#8e68aa" opacity="0.7"/>
<ellipse cx="436.7" cy="359.2" rx="2.2" ry="2.2" fill="#7e5aa0" opacity="0.7"/>
<ellipse cx="375.1" cy="411.5" rx="3.8" ry="2.6" fill="#d0b0d8" opacity="0.7"/>
<ellipse cx="468.3" cy="481.6" rx="4.0" ry="4.8" fill="#e8dcf0" opacity="0.7"/>
<ellipse cx="452.5" cy="491.9" rx="4.3" ry="3.1" fill="#7e5aa0" opacity="0.7"/>
<ellipse cx="339.2" cy="379.5" rx="4.1" ry="4.5" fill="#e8dcf0" opacity="0.7"/>
<ellipse cx="333.3" cy="408.9" rx="1.8" ry="1.3" fill="#7e5aa0" opacity="0.7"/>
<ellipse cx="408.3" cy="373.5" rx="2.6" ry="1.6" fill="#e8dcf0" opacity="0.7"/>
<ellipse cx="431.3" cy="464.8" rx="1.9" ry="1.8" fill="#7e5aa0" opacity="0.7"/>
<ellipse cx="467.0" cy="470.6" rx="4.4" ry="3.2" fill="#7e5aa0" opacity="0.7"/>
<ellipse cx="321.3" cy="418.3" rx="2.6" ry="1.9" fill="#d0b0d8" opacity="0.7"/>
<ellipse cx="408.1" cy="376.2" rx="3.8" ry="3.0" fill="#e8dcf0" opacity="0.7"/>
<ellipse cx="391.8" cy="359.5" rx="3.6" ry="4.4" fill="#8e68aa" opacity="0.7"/>
<ellipse cx="474.8" cy="389.4" rx="3.4" ry="3.9" fill="#e8dcf0" opacity="0.7"/>
<ellipse cx="357.5" cy="421.0" rx="2.6" ry="1.6" fill="#e8dcf0" opacity="0.7"/>
<ellipse cx="374.6" cy="493.0" rx="3.9" ry="4.0" fill="#bc88c0" opacity="0.7"/>
<ellipse cx="346.3" cy="396.5" rx="4.0" ry="4.9" fill="#b07cb8" opacity="0.7"/>
<ellipse cx="378.0" cy="459.4" rx="3.2" ry="2.5" fill="#7e5aa0" opacity="0.7"/>
<ellipse cx="364.3" cy="345.3" rx="3.5" ry="4.1" fill="#bc88c0" opacity="0.7"/>
<ellipse cx="484.7" cy="442.7" rx="2.5" ry="1.6" fill="#d0b0d8" opacity="0.7"/>
<ellipse cx="342.8" cy="487.1" rx="3.2" ry="2.4" fill="#bc88c0" opacity="0.7"/>
<ellipse cx="385.9" cy="359.7" rx="3.7" ry="5.2" fill="#8e68aa" opacity="0.7"/>
<ellipse cx="443.7" cy="352.0" rx="4.0" ry="5.2" fill="#8e68aa" opacity="0.7"/>
<ellipse cx="501.4" cy="427.2" rx="2.4" ry="1.8" fill="#b07cb8" opacity="0.7"/>
<ellipse cx="325.5" cy="458.0" rx="4.4" ry="3.2" fill="#7e5aa0" opacity="0.7"/>
<ellipse cx="435.1" cy="382.9" rx="2.4" ry="2.1" fill="#d0b0d8" opacity="0.7"/>
<ellipse cx="354.5" cy="373.3" rx="3.6" ry="2.8" fill="#8e68aa" opacity="0.7"/>
<ellipse cx="493.6" cy="476.1" rx="2.0" ry="1.9" fill="#e8dcf0" opacity="0.7"/>
<ellipse cx="507.8" cy="482.6" rx="2.2" ry="1.4" fill="#e8dcf0" opacity="0.7"/>
<ellipse cx="335.5" cy="430.3" rx="3.6" ry="2.9" fill="#d0b0d8" opacity="0.7"/>
<ellipse cx="339.6" cy="467.5" rx="3.3" ry="3.5" fill="#7e5aa0" opacity="0.7"/>
<ellipse cx="390.2" cy="377.7" rx="3.2" ry="4.4" fill="#e8dcf0" opacity="0.7"/>
<ellipse cx="481.8" cy="390.2" rx="3.2" ry="2.2" fill="#7e5aa0" opacity="0.7"/>
<ellipse cx="370.9" cy="410.6" rx="3.8" ry="4.4" fill="#d0b0d8" opacity="0.7"/>
<ellipse cx="442.5" cy="464.5" rx="2.0" ry="2.3" fill="#8e68aa" opacity="0.7"/>
<ellipse cx="446.0" cy="396.8" rx="4.2" ry="5.8" fill="#b07cb8" opacity="0.7"/>
<ellipse cx="323.7" cy="410.0" rx="2.1" ry="2.9" fill="#7e5aa0" opacity="0.7"/>
<ellipse cx="495.8" cy="418.8" rx="3.5" ry="4.4" fill="#b07cb8" opacity="0.7"/>
<ellipse cx="378.6" cy="424.6" rx="3.8" ry="3.7" fill="#d0b0d8" opacity="0.7"/>
<ellipse cx="435.5" cy="423.7" rx="3.2" ry="3.6" fill="#7e5aa0" opacity="0.7"/>
<ellipse cx="354.4" cy="482.4" rx="3.6" ry="3.0" fill="#e8dcf0" opacity="0.7"/>
<ellipse cx="448.8" cy="399.6" rx="2.3" ry="2.8" fill="#b07cb8" opacity="0.7"/>
<ellipse cx="483.4" cy="444.8" rx="2.0" ry="2.5" fill="#8e68aa" opacity="0.7"/>
<ellipse cx="356.3" cy="358.5" rx="4.0" ry="4.5" fill="#e8dcf0" opacity="0.7"/>
<ellipse cx="479.4" cy="450.5" rx="4.3" ry="4.4" fill="#8e68aa" opacity="0.7"/>
<ellipse cx="373.2" cy="365.1" rx="2.4" ry="2.2" fill="#bc88c0" opacity="0.7"/>
<ellipse cx="454.5" cy="349.0" rx="3.5" ry="2.2" fill="#d0b0d8" opacity="0.7"/>
<ellipse cx="375.6" cy="404.0" rx="2.4" ry="2.0" fill="#d0b0d8" opacity="0.7"/>
<ellipse cx="450.9" cy="425.9" rx="2.4" ry="2.6" fill="#b07cb8" opacity="0.7"/>
<ellipse cx="386.9" cy="381.8" rx="2.3" ry="1.4" fill="#bc88c0" opacity="0.7"/>
<ellipse cx="463.1" cy="490.7" rx="4.2" ry="4.6" fill="#bc88c0" opacity="0.7"/>
<ellipse cx="483.0" cy="371.6" rx="2.7" ry="2.2" fill="#8e68aa" opacity="0.7"/>
<ellipse cx="513.2" cy="377.4" rx="2.2" ry="1.5" fill="#8e68aa" opacity="0.7"/>
<ellipse cx="423.4" cy="475.8" rx="3.4" ry="2.2" fill="#7e5aa0" opacity="0.7"/>
<ellipse cx="454.0" cy="466.9" rx="1.8" ry="2.2" fill="#b07cb8" opacity="0.7"/>
<ellipse cx="399.3" cy="481.2" rx="2.0" ry="2.2" fill="#d0b0d8" opacity="0.7"/>
<ellipse cx="359.8" cy="394.5" rx="2.3" ry="3.1" fill="#b07cb8" opacity="0.7"/>
<ellipse cx="434.7" cy="388.4" rx="3.9" ry="4.1" fill="#e8dcf0" opacity="0.7"/>
<ellipse cx="340.2" cy="375.5" rx="4.3" ry="5.1" fill="#7e5aa0" opacity="0.7"/>
<ellipse cx="405.6" cy="453.9" rx="3.4" ry="2.0" fill="#bc88c0" opacity="0.7"/>
<ellipse cx="378.9" cy="375.9" rx="2.9" ry="1.8" fill="#8e68aa" opacity="0.7"/>
<ellipse cx="419.3" cy="457.8" rx="4.3" ry="4.3" fill="#7e5aa0" opacity="0.7"/>
<ellipse cx="336.5" cy="455.9" rx="3.4" ry="3.5" fill="#d0b0d8" opacity="0.7"/>
<ellipse cx="389.6" cy="469.2" rx="2.3" ry="2.4" fill="#e8dcf0" opacity="0.7"/>
<ellipse cx="386.5" cy="479.0" rx="3.4" ry="4.4" fill="#8e68aa" opacity="0.7"/>
<ellipse cx="407.1" cy="397.9" rx="2.2" ry="2.8" fill="#8e68aa" opacity="0.7"/>
<ellipse cx="513.6" cy="418.3" rx="3.8" ry="3.8" fill="#b07cb8" opacity="0.7"/>
<ellipse cx="449.4" cy="452.1" rx="4.3" ry="4.0" fill="#8e68aa" opacity="0.7"/>
<ellipse cx="483.4" cy="384.3" rx="3.3" ry="3.8" fill="#8e68aa" opacity="0.7"/>
<ellipse cx="476.0" cy="408.8" rx="3.4" ry="3.7" fill="#bc88c0" opacity="0.7"/>
<ellipse cx="343.1" cy="471.6" rx="3.6" ry="3.6" fill="#7e5aa0" opacity="0.7"/>
<ellipse cx="453.3" cy="436.3" rx="3.5" ry="3.7" fill="#bc88c0" opacity="0.7"/>
<ellipse cx="391.7" cy="385.9" rx="2.7" ry="3.7" fill="#d0b0d8" opacity="0.7"/>
<ellipse cx="457.5" cy="479.6" rx="3.8" ry="2.6" fill="#e8dcf0" opacity="0.7"/>
<ellipse cx="404.9" cy="404.4" rx="3.9" ry="4.6" fill="#d0b0d8" opacity="0.7"/>
<ellipse cx="392.7" cy="388.5" rx="3.4" ry="4.4" fill="#7e5aa0" opacity="0.7"/>
<ellipse cx="343.6" cy="433.9" rx="3.7" ry="5.0" fill="#7e5aa0" opacity="0.7"/>
<ellipse cx="417.0" cy="351.3" rx="3.6" ry="3.9" fill="#e8dcf0" opacity="0.7"/>
<ellipse cx="416.6" cy="360.6" rx="1.8" ry="1.7" fill="#8e68aa" opacity="0.7"/>
<ellipse cx="347.5" cy="441.4" rx="3.3" ry="3.9" fill="#7e5aa0" opacity="0.7"/>
<ellipse cx="454.5" cy="409.7" rx="2.6" ry="1.9" fill="#e8dcf0" opacity="0.7"/>
<ellipse cx="413.1" cy="493.4" rx="3.0" ry="2.3" fill="#b07cb8" opacity="0.7"/>
<ellipse cx="357.4" cy="486.1" rx="4.1" ry="3.0" fill="#8e68aa" opacity="0.7"/>
<ellipse cx="459.2" cy="349.7" rx="3.9" ry="4.9" fill="#bc88c0" opacity="0.7"/>
<ellipse cx="496.3" cy="477.2" rx="2.3" ry="3.0" fill="#7e5aa0" opacity="0.7"/>
<ellipse cx="458.5" cy="401.9" rx="2.9" ry="3.8" fill="#7e5aa0" opacity="0.7"/>
<ellipse cx="376.1" cy="352.2" rx="1.9" ry="2.2" fill="#e8dcf0" opacity="0.7"/>
<ellipse cx="331.0" cy="371.3" rx="3.0" ry="2.2" fill="#e8dcf0" opacity="0.7"/>
<ellipse cx="419.8" cy="419.9" rx="2.8" ry="2.8" fill="#b07cb8" opacity="0.7"/>
<ellipse cx="446.2" cy="431.4" rx="2.6" ry="2.0" fill="#7e5aa0" opacity="0.7"/>
<ellipse cx="385.1" cy="473.0" rx="3.1" ry="2.8" fill="#bc88c0" opacity="0.7"/>
<ellipse cx="360.5" cy="379.6" rx="2.2" ry="2.3" fill="#7e5aa0" opacity="0.7"/>
<ellipse cx="437.7" cy="449.8" rx="1.9" ry="1.8" fill="#7e5aa0" opacity="0.7"/>
<ellipse cx="474.7" cy="383.2" rx="3.8" ry="4.9" fill="#d0b0d8" opacity="0.7"/>
<ellipse cx="344.1" cy="457.4" rx="2.6" ry="2.4" fill="#d0b0d8" opacity="0.7"/>
<ellipse cx="374.2" cy="388.3" rx="3.7" ry="3.8" fill="#bc88c0" opacity="0.7"/>
<ellipse cx="460.2" cy="427.7" rx="3.4" ry="3.9" fill="#bc88c0" opacity="0.7"/>
<ellipse cx="515.2" cy="408.5" rx="2.8" ry="3.1" fill="#e8dcf0" opacity="0.7"/>
<ellipse cx="479.7" cy="413.7" rx="2.5" ry="2.5" fill="#e8dcf0" opacity="0.7"/>
<ellipse cx="429.4" cy="379.5" rx="3.0" ry="1.9" fill="#bc88c0" opacity="0.7"/>
<ellipse cx="438.4" cy="488.8" rx="4.1" ry="2.9" fill="#e8dcf0" opacity="0.7"/>
<ellipse cx="359.0" cy="395.2" rx="2.6" ry="1.7" fill="#d0b0d8" opacity="0.7"/>
<ellipse cx="399.6" cy="441.4" rx="2.7" ry="2.7" fill="#bc88c0" opacity="0.7"/>
<ellipse cx="477.5" cy="457.1" rx="3.8" ry="2.6" fill="#bc88c0" opacity="0.7"/>
<ellipse cx="384.4" cy="493.6" rx="4.0" ry="3.4" fill="#e8dcf0" opacity="0.7"/>
<ellipse cx="488.0" cy="480.0" rx="2.3" ry="2.7" fill="#d0b0d8" opacity="0.7"/>
<ellipse cx="326.5" cy="380.3" rx="4.2" ry="4.9" fill="#bc88c0" opacity="0.7"/>
<ellipse cx="370.2" cy="412.6" rx="2.7" ry="3.6" fill="#d0b0d8" opacity="0.7"/>
<ellipse cx="324.0" cy="394.8" rx="3.1" ry="3.4" fill="#7e5aa0" opacity="0.7"/>
<ellipse cx="400.2" cy="486.2" rx="2.7" ry="2.4" fill="#8e68aa" opacity="0.7"/>
<ellipse cx="381.9" cy="419.5" rx="2.0" ry="2.5" fill="#e8dcf0" opacity="0.7"/>
<ellipse cx="414.8" cy="403.7" rx="2.4" ry="2.7" fill="#8e68aa" opacity="0.7"/>
<ellipse cx="387.1" cy="418.2" rx="2.8" ry="2.7" fill="#8e68aa" opacity="0.7"/>
<ellipse cx="489.5" cy="438.2" rx="2.0" ry="1.9" fill="#d0b0d8" opacity="0.7"/>
<ellipse cx="332.9" cy="441.9" rx="2.6" ry="2.1" fill="#e8dcf0" opacity="0.7"/>
<ellipse cx="443.0" cy="376.3" rx="3.8" ry="4.0" fill="#7e5aa0" opacity="0.7"/>
<ellipse cx="483.0" cy="483.9" rx="4.2" ry="5.0" fill="#8e68aa" opacity="0.7"/>
<ellipse cx="324.9" cy="477.7" rx="2.8" ry="1.7" fill="#8e68aa" opacity="0.7"/>
<ellipse cx="399.2" cy="349.4" rx="3.1" ry="4.0" fill="#7e5aa0" opacity="0.7"/>
<ellipse cx="503.3" cy="495.3" rx="4.4" ry="5.8" fill="#7e5aa0" opacity="0.7"/>
<ellipse cx="410.8" cy="383.2" rx="3.3" ry="2.1" fill="#e8dcf0" opacity="0.7"/>
<ellipse cx="371.5" cy="439.9" rx="2.4" ry="2.2" fill="#7e5aa0" opacity="0.7"/>
<ellipse cx="475.4" cy="454.7" rx="3.6" ry="4.3" fill="#8e68aa" opacity="0.7"/>
<ellipse cx="485.4" cy="447.6" rx="3.0" ry="3.9" fill="#d0b0d8" opacity="0.7"/>
<ellipse cx="487.8" cy="479.4" rx="4.3" ry="3.5" fill="#8e68aa" opacity="0.7"/>
<ellipse cx="484.6" cy="413.2" rx="2.3" ry="1.7" fill="#8e68aa" opacity="0.7"/>
<ellipse cx="480.8" cy="445.1" rx="3.0" ry="4.1" fill="#bc88c0" opacity="0.7"/>
<ellipse cx="332.8" cy="440.7" rx="2.5" ry="1.7" fill="#d0b0d8" opacity="0.7"/>
<ellipse cx="386.3" cy="403.2" rx="2.0" ry="1.6" fill="#7e5aa0" opacity="0.7"/>
<ellipse cx="391.9" cy="481.5" rx="2.3" ry="2.1" fill="#8e68aa" opacity="0.7"/>
<ellipse cx="444.7" cy="380.7" rx="2.1" ry="2.6" fill="#e8dcf0" opacity="0.7"/>
<ellipse cx="349.1" cy="349.0" rx="3.1" ry="3.5" fill="#e8dcf0" opacity="0.7"/>
<ellipse cx="380.4" cy="492.8" rx="2.6" ry="1.8" fill="#7e5aa0" opacity="0.7"/>
<ellipse cx="475.1" cy="449.4" rx="2.7" ry="2.9" fill="#b07cb8" opacity="0.7"/>
<ellipse cx="403.4" cy="445.2" rx="4.0" ry="2.6" fill="#7e5aa0" opacity="0.7"/>
<ellipse cx="498.7" cy="407.0" rx="2.4" ry="2.7" fill="#e8dcf0" opacity="0.7"/>
<ellipse cx="365.0" cy="372.9" rx="3.7" ry="2.5" fill="#d0b0d8" opacity="0.7"/>
<ellipse cx="330.2" cy="416.4" rx="1.9" ry="2.1" fill="#e8dcf0" opacity="0.7"/>
<ellipse cx="461.4" cy="430.9" rx="2.4" ry="3.1" fill="#bc88c0" opacity="0.7"/>
<ellipse cx="460.6" cy="472.6" rx="2.1" ry="1.7" fill="#7e5aa0" opacity="0.7"/>
<ellipse cx="411.7" cy="420.9" rx="2.2" ry="2.1" fill="#d0b0d8" opacity="0.7"/>
<ellipse cx="365.2" cy="392.0" rx="4.3" ry="3.0" fill="#bc88c0" opacity="0.7"/>
<ellipse cx="419.2" cy="349.5" rx="3.1" ry="3.5" fill="#d0b0d8" opacity="0.7"/>
<ellipse cx="316.8" cy="464.9" rx="1.9" ry="1.5" fill="#7e5aa0" opacity="0.7"/>
<ellipse cx="391.3" cy="475.1" rx="1.9" ry="2.5" fill="#b07cb8" opacity="0.7"/>
<ellipse cx="443.7" cy="418.4" rx="2.6" ry="2.8" fill="#8e68aa" opacity="0.7"/>
<ellipse cx="339.2" cy="436.0" rx="3.6" ry="4.3" fill="#7e5aa0" opacity="0.7"/>
<ellipse cx="375.8" cy="435.4" rx="2.5" ry="3.3" fill="#d0b0d8" opacity="0.7"/>
<ellipse cx="435.6" cy="356.0" rx="2.2" ry="2.9" fill="#e8dcf0" opacity="0.7"/>
<ellipse cx="400.5" cy="495.4" rx="2.6" ry="3.5" fill="#bc88c0" opacity="0.7"/>
<ellipse cx="475.9" cy="370.8" rx="3.1" ry="3.4" fill="#d0b0d8" opacity="0.7"/>
<ellipse cx="468.5" cy="481.9" rx="4.0" ry="4.4" fill="#b07cb8" opacity="0.7"/>
<ellipse cx="420.5" cy="396.6" rx="4.1" ry="2.6" fill="#8e68aa" opacity="0.7"/>
<ellipse cx="340.3" cy="408.5" rx="2.3" ry="1.8" fill="#8e68aa" opacity="0.7"/>
<ellipse cx="480.5" cy="351.9" rx="4.2" ry="5.3" fill="#7e5aa0" opacity="0.7"/>
<ellipse cx="342.6" cy="375.0" rx="3.8" ry="5.2" fill="#7e5aa0" opacity="0.7"/>
<ellipse cx="494.9" cy="452.7" rx="2.6" ry="3.3" fill="#bc88c0" opacity="0.7"/>
<ellipse cx="463.8" cy="352.9" rx="4.5" ry="3.0" fill="#b07cb8" opacity="0.7"/>
<ellipse cx="375.9" cy="361.0" rx="2.8" ry="3.8" fill="#7e5aa0" opacity="0.7"/>
<ellipse cx="387.6" cy="483.7" rx="3.6" ry="3.2" fill="#7e5aa0" opacity="0.7"/>
<ellipse cx="410.7" cy="463.0" rx="2.7" ry="1.7" fill="#8e68aa" opacity="0.7"/>
<ellipse cx="509.5" cy="422.7" rx="1.9" ry="1.3" fill="#8e68aa" opacity="0.7"/>
<ellipse cx="345.3" cy="394.7" rx="3.4" ry="2.9" fill="#e8dcf0" opacity="0.7"/>
<ellipse cx="406.1" cy="392.5" rx="2.8" ry="2.6" fill="#7e5aa0" opacity="0.7"/>
<ellipse cx="485.7" cy="478.1" rx="3.1" ry="3.6" fill="#7e5aa0" opacity="0.7"/>
<ellipse cx="376.1" cy="410.5" rx="3.9" ry="3.7" fill="#bc88c0" opacity="0.7"/>
<ellipse cx="466.5" cy="388.3" rx="3.7" ry="3.6" fill="#8e68aa" opacity="0.7"/>
<ellipse cx="361.1" cy="381.2" rx="2.7" ry="1.8" fill="#d0b0d8" opacity="0.7"/>
<ellipse cx="487.1" cy="434.0" rx="2.2" ry="2.8" fill="#e8dcf0" opacity="0.7"/>
<ellipse cx="445.3" cy="404.4" rx="4.2" ry="3.5" fill="#d0b0d8" opacity="0.7"/>
<ellipse cx="330.4" cy="437.2" rx="4.4" ry="4.5" fill="#bc88c0" opacity="0.7"/>
<ellipse cx="399.7" cy="375.1" rx="3.0" ry="3.0" fill="#8e68aa" opacity="0.7"/>
<ellipse cx="357.4" cy="418.4" rx="3.3" ry="3.4" fill="#b07cb8" opacity="0.7"/>
<ellipse cx="445.0" cy="405.3" rx="4.5" ry="3.9" fill="#e8dcf0" opacity="0.7"/>
<ellipse cx="470.1" cy="452.9" rx="2.4" ry="2.4" fill="#bc88c0" opacity="0.7"/>
<ellipse cx="466.7" cy="453.2" rx="2.1" ry="2.7" fill="#8e68aa" opacity="0.7"/>
<ellipse cx="327.9" cy="432.7" rx="4.1" ry="4.5" fill="#e8dcf0" opacity="0.7"/>
<ellipse cx="356.1" cy="394.7" rx="3.2" ry="3.9" fill="#7e5aa0" opacity="0.7"/>
<ellipse cx="400.7" cy="384.1" rx="2.8" ry="2.8" fill="#e8dcf0" opacity="0.7"/>
<ellipse cx="370.6" cy="344.7" rx="3.0" ry="1.9" fill="#e8dcf0" opacity="0.7"/>
<ellipse cx="470.6" cy="441.2" rx="4.4" ry="4.6" fill="#d0b0d8" opacity="0.7"/>
<ellipse cx="412.0" cy="384.3" rx="2.7" ry="2.6" fill="#e8dcf0" opacity="0.7"/>
<ellipse cx="391.0" cy="442.5" rx="2.0" ry="2.5" fill="#d0b0d8" opacity="0.7"/>
<ellipse cx="380.5" cy="462.4" rx="4.2" ry="5.6" fill="#b07cb8" opacity="0.7"/>
<ellipse cx="456.9" cy="420.0" rx="3.3" ry="3.1" fill="#bc88c0" opacity="0.7"/>
<ellipse cx="360.1" cy="374.0" rx="3.3" ry="3.2" fill="#e8dcf0" opacity="0.7"/>
<ellipse cx="374.7" cy="477.5" rx="4.2" ry="5.7" fill="#e8dcf0" opacity="0.7"/>
<ellipse cx="452.6" cy="401.2" rx="2.2" ry="2.3" fill="#bc88c0" opacity="0.7"/>
<ellipse cx="468.3" cy="473.1" rx="3.8" ry="2.8" fill="#b07cb8" opacity="0.7"/>
<ellipse cx="336.1" cy="426.6" rx="3.5" ry="4.0" fill="#8e68aa" opacity="0.7"/>
<ellipse cx="490.3" cy="391.3" rx="4.3" ry="2.7" fill="#7e5aa0" opacity="0.7"/>
<ellipse cx="457.3" cy="436.3" rx="3.3" ry="4.4" fill="#bc88c0" opacity="0.7"/>
<ellipse cx="505.8" cy="478.5" rx="3.7" ry="4.0" fill="#d0b0d8" opacity="0.7"/>
<ellipse cx="359.9" cy="353.0" rx="3.2" ry="2.8" fill="#8e68aa" opacity="0.7"/>
<ellipse cx="408.7" cy="368.8" rx="2.6" ry="3.4" fill="#e8dcf0" opacity="0.7"/>
<ellipse cx="370.1" cy="462.7" rx="3.6" ry="2.9" fill="#e8dcf0" opacity="0.7"/>
<ellipse cx="355.7" cy="379.5" rx="3.9" ry="4.5" fill="#bc88c0" opacity="0.7"/>
<ellipse cx="359.1" cy="416.5" rx="3.1" ry="2.2" fill="#8e68aa" opacity="0.7"/>
<ellipse cx="418.1" cy="431.8" rx="4.1" ry="5.4" fill="#e8dcf0" opacity="0.7"/>
<ellipse cx="421.6" cy="473.8" rx="3.6" ry="4.0" fill="#bc88c0" opacity="0.7"/>
<ellipse cx="440.3" cy="431.7" rx="3.5" ry="3.2" fill="#7e5aa0" opacity="0.7"/>
<ellipse cx="385.6" cy="371.8" rx="3.0" ry="1.9" fill="#bc88c0" opacity="0.7"/>
<ellipse cx="463.5" cy="376.7" rx="3.2" ry="2.9" fill="#d0b0d8" opacity="0.7"/>
<ellipse cx="478.2" cy="373.3" rx="2.4" ry="3.1" fill="#d0b0d8" opacity="0.7"/>
<ellipse cx="492.7" cy="361.3" rx="2.6" ry="3.3" fill="#8e68aa" opacity="0.7"/>
<ellipse cx="491.3" cy="392.6" rx="2.5" ry="1.9" fill="#d0b0d8" opacity="0.7"/>
<ellipse cx="420.1" cy="345.9" rx="1.9" ry="1.2" fill="#7e5aa0" opacity="0.7"/>
<ellipse cx="360.4" cy="465.5" rx="3.9" ry="3.2" fill="#bc88c0" opacity="0.7"/>
<ellipse cx="358.2" cy="374.2" rx="2.8" ry="2.8" fill="#8e68aa" opacity="0.7"/>
<ellipse cx="378.7" cy="492.5" rx="3.8" ry="5.2" fill="#7e5aa0" opacity="0.7"/>
<ellipse cx="504.4" cy="440.1" rx="3.5" ry="3.5" fill="#bc88c0" opacity="0.7"/>
<ellipse cx="461.3" cy="472.6" rx="4.2" ry="4.9" fill="#7e5aa0" opacity="0.7"/>
</g>
<rect x="316.5" y="344.5" width="202" height="151.5" filter="url(#grainL2)"/>
<rect x="316.5" y="344.5" width="202" height="151.5" filter="url(#grainD2)"/>
<g filter="url(#bl07)">
<line x1="471.3" y1="363.8" x2="466.5" y2="364.7" stroke="#ece0f2" stroke-width="1.1" stroke-linecap="round" opacity="0.7"/>
<ellipse cx="509.4" cy="431.0" rx="1.2" ry="0.9" fill="#f3eaf5" opacity="0.82"/>
<ellipse cx="489.5" cy="495.8" rx="3.1" ry="3.2" fill="#f3eaf5" opacity="0.94"/>
<line x1="421.8" y1="415.0" x2="416.1" y2="416.1" stroke="#ece0f2" stroke-width="1.4" stroke-linecap="round" opacity="0.7"/>
<ellipse cx="451.1" cy="466.3" rx="1.5" ry="1.5" fill="#f3eaf5" opacity="0.88"/>
<ellipse cx="358.2" cy="453.7" rx="2.9" ry="2.3" fill="#f3eaf5" opacity="0.95"/>
<ellipse cx="321.8" cy="348.4" rx="1.1" ry="0.8" fill="#f3eaf5" opacity="0.76"/>
<ellipse cx="439.1" cy="432.1" rx="3.5" ry="4.0" fill="#f3eaf5" opacity="0.86"/>
<ellipse cx="446.7" cy="430.1" rx="2.3" ry="1.4" fill="#f3eaf5" opacity="0.93"/>
<ellipse cx="370.6" cy="348.4" rx="3.4" ry="2.3" fill="#f3eaf5" opacity="0.80"/>
<ellipse cx="458.8" cy="474.1" rx="1.8" ry="1.5" fill="#f3eaf5" opacity="0.86"/>
<line x1="396.3" y1="351.5" x2="398.0" y2="355.8" stroke="#ece0f2" stroke-width="1.0" stroke-linecap="round" opacity="0.7"/>
<ellipse cx="387.1" cy="443.0" rx="3.5" ry="3.8" fill="#f3eaf5" opacity="0.93"/>
<ellipse cx="460.0" cy="460.2" rx="1.3" ry="0.9" fill="#f3eaf5" opacity="0.86"/>
<ellipse cx="485.6" cy="466.5" rx="1.9" ry="1.8" fill="#f3eaf5" opacity="0.91"/>
<line x1="513.0" y1="491.0" x2="517.0" y2="491.1" stroke="#ece0f2" stroke-width="1.3" stroke-linecap="round" opacity="0.7"/>
<line x1="470.4" y1="442.8" x2="466.7" y2="444.8" stroke="#ece0f2" stroke-width="1.0" stroke-linecap="round" opacity="0.7"/>
<ellipse cx="335.2" cy="411.2" rx="2.6" ry="3.0" fill="#f3eaf5" opacity="0.87"/>
<line x1="361.9" y1="483.8" x2="364.1" y2="486.1" stroke="#ece0f2" stroke-width="1.7" stroke-linecap="round" opacity="0.7"/>
<ellipse cx="445.8" cy="449.6" rx="3.1" ry="1.6" fill="#f3eaf5" opacity="0.77"/>
<ellipse cx="485.8" cy="413.5" rx="3.3" ry="2.4" fill="#f3eaf5" opacity="0.90"/>
<ellipse cx="505.4" cy="461.6" rx="2.4" ry="1.9" fill="#f3eaf5" opacity="0.83"/>
<line x1="423.4" y1="490.9" x2="427.8" y2="495.3" stroke="#ece0f2" stroke-width="1.1" stroke-linecap="round" opacity="0.7"/>
<ellipse cx="453.6" cy="352.2" rx="2.0" ry="2.2" fill="#f3eaf5" opacity="0.81"/>
<ellipse cx="492.9" cy="491.8" rx="3.5" ry="3.7" fill="#f3eaf5" opacity="0.83"/>
<line x1="332.8" y1="478.1" x2="333.0" y2="481.1" stroke="#ece0f2" stroke-width="1.5" stroke-linecap="round" opacity="0.7"/>
<ellipse cx="514.5" cy="393.7" rx="2.6" ry="2.1" fill="#f3eaf5" opacity="0.88"/>
<ellipse cx="407.1" cy="461.3" rx="3.1" ry="3.1" fill="#f3eaf5" opacity="0.78"/>
<ellipse cx="499.8" cy="398.7" rx="1.2" ry="0.7" fill="#f3eaf5" opacity="0.94"/>
<line x1="328.3" y1="455.7" x2="325.3" y2="460.3" stroke="#ece0f2" stroke-width="1.4" stroke-linecap="round" opacity="0.7"/>
<line x1="512.1" y1="456.0" x2="517.3" y2="456.5" stroke="#ece0f2" stroke-width="1.0" stroke-linecap="round" opacity="0.7"/>
<ellipse cx="507.8" cy="485.1" rx="2.7" ry="1.6" fill="#f3eaf5" opacity="0.91"/>
<ellipse cx="493.7" cy="422.2" rx="3.3" ry="3.8" fill="#f3eaf5" opacity="0.86"/>
<ellipse cx="371.9" cy="455.1" rx="1.5" ry="1.2" fill="#f3eaf5" opacity="0.85"/>
<line x1="439.4" y1="368.6" x2="441.8" y2="374.0" stroke="#ece0f2" stroke-width="1.4" stroke-linecap="round" opacity="0.7"/>
<line x1="373.4" y1="461.8" x2="369.7" y2="466.8" stroke="#ece0f2" stroke-width="1.3" stroke-linecap="round" opacity="0.7"/>
<line x1="430.3" y1="445.6" x2="426.0" y2="447.7" stroke="#ece0f2" stroke-width="1.0" stroke-linecap="round" opacity="0.7"/>
<line x1="475.5" y1="379.1" x2="473.6" y2="384.2" stroke="#ece0f2" stroke-width="1.6" stroke-linecap="round" opacity="0.7"/>
<ellipse cx="390.1" cy="448.5" rx="1.2" ry="0.8" fill="#f3eaf5" opacity="0.90"/>
<ellipse cx="317.0" cy="397.7" rx="2.2" ry="1.2" fill="#f3eaf5" opacity="0.84"/>
<ellipse cx="480.4" cy="390.7" rx="2.4" ry="2.0" fill="#f3eaf5" opacity="0.92"/>
<ellipse cx="330.8" cy="430.3" rx="3.4" ry="2.5" fill="#f3eaf5" opacity="0.92"/>
<ellipse cx="508.7" cy="491.8" rx="3.2" ry="3.1" fill="#f3eaf5" opacity="0.90"/>
<line x1="459.0" y1="464.6" x2="456.1" y2="468.5" stroke="#ece0f2" stroke-width="1.6" stroke-linecap="round" opacity="0.7"/>
<line x1="347.7" y1="385.3" x2="346.1" y2="388.1" stroke="#ece0f2" stroke-width="1.1" stroke-linecap="round" opacity="0.7"/>
<ellipse cx="478.5" cy="411.2" rx="2.5" ry="1.5" fill="#f3eaf5" opacity="0.77"/>
<line x1="349.2" y1="409.6" x2="351.6" y2="414.1" stroke="#ece0f2" stroke-width="1.5" stroke-linecap="round" opacity="0.7"/>
<ellipse cx="432.5" cy="488.4" rx="1.4" ry="1.3" fill="#f3eaf5" opacity="0.93"/>
<ellipse cx="357.2" cy="417.2" rx="1.5" ry="1.6" fill="#f3eaf5" opacity="0.91"/>
<line x1="346.9" y1="432.2" x2="352.2" y2="433.6" stroke="#ece0f2" stroke-width="1.5" stroke-linecap="round" opacity="0.7"/>
<ellipse cx="508.0" cy="432.1" rx="3.1" ry="1.9" fill="#f3eaf5" opacity="0.94"/>
<ellipse cx="517.8" cy="495.8" rx="1.1" ry="1.3" fill="#f3eaf5" opacity="0.79"/>
<ellipse cx="476.6" cy="392.4" rx="2.9" ry="3.0" fill="#f3eaf5" opacity="0.86"/>
<ellipse cx="347.3" cy="380.5" rx="3.5" ry="2.1" fill="#f3eaf5" opacity="0.83"/>
<line x1="510.9" y1="387.1" x2="505.4" y2="388.1" stroke="#ece0f2" stroke-width="1.4" stroke-linecap="round" opacity="0.7"/>
<ellipse cx="508.1" cy="445.7" rx="2.2" ry="1.9" fill="#f3eaf5" opacity="0.87"/>
<ellipse cx="380.5" cy="448.3" rx="2.1" ry="1.8" fill="#f3eaf5" opacity="0.88"/>
<ellipse cx="455.8" cy="452.2" rx="2.7" ry="1.4" fill="#f3eaf5" opacity="0.80"/>
<ellipse cx="461.9" cy="355.9" rx="3.3" ry="3.3" fill="#f3eaf5" opacity="0.76"/>
<line x1="491.0" y1="409.0" x2="489.7" y2="414.3" stroke="#ece0f2" stroke-width="1.5" stroke-linecap="round" opacity="0.7"/>
<ellipse cx="428.4" cy="459.2" rx="1.5" ry="0.7" fill="#f3eaf5" opacity="0.94"/>
<ellipse cx="448.2" cy="353.7" rx="1.3" ry="1.0" fill="#f3eaf5" opacity="0.95"/>
<line x1="446.3" y1="485.0" x2="447.8" y2="490.4" stroke="#ece0f2" stroke-width="1.7" stroke-linecap="round" opacity="0.7"/>
<line x1="333.6" y1="365.1" x2="338.7" y2="368.1" stroke="#ece0f2" stroke-width="1.0" stroke-linecap="round" opacity="0.7"/>
<ellipse cx="331.6" cy="453.1" rx="3.1" ry="3.1" fill="#f3eaf5" opacity="0.91"/>
<ellipse cx="424.4" cy="390.3" rx="2.8" ry="3.0" fill="#f3eaf5" opacity="0.89"/>
<ellipse cx="353.4" cy="411.1" rx="1.3" ry="1.0" fill="#f3eaf5" opacity="0.92"/>
<line x1="356.4" y1="379.1" x2="360.0" y2="382.6" stroke="#ece0f2" stroke-width="1.4" stroke-linecap="round" opacity="0.7"/>
<ellipse cx="444.0" cy="387.9" rx="1.5" ry="1.6" fill="#f3eaf5" opacity="0.89"/>
<ellipse cx="426.9" cy="411.6" rx="2.3" ry="1.4" fill="#f3eaf5" opacity="0.79"/>
<ellipse cx="462.6" cy="415.3" rx="2.9" ry="3.1" fill="#f3eaf5" opacity="0.81"/>
<ellipse cx="385.3" cy="366.0" rx="3.1" ry="2.9" fill="#f3eaf5" opacity="0.84"/>
<line x1="324.2" y1="470.8" x2="328.6" y2="473.7" stroke="#ece0f2" stroke-width="1.2" stroke-linecap="round" opacity="0.7"/>
<ellipse cx="329.3" cy="377.6" rx="1.9" ry="1.0" fill="#f3eaf5" opacity="0.86"/>
<ellipse cx="386.8" cy="427.8" rx="2.1" ry="1.4" fill="#f3eaf5" opacity="0.83"/>
<ellipse cx="451.6" cy="440.3" rx="2.8" ry="3.1" fill="#f3eaf5" opacity="0.78"/>
<ellipse cx="438.1" cy="406.3" rx="1.1" ry="1.2" fill="#f3eaf5" opacity="0.83"/>
<ellipse cx="383.9" cy="377.5" rx="1.0" ry="0.6" fill="#f3eaf5" opacity="0.90"/>
<line x1="492.5" y1="401.8" x2="496.0" y2="402.6" stroke="#ece0f2" stroke-width="1.4" stroke-linecap="round" opacity="0.7"/>
<line x1="516.8" y1="428.5" x2="520.9" y2="430.8" stroke="#ece0f2" stroke-width="1.6" stroke-linecap="round" opacity="0.7"/>
<line x1="442.9" y1="407.2" x2="444.5" y2="413.5" stroke="#ece0f2" stroke-width="1.6" stroke-linecap="round" opacity="0.7"/>
<ellipse cx="331.5" cy="486.9" rx="2.7" ry="2.4" fill="#f3eaf5" opacity="0.93"/>
<line x1="375.9" y1="421.8" x2="381.2" y2="422.4" stroke="#ece0f2" stroke-width="1.1" stroke-linecap="round" opacity="0.7"/>
<line x1="369.2" y1="439.2" x2="370.7" y2="443.1" stroke="#ece0f2" stroke-width="1.2" stroke-linecap="round" opacity="0.7"/>
<ellipse cx="321.4" cy="357.4" rx="1.9" ry="1.7" fill="#f3eaf5" opacity="0.94"/>
<ellipse cx="448.0" cy="406.0" rx="3.1" ry="3.7" fill="#f3eaf5" opacity="0.87"/>
<line x1="436.2" y1="383.9" x2="436.8" y2="387.1" stroke="#ece0f2" stroke-width="1.6" stroke-linecap="round" opacity="0.7"/>
<line x1="412.8" y1="484.5" x2="407.2" y2="486.9" stroke="#ece0f2" stroke-width="1.7" stroke-linecap="round" opacity="0.7"/>
<ellipse cx="350.3" cy="422.6" rx="3.5" ry="3.3" fill="#f3eaf5" opacity="0.89"/>
<line x1="395.8" y1="459.7" x2="400.2" y2="461.6" stroke="#ece0f2" stroke-width="1.5" stroke-linecap="round" opacity="0.7"/>
<line x1="484.9" y1="460.3" x2="489.1" y2="464.1" stroke="#ece0f2" stroke-width="1.8" stroke-linecap="round" opacity="0.7"/>
<line x1="433.2" y1="414.8" x2="435.2" y2="417.4" stroke="#ece0f2" stroke-width="1.7" stroke-linecap="round" opacity="0.7"/>
<ellipse cx="466.2" cy="353.1" rx="1.7" ry="1.8" fill="#f3eaf5" opacity="0.95"/>
<ellipse cx="463.9" cy="435.8" rx="3.2" ry="3.7" fill="#f3eaf5" opacity="0.86"/>
<ellipse cx="406.8" cy="393.3" rx="2.8" ry="2.0" fill="#f3eaf5" opacity="0.87"/>
<ellipse cx="376.4" cy="459.7" rx="1.6" ry="1.4" fill="#f3eaf5" opacity="0.75"/>
<ellipse cx="408.5" cy="362.9" rx="1.2" ry="1.0" fill="#f3eaf5" opacity="0.90"/>
<ellipse cx="411.1" cy="434.7" rx="2.4" ry="2.3" fill="#f3eaf5" opacity="0.83"/>
<ellipse cx="502.8" cy="445.3" rx="1.2" ry="0.9" fill="#f3eaf5" opacity="0.90"/>
<ellipse cx="325.8" cy="374.9" rx="1.3" ry="1.4" fill="#f3eaf5" opacity="0.92"/>
<ellipse cx="383.0" cy="469.9" rx="2.7" ry="2.2" fill="#f3eaf5" opacity="0.83"/>
<ellipse cx="399.2" cy="350.6" rx="2.2" ry="2.6" fill="#f3eaf5" opacity="0.90"/>
<ellipse cx="508.6" cy="423.9" rx="2.9" ry="2.7" fill="#f3eaf5" opacity="0.93"/>
<ellipse cx="505.4" cy="415.2" rx="3.2" ry="3.1" fill="#f3eaf5" opacity="0.92"/>
<ellipse cx="419.4" cy="463.5" rx="2.5" ry="1.6" fill="#f3eaf5" opacity="0.94"/>
<ellipse cx="450.0" cy="439.9" rx="3.5" ry="3.0" fill="#f3eaf5" opacity="0.84"/>
<line x1="492.8" y1="387.9" x2="497.1" y2="389.6" stroke="#ece0f2" stroke-width="1.3" stroke-linecap="round" opacity="0.7"/>
<ellipse cx="384.9" cy="390.7" rx="2.9" ry="2.4" fill="#f3eaf5" opacity="0.94"/>
<ellipse cx="508.1" cy="476.3" rx="2.4" ry="1.7" fill="#f3eaf5" opacity="0.91"/>
<ellipse cx="401.5" cy="477.5" rx="2.6" ry="1.5" fill="#f3eaf5" opacity="0.76"/>
<ellipse cx="398.2" cy="383.8" rx="3.1" ry="2.9" fill="#f3eaf5" opacity="0.83"/>
<ellipse cx="497.5" cy="462.4" rx="1.0" ry="1.0" fill="#f3eaf5" opacity="0.92"/>
<ellipse cx="321.9" cy="388.0" rx="1.7" ry="1.5" fill="#f3eaf5" opacity="0.85"/>
<ellipse cx="372.2" cy="346.3" rx="2.4" ry="1.8" fill="#f3eaf5" opacity="0.94"/>
<ellipse cx="508.2" cy="359.5" rx="2.7" ry="1.4" fill="#f3eaf5" opacity="0.81"/>
<line x1="379.9" y1="441.3" x2="383.2" y2="442.3" stroke="#ece0f2" stroke-width="1.4" stroke-linecap="round" opacity="0.7"/>
<line x1="337.4" y1="392.4" x2="333.4" y2="393.3" stroke="#ece0f2" stroke-width="1.8" stroke-linecap="round" opacity="0.7"/>
<line x1="319.4" y1="384.0" x2="318.3" y2="388.2" stroke="#ece0f2" stroke-width="1.7" stroke-linecap="round" opacity="0.7"/>
<ellipse cx="501.8" cy="416.2" rx="2.2" ry="1.8" fill="#f3eaf5" opacity="0.88"/>
<ellipse cx="377.3" cy="347.2" rx="2.4" ry="2.7" fill="#f3eaf5" opacity="0.81"/>
<ellipse cx="475.1" cy="345.9" rx="3.2" ry="3.8" fill="#f3eaf5" opacity="0.89"/>
<ellipse cx="400.0" cy="415.8" rx="1.6" ry="1.7" fill="#f3eaf5" opacity="0.88"/>
<ellipse cx="388.1" cy="377.9" rx="2.3" ry="2.2" fill="#f3eaf5" opacity="0.79"/>
<ellipse cx="392.1" cy="387.9" rx="3.4" ry="2.9" fill="#f3eaf5" opacity="0.91"/>
<ellipse cx="417.3" cy="359.0" rx="3.5" ry="3.0" fill="#f3eaf5" opacity="0.81"/>
<ellipse cx="496.7" cy="394.9" rx="1.3" ry="1.5" fill="#f3eaf5" opacity="0.82"/>
<line x1="396.4" y1="427.9" x2="391.2" y2="431.7" stroke="#ece0f2" stroke-width="1.2" stroke-linecap="round" opacity="0.7"/>
<ellipse cx="436.5" cy="454.0" rx="2.5" ry="2.7" fill="#f3eaf5" opacity="0.95"/>
<ellipse cx="325.1" cy="435.2" rx="3.2" ry="2.7" fill="#f3eaf5" opacity="0.78"/>
<ellipse cx="503.7" cy="352.7" rx="2.9" ry="2.0" fill="#f3eaf5" opacity="0.90"/>
<ellipse cx="461.7" cy="376.2" rx="1.4" ry="1.0" fill="#f3eaf5" opacity="0.90"/>
<ellipse cx="415.2" cy="355.6" rx="2.4" ry="2.4" fill="#f3eaf5" opacity="0.81"/>
<line x1="411.4" y1="347.6" x2="416.8" y2="351.6" stroke="#ece0f2" stroke-width="1.2" stroke-linecap="round" opacity="0.7"/>
<line x1="454.5" y1="427.9" x2="452.2" y2="432.8" stroke="#ece0f2" stroke-width="1.6" stroke-linecap="round" opacity="0.7"/>
<ellipse cx="377.2" cy="406.7" rx="1.8" ry="1.4" fill="#f3eaf5" opacity="0.79"/>
<ellipse cx="452.2" cy="480.2" rx="3.6" ry="3.0" fill="#f3eaf5" opacity="0.79"/>
<ellipse cx="512.6" cy="459.1" rx="3.0" ry="3.4" fill="#f3eaf5" opacity="0.87"/>
<ellipse cx="402.8" cy="387.9" rx="1.9" ry="1.2" fill="#f3eaf5" opacity="0.94"/>
<line x1="366.5" y1="381.1" x2="362.9" y2="384.1" stroke="#ece0f2" stroke-width="1.4" stroke-linecap="round" opacity="0.7"/>
<ellipse cx="436.9" cy="350.0" rx="1.7" ry="1.2" fill="#f3eaf5" opacity="0.86"/>
<ellipse cx="347.0" cy="478.5" rx="1.7" ry="1.1" fill="#f3eaf5" opacity="0.88"/>
<ellipse cx="424.9" cy="437.1" rx="3.1" ry="3.2" fill="#f3eaf5" opacity="0.84"/>
<ellipse cx="484.5" cy="426.8" rx="1.0" ry="1.2" fill="#f3eaf5" opacity="0.86"/>
<ellipse cx="428.7" cy="442.3" rx="1.4" ry="1.1" fill="#f3eaf5" opacity="0.80"/>
<line x1="408.8" y1="452.6" x2="406.9" y2="459.2" stroke="#ece0f2" stroke-width="1.5" stroke-linecap="round" opacity="0.7"/>
<ellipse cx="492.7" cy="457.7" rx="3.1" ry="1.6" fill="#f3eaf5" opacity="0.84"/>
<ellipse cx="352.7" cy="494.9" rx="2.1" ry="1.1" fill="#f3eaf5" opacity="0.79"/>
<line x1="516.4" y1="488.0" x2="519.3" y2="493.6" stroke="#ece0f2" stroke-width="1.7" stroke-linecap="round" opacity="0.7"/>
<line x1="468.7" y1="421.0" x2="469.2" y2="424.7" stroke="#ece0f2" stroke-width="1.1" stroke-linecap="round" opacity="0.7"/>
<ellipse cx="447.5" cy="355.4" rx="2.4" ry="2.2" fill="#f3eaf5" opacity="0.80"/>
<ellipse cx="433.4" cy="365.2" rx="2.1" ry="1.9" fill="#f3eaf5" opacity="0.85"/>
<ellipse cx="398.0" cy="469.4" rx="2.6" ry="2.8" fill="#f3eaf5" opacity="0.90"/>
<ellipse cx="472.7" cy="356.6" rx="3.5" ry="3.0" fill="#f3eaf5" opacity="0.88"/>
<ellipse cx="492.0" cy="408.8" rx="1.5" ry="1.4" fill="#f3eaf5" opacity="0.90"/>
<line x1="460.1" y1="415.3" x2="465.3" y2="415.8" stroke="#ece0f2" stroke-width="1.5" stroke-linecap="round" opacity="0.7"/>
<ellipse cx="325.0" cy="460.6" rx="3.1" ry="1.9" fill="#f3eaf5" opacity="0.87"/>
<line x1="450.7" y1="425.2" x2="447.6" y2="426.3" stroke="#ece0f2" stroke-width="1.7" stroke-linecap="round" opacity="0.7"/>
<ellipse cx="510.2" cy="478.4" rx="1.3" ry="1.5" fill="#f3eaf5" opacity="0.80"/>
<ellipse cx="419.8" cy="358.3" rx="2.7" ry="2.9" fill="#f3eaf5" opacity="0.92"/>
<ellipse cx="323.7" cy="427.7" rx="2.7" ry="2.1" fill="#f3eaf5" opacity="0.77"/>
<ellipse cx="385.4" cy="428.0" rx="3.2" ry="2.6" fill="#f3eaf5" opacity="0.90"/>
<line x1="349.2" y1="482.5" x2="349.2" y2="488.7" stroke="#ece0f2" stroke-width="1.3" stroke-linecap="round" opacity="0.7"/>
<line x1="344.9" y1="437.3" x2="338.2" y2="437.6" stroke="#ece0f2" stroke-width="1.6" stroke-linecap="round" opacity="0.7"/>
<ellipse cx="365.8" cy="429.9" rx="1.7" ry="1.3" fill="#f3eaf5" opacity="0.83"/>
<ellipse cx="392.2" cy="404.9" rx="3.1" ry="3.7" fill="#f3eaf5" opacity="0.77"/>
<line x1="477.6" y1="420.3" x2="476.8" y2="426.1" stroke="#ece0f2" stroke-width="1.7" stroke-linecap="round" opacity="0.7"/>
<ellipse cx="445.4" cy="451.9" rx="1.3" ry="1.3" fill="#f3eaf5" opacity="0.87"/>
<ellipse cx="396.0" cy="379.4" rx="3.5" ry="2.4" fill="#f3eaf5" opacity="0.76"/>
<ellipse cx="397.1" cy="446.5" rx="2.4" ry="2.0" fill="#f3eaf5" opacity="0.76"/>
<ellipse cx="403.9" cy="490.3" rx="2.1" ry="1.3" fill="#f3eaf5" opacity="0.82"/>
</g>
<g>
<ellipse cx="383.7" cy="424.3" rx="4.6" ry="3.5" fill="#72589f" opacity="0.35" transform="rotate(87 383.7 424.3)"/>
<ellipse cx="383.7" cy="424.3" rx="3.7" ry="2.6" fill="#72589f" opacity="0.97" transform="rotate(87 383.7 424.3)"/>
<circle cx="383.7" cy="424.3" r="1.7" fill="#8a74bc" opacity="0.5"/>
<ellipse cx="494.2" cy="381.0" rx="3.4" ry="2.7" fill="#55408e" opacity="0.35" transform="rotate(11 494.2 381.0)"/>
<ellipse cx="494.2" cy="381.0" rx="2.8" ry="2.1" fill="#55408e" opacity="0.97" transform="rotate(11 494.2 381.0)"/>
<ellipse cx="510.6" cy="434.9" rx="4.4" ry="3.0" fill="#674c9e" opacity="0.35" transform="rotate(41 510.6 434.9)"/>
<ellipse cx="510.6" cy="434.9" rx="3.7" ry="2.3" fill="#674c9e" opacity="0.97" transform="rotate(41 510.6 434.9)"/>
<circle cx="510.6" cy="434.9" r="1.7" fill="#8a74bc" opacity="0.5"/>
<ellipse cx="439.2" cy="341.8" rx="4.0" ry="3.2" fill="#5e4598" opacity="0.35" transform="rotate(17 439.2 341.8)"/>
<ellipse cx="439.2" cy="341.8" rx="3.0" ry="2.5" fill="#5e4598" opacity="0.97" transform="rotate(17 439.2 341.8)"/>
<circle cx="439.2" cy="341.8" r="1.5" fill="#8a74bc" opacity="0.5"/>
<ellipse cx="437.5" cy="368.0" rx="4.3" ry="3.6" fill="#5e4598" opacity="0.35" transform="rotate(105 437.5 368.0)"/>
<ellipse cx="437.5" cy="368.0" rx="3.5" ry="3.0" fill="#5e4598" opacity="0.97" transform="rotate(105 437.5 368.0)"/>
<ellipse cx="445.6" cy="357.8" rx="3.5" ry="3.3" fill="#5e4598" opacity="0.35" transform="rotate(129 445.6 357.8)"/>
<ellipse cx="445.6" cy="357.8" rx="2.6" ry="2.2" fill="#5e4598" opacity="0.97" transform="rotate(129 445.6 357.8)"/>
<ellipse cx="491.6" cy="400.5" rx="4.6" ry="3.5" fill="#5e4598" opacity="0.35" transform="rotate(143 491.6 400.5)"/>
<ellipse cx="491.6" cy="400.5" rx="3.8" ry="2.4" fill="#5e4598" opacity="0.97" transform="rotate(143 491.6 400.5)"/>
<ellipse cx="395.7" cy="393.0" rx="4.4" ry="3.5" fill="#72589f" opacity="0.35" transform="rotate(97 395.7 393.0)"/>
<ellipse cx="395.7" cy="393.0" rx="3.3" ry="2.7" fill="#72589f" opacity="0.97" transform="rotate(97 395.7 393.0)"/>
<circle cx="395.7" cy="393.0" r="1.6" fill="#8a74bc" opacity="0.5"/>
<ellipse cx="520.0" cy="430.4" rx="4.1" ry="3.1" fill="#72589f" opacity="0.35" transform="rotate(125 520.0 430.4)"/>
<ellipse cx="520.0" cy="430.4" rx="3.3" ry="2.3" fill="#72589f" opacity="0.97" transform="rotate(125 520.0 430.4)"/>
<circle cx="520.0" cy="430.4" r="1.5" fill="#8a74bc" opacity="0.5"/>
<ellipse cx="520.1" cy="367.7" rx="3.5" ry="3.2" fill="#6c52a2" opacity="0.35" transform="rotate(10 520.1 367.7)"/>
<ellipse cx="520.1" cy="367.7" rx="2.6" ry="2.6" fill="#6c52a2" opacity="0.97" transform="rotate(10 520.1 367.7)"/>
<circle cx="520.1" cy="367.7" r="1.3" fill="#8a74bc" opacity="0.5"/>
<ellipse cx="385.7" cy="407.5" rx="3.9" ry="3.0" fill="#6c52a2" opacity="0.35" transform="rotate(22 385.7 407.5)"/>
<ellipse cx="385.7" cy="407.5" rx="3.4" ry="2.6" fill="#6c52a2" opacity="0.97" transform="rotate(22 385.7 407.5)"/>
<circle cx="385.7" cy="407.5" r="1.6" fill="#8a74bc" opacity="0.5"/>
<ellipse cx="379.6" cy="485.4" rx="4.4" ry="3.3" fill="#5e4598" opacity="0.35" transform="rotate(128 379.6 485.4)"/>
<ellipse cx="379.6" cy="485.4" rx="3.5" ry="2.6" fill="#5e4598" opacity="0.97" transform="rotate(128 379.6 485.4)"/>
<ellipse cx="479.0" cy="375.9" rx="4.4" ry="4.7" fill="#674c9e" opacity="0.35" transform="rotate(43 479.0 375.9)"/>
<ellipse cx="479.0" cy="375.9" rx="3.9" ry="3.5" fill="#674c9e" opacity="0.97" transform="rotate(43 479.0 375.9)"/>
<circle cx="479.0" cy="375.9" r="1.8" fill="#8a74bc" opacity="0.5"/>
<ellipse cx="457.3" cy="469.0" rx="3.8" ry="3.5" fill="#72589f" opacity="0.35" transform="rotate(9 457.3 469.0)"/>
<ellipse cx="457.3" cy="469.0" rx="3.4" ry="3.0" fill="#72589f" opacity="0.97" transform="rotate(9 457.3 469.0)"/>
<circle cx="457.3" cy="469.0" r="1.6" fill="#8a74bc" opacity="0.5"/>
<ellipse cx="320.9" cy="451.4" rx="3.7" ry="3.5" fill="#72589f" opacity="0.35" transform="rotate(131 320.9 451.4)"/>
<ellipse cx="320.9" cy="451.4" rx="3.0" ry="3.0" fill="#72589f" opacity="0.97" transform="rotate(131 320.9 451.4)"/>
<circle cx="320.9" cy="451.4" r="1.4" fill="#8a74bc" opacity="0.5"/>
<ellipse cx="374.0" cy="362.1" rx="3.4" ry="2.7" fill="#6c52a2" opacity="0.35" transform="rotate(95 374.0 362.1)"/>
<ellipse cx="374.0" cy="362.1" rx="2.6" ry="1.8" fill="#6c52a2" opacity="0.97" transform="rotate(95 374.0 362.1)"/>
<ellipse cx="352.9" cy="400.9" rx="3.6" ry="3.1" fill="#5e4598" opacity="0.35" transform="rotate(25 352.9 400.9)"/>
<ellipse cx="352.9" cy="400.9" rx="2.6" ry="2.3" fill="#5e4598" opacity="0.97" transform="rotate(25 352.9 400.9)"/>
<ellipse cx="467.2" cy="369.4" rx="4.2" ry="3.9" fill="#6c52a2" opacity="0.35" transform="rotate(2 467.2 369.4)"/>
<ellipse cx="467.2" cy="369.4" rx="3.3" ry="2.9" fill="#6c52a2" opacity="0.97" transform="rotate(2 467.2 369.4)"/>
<circle cx="467.2" cy="369.4" r="1.6" fill="#8a74bc" opacity="0.5"/>
<ellipse cx="342.6" cy="480.8" rx="3.0" ry="2.4" fill="#72589f" opacity="0.35" transform="rotate(175 342.6 480.8)"/>
<ellipse cx="342.6" cy="480.8" rx="2.4" ry="1.7" fill="#72589f" opacity="0.97" transform="rotate(175 342.6 480.8)"/>
<circle cx="342.6" cy="480.8" r="1.1" fill="#8a74bc" opacity="0.5"/>
<ellipse cx="516.3" cy="405.6" rx="4.6" ry="3.3" fill="#5e4598" opacity="0.35" transform="rotate(119 516.3 405.6)"/>
<ellipse cx="516.3" cy="405.6" rx="3.7" ry="2.5" fill="#5e4598" opacity="0.97" transform="rotate(119 516.3 405.6)"/>
<ellipse cx="455.5" cy="486.3" rx="3.2" ry="3.1" fill="#674c9e" opacity="0.35" transform="rotate(83 455.5 486.3)"/>
<ellipse cx="455.5" cy="486.3" rx="2.6" ry="2.4" fill="#674c9e" opacity="0.97" transform="rotate(83 455.5 486.3)"/>
<ellipse cx="479.3" cy="391.4" rx="4.4" ry="3.8" fill="#5e4598" opacity="0.35" transform="rotate(164 479.3 391.4)"/>
<ellipse cx="479.3" cy="391.4" rx="3.5" ry="2.9" fill="#5e4598" opacity="0.97" transform="rotate(164 479.3 391.4)"/>
<circle cx="479.3" cy="391.4" r="1.7" fill="#8a74bc" opacity="0.5"/>
<ellipse cx="315.0" cy="426.2" rx="4.3" ry="3.6" fill="#674c9e" opacity="0.35" transform="rotate(102 315.0 426.2)"/>
<ellipse cx="315.0" cy="426.2" rx="3.8" ry="3.1" fill="#674c9e" opacity="0.97" transform="rotate(102 315.0 426.2)"/>
<circle cx="315.0" cy="426.2" r="1.8" fill="#8a74bc" opacity="0.5"/>
<ellipse cx="459.1" cy="424.6" rx="3.8" ry="3.3" fill="#5e4598" opacity="0.35" transform="rotate(21 459.1 424.6)"/>
<ellipse cx="459.1" cy="424.6" rx="2.8" ry="2.5" fill="#5e4598" opacity="0.97" transform="rotate(21 459.1 424.6)"/>
<ellipse cx="383.2" cy="353.9" rx="3.4" ry="3.2" fill="#674c9e" opacity="0.35" transform="rotate(113 383.2 353.9)"/>
<ellipse cx="383.2" cy="353.9" rx="2.9" ry="2.7" fill="#674c9e" opacity="0.97" transform="rotate(113 383.2 353.9)"/>
<ellipse cx="370.7" cy="443.6" rx="3.8" ry="2.9" fill="#5e4598" opacity="0.35" transform="rotate(66 370.7 443.6)"/>
<ellipse cx="370.7" cy="443.6" rx="3.3" ry="2.4" fill="#5e4598" opacity="0.97" transform="rotate(66 370.7 443.6)"/>
<circle cx="370.7" cy="443.6" r="1.5" fill="#8a74bc" opacity="0.5"/>
<ellipse cx="337.1" cy="491.4" rx="4.3" ry="3.5" fill="#55408e" opacity="0.35" transform="rotate(172 337.1 491.4)"/>
<ellipse cx="337.1" cy="491.4" rx="3.7" ry="2.6" fill="#55408e" opacity="0.97" transform="rotate(172 337.1 491.4)"/>
<ellipse cx="496.2" cy="466.0" rx="4.0" ry="2.8" fill="#5e4598" opacity="0.35" transform="rotate(30 496.2 466.0)"/>
<ellipse cx="496.2" cy="466.0" rx="2.9" ry="2.0" fill="#5e4598" opacity="0.97" transform="rotate(30 496.2 466.0)"/>
<circle cx="496.2" cy="466.0" r="1.5" fill="#8a74bc" opacity="0.5"/>
<ellipse cx="485.3" cy="460.8" rx="3.2" ry="2.6" fill="#674c9e" opacity="0.35" transform="rotate(178 485.3 460.8)"/>
<ellipse cx="485.3" cy="460.8" rx="2.5" ry="2.0" fill="#674c9e" opacity="0.97" transform="rotate(178 485.3 460.8)"/>
<ellipse cx="340.7" cy="414.6" rx="3.7" ry="3.2" fill="#674c9e" opacity="0.35" transform="rotate(34 340.7 414.6)"/>
<ellipse cx="340.7" cy="414.6" rx="2.9" ry="2.3" fill="#674c9e" opacity="0.97" transform="rotate(34 340.7 414.6)"/>
<circle cx="340.7" cy="414.6" r="1.3" fill="#8a74bc" opacity="0.5"/>
<ellipse cx="518.6" cy="478.8" rx="3.4" ry="2.8" fill="#5e4598" opacity="0.35" transform="rotate(30 518.6 478.8)"/>
<ellipse cx="518.6" cy="478.8" rx="2.6" ry="2.0" fill="#5e4598" opacity="0.97" transform="rotate(30 518.6 478.8)"/>
<circle cx="518.6" cy="478.8" r="1.2" fill="#8a74bc" opacity="0.5"/>
<ellipse cx="345.2" cy="436.4" rx="4.2" ry="3.8" fill="#6c52a2" opacity="0.35" transform="rotate(130 345.2 436.4)"/>
<ellipse cx="345.2" cy="436.4" rx="3.1" ry="2.9" fill="#6c52a2" opacity="0.97" transform="rotate(130 345.2 436.4)"/>
<circle cx="345.2" cy="436.4" r="1.5" fill="#8a74bc" opacity="0.5"/>
<ellipse cx="369.7" cy="399.8" rx="3.6" ry="3.1" fill="#674c9e" opacity="0.35" transform="rotate(82 369.7 399.8)"/>
<ellipse cx="369.7" cy="399.8" rx="2.7" ry="2.3" fill="#674c9e" opacity="0.97" transform="rotate(82 369.7 399.8)"/>
<ellipse cx="461.3" cy="447.1" rx="3.6" ry="2.6" fill="#72589f" opacity="0.35" transform="rotate(152 461.3 447.1)"/>
<ellipse cx="461.3" cy="447.1" rx="2.6" ry="2.0" fill="#72589f" opacity="0.97" transform="rotate(152 461.3 447.1)"/>
<ellipse cx="444.4" cy="495.8" rx="3.9" ry="3.8" fill="#5e4598" opacity="0.35" transform="rotate(43 444.4 495.8)"/>
<ellipse cx="444.4" cy="495.8" rx="3.2" ry="3.2" fill="#5e4598" opacity="0.97" transform="rotate(43 444.4 495.8)"/>
<circle cx="444.4" cy="495.8" r="1.6" fill="#8a74bc" opacity="0.5"/>
<ellipse cx="339.7" cy="449.7" rx="4.4" ry="4.0" fill="#72589f" opacity="0.35" transform="rotate(123 339.7 449.7)"/>
<ellipse cx="339.7" cy="449.7" rx="3.5" ry="3.3" fill="#72589f" opacity="0.97" transform="rotate(123 339.7 449.7)"/>
<circle cx="339.7" cy="449.7" r="1.7" fill="#8a74bc" opacity="0.5"/>
<ellipse cx="343.1" cy="383.8" rx="4.1" ry="4.2" fill="#72589f" opacity="0.35" transform="rotate(148 343.1 383.8)"/>
<ellipse cx="343.1" cy="383.8" rx="3.5" ry="3.4" fill="#72589f" opacity="0.97" transform="rotate(148 343.1 383.8)"/>
<circle cx="343.1" cy="383.8" r="1.7" fill="#8a74bc" opacity="0.5"/>
<ellipse cx="427.8" cy="474.0" rx="4.7" ry="4.2" fill="#6c52a2" opacity="0.35" transform="rotate(20 427.8 474.0)"/>
<ellipse cx="427.8" cy="474.0" rx="3.9" ry="3.8" fill="#6c52a2" opacity="0.97" transform="rotate(20 427.8 474.0)"/>
<circle cx="427.8" cy="474.0" r="1.8" fill="#8a74bc" opacity="0.5"/>
<ellipse cx="364.4" cy="391.3" rx="3.2" ry="2.6" fill="#6c52a2" opacity="0.35" transform="rotate(52 364.4 391.3)"/>
<ellipse cx="364.4" cy="391.3" rx="2.4" ry="2.1" fill="#6c52a2" opacity="0.97" transform="rotate(52 364.4 391.3)"/>
<ellipse cx="360.6" cy="485.9" rx="4.2" ry="3.0" fill="#6c52a2" opacity="0.35" transform="rotate(153 360.6 485.9)"/>
<ellipse cx="360.6" cy="485.9" rx="3.2" ry="2.5" fill="#6c52a2" opacity="0.97" transform="rotate(153 360.6 485.9)"/>
<circle cx="360.6" cy="485.9" r="1.6" fill="#8a74bc" opacity="0.5"/>
<ellipse cx="362.7" cy="354.9" rx="4.2" ry="4.1" fill="#6c52a2" opacity="0.35" transform="rotate(86 362.7 354.9)"/>
<ellipse cx="362.7" cy="354.9" rx="3.4" ry="3.4" fill="#6c52a2" opacity="0.97" transform="rotate(86 362.7 354.9)"/>
<ellipse cx="482.4" cy="484.2" rx="4.3" ry="4.3" fill="#5e4598" opacity="0.35" transform="rotate(128 482.4 484.2)"/>
<ellipse cx="482.4" cy="484.2" rx="3.6" ry="3.4" fill="#5e4598" opacity="0.97" transform="rotate(128 482.4 484.2)"/>
<circle cx="482.4" cy="484.2" r="1.7" fill="#8a74bc" opacity="0.5"/>
<ellipse cx="377.4" cy="376.7" rx="3.5" ry="3.0" fill="#55408e" opacity="0.35" transform="rotate(144 377.4 376.7)"/>
<ellipse cx="377.4" cy="376.7" rx="2.6" ry="2.1" fill="#55408e" opacity="0.97" transform="rotate(144 377.4 376.7)"/>
<ellipse cx="313.7" cy="376.7" rx="3.2" ry="2.4" fill="#72589f" opacity="0.35" transform="rotate(152 313.7 376.7)"/>
<ellipse cx="313.7" cy="376.7" rx="2.5" ry="1.8" fill="#72589f" opacity="0.97" transform="rotate(152 313.7 376.7)"/>
<circle cx="313.7" cy="376.7" r="1.2" fill="#8a74bc" opacity="0.5"/>
<ellipse cx="495.0" cy="413.4" rx="4.3" ry="4.1" fill="#6c52a2" opacity="0.35" transform="rotate(154 495.0 413.4)"/>
<ellipse cx="495.0" cy="413.4" rx="3.4" ry="3.0" fill="#6c52a2" opacity="0.97" transform="rotate(154 495.0 413.4)"/>
<circle cx="495.0" cy="413.4" r="1.6" fill="#8a74bc" opacity="0.5"/>
<ellipse cx="417.4" cy="368.1" rx="3.9" ry="2.7" fill="#674c9e" opacity="0.35" transform="rotate(115 417.4 368.1)"/>
<ellipse cx="417.4" cy="368.1" rx="3.0" ry="2.1" fill="#674c9e" opacity="0.97" transform="rotate(115 417.4 368.1)"/>
<ellipse cx="322.9" cy="382.7" rx="3.6" ry="3.0" fill="#72589f" opacity="0.35" transform="rotate(14 322.9 382.7)"/>
<ellipse cx="322.9" cy="382.7" rx="2.6" ry="2.2" fill="#72589f" opacity="0.97" transform="rotate(14 322.9 382.7)"/>
<ellipse cx="368.3" cy="411.0" rx="3.8" ry="3.4" fill="#55408e" opacity="0.35" transform="rotate(32 368.3 411.0)"/>
<ellipse cx="368.3" cy="411.0" rx="3.0" ry="2.5" fill="#55408e" opacity="0.97" transform="rotate(32 368.3 411.0)"/>
<ellipse cx="325.5" cy="472.8" rx="3.3" ry="2.6" fill="#72589f" opacity="0.35" transform="rotate(24 325.5 472.8)"/>
<ellipse cx="325.5" cy="472.8" rx="2.4" ry="1.7" fill="#72589f" opacity="0.97" transform="rotate(24 325.5 472.8)"/>
<circle cx="325.5" cy="472.8" r="1.2" fill="#8a74bc" opacity="0.5"/>
<ellipse cx="391.6" cy="481.4" rx="3.5" ry="3.5" fill="#674c9e" opacity="0.35" transform="rotate(64 391.6 481.4)"/>
<ellipse cx="391.6" cy="481.4" rx="2.8" ry="2.6" fill="#674c9e" opacity="0.97" transform="rotate(64 391.6 481.4)"/>
<ellipse cx="318.5" cy="410.5" rx="3.3" ry="3.7" fill="#674c9e" opacity="0.35" transform="rotate(39 318.5 410.5)"/>
<ellipse cx="318.5" cy="410.5" rx="2.7" ry="2.5" fill="#674c9e" opacity="0.97" transform="rotate(39 318.5 410.5)"/>
<ellipse cx="431.2" cy="452.3" rx="4.3" ry="4.0" fill="#72589f" opacity="0.35" transform="rotate(161 431.2 452.3)"/>
<ellipse cx="431.2" cy="452.3" rx="3.3" ry="3.1" fill="#72589f" opacity="0.97" transform="rotate(161 431.2 452.3)"/>
<circle cx="431.2" cy="452.3" r="1.5" fill="#8a74bc" opacity="0.5"/>
<ellipse cx="325.9" cy="484.9" rx="4.1" ry="3.8" fill="#5e4598" opacity="0.35" transform="rotate(36 325.9 484.9)"/>
<ellipse cx="325.9" cy="484.9" rx="3.2" ry="2.9" fill="#5e4598" opacity="0.97" transform="rotate(36 325.9 484.9)"/>
<circle cx="325.9" cy="484.9" r="1.6" fill="#8a74bc" opacity="0.5"/>
<ellipse cx="418.7" cy="489.3" rx="4.1" ry="3.2" fill="#674c9e" opacity="0.35" transform="rotate(112 418.7 489.3)"/>
<ellipse cx="418.7" cy="489.3" rx="3.3" ry="2.4" fill="#674c9e" opacity="0.97" transform="rotate(112 418.7 489.3)"/>
<circle cx="418.7" cy="489.3" r="1.6" fill="#8a74bc" opacity="0.5"/>
<ellipse cx="335.0" cy="390.5" rx="4.2" ry="3.6" fill="#6c52a2" opacity="0.35" transform="rotate(163 335.0 390.5)"/>
<ellipse cx="335.0" cy="390.5" rx="3.1" ry="3.3" fill="#6c52a2" opacity="0.97" transform="rotate(163 335.0 390.5)"/>
<ellipse cx="499.1" cy="451.8" rx="3.3" ry="2.3" fill="#72589f" opacity="0.35" transform="rotate(4 499.1 451.8)"/>
<ellipse cx="499.1" cy="451.8" rx="2.6" ry="1.7" fill="#72589f" opacity="0.97" transform="rotate(4 499.1 451.8)"/>
<ellipse cx="466.6" cy="432.8" rx="3.2" ry="2.8" fill="#674c9e" opacity="0.35" transform="rotate(159 466.6 432.8)"/>
<ellipse cx="466.6" cy="432.8" rx="2.5" ry="2.1" fill="#674c9e" opacity="0.97" transform="rotate(159 466.6 432.8)"/>
<ellipse cx="349.8" cy="494.3" rx="3.8" ry="3.1" fill="#72589f" opacity="0.35" transform="rotate(114 349.8 494.3)"/>
<ellipse cx="349.8" cy="494.3" rx="3.2" ry="2.4" fill="#72589f" opacity="0.97" transform="rotate(114 349.8 494.3)"/>
<ellipse cx="452.3" cy="341.9" rx="3.6" ry="3.5" fill="#55408e" opacity="0.35" transform="rotate(27 452.3 341.9)"/>
<ellipse cx="452.3" cy="341.9" rx="2.8" ry="2.7" fill="#55408e" opacity="0.97" transform="rotate(27 452.3 341.9)"/>
<ellipse cx="491.5" cy="430.1" rx="3.9" ry="3.5" fill="#72589f" opacity="0.35" transform="rotate(78 491.5 430.1)"/>
<ellipse cx="491.5" cy="430.1" rx="3.1" ry="2.9" fill="#72589f" opacity="0.97" transform="rotate(78 491.5 430.1)"/>
<ellipse cx="357.6" cy="422.6" rx="4.7" ry="3.5" fill="#674c9e" opacity="0.35" transform="rotate(170 357.6 422.6)"/>
<ellipse cx="357.6" cy="422.6" rx="3.5" ry="2.5" fill="#674c9e" opacity="0.97" transform="rotate(170 357.6 422.6)"/>
<circle cx="357.6" cy="422.6" r="1.7" fill="#8a74bc" opacity="0.5"/>
<ellipse cx="509.5" cy="471.2" rx="3.9" ry="3.0" fill="#6c52a2" opacity="0.35" transform="rotate(94 509.5 471.2)"/>
<ellipse cx="509.5" cy="471.2" rx="3.2" ry="2.4" fill="#6c52a2" opacity="0.97" transform="rotate(94 509.5 471.2)"/>
<ellipse cx="419.8" cy="388.5" rx="4.9" ry="4.0" fill="#674c9e" opacity="0.35" transform="rotate(71 419.8 388.5)"/>
<ellipse cx="419.8" cy="388.5" rx="3.6" ry="3.7" fill="#674c9e" opacity="0.97" transform="rotate(71 419.8 388.5)"/>
<ellipse cx="315.8" cy="491.5" rx="3.8" ry="2.9" fill="#72589f" opacity="0.35" transform="rotate(65 315.8 491.5)"/>
<ellipse cx="315.8" cy="491.5" rx="3.1" ry="2.1" fill="#72589f" opacity="0.97" transform="rotate(65 315.8 491.5)"/>
<circle cx="315.8" cy="491.5" r="1.5" fill="#8a74bc" opacity="0.5"/>
<ellipse cx="373.7" cy="468.2" rx="3.3" ry="2.9" fill="#5e4598" opacity="0.35" transform="rotate(102 373.7 468.2)"/>
<ellipse cx="373.7" cy="468.2" rx="2.7" ry="2.2" fill="#5e4598" opacity="0.97" transform="rotate(102 373.7 468.2)"/>
<ellipse cx="339.9" cy="425.6" rx="3.6" ry="2.8" fill="#5e4598" opacity="0.35" transform="rotate(47 339.9 425.6)"/>
<ellipse cx="339.9" cy="425.6" rx="3.0" ry="2.2" fill="#5e4598" opacity="0.97" transform="rotate(47 339.9 425.6)"/>
<circle cx="339.9" cy="425.6" r="1.4" fill="#8a74bc" opacity="0.5"/>
<ellipse cx="315.5" cy="461.1" rx="3.7" ry="3.4" fill="#6c52a2" opacity="0.35" transform="rotate(43 315.5 461.1)"/>
<ellipse cx="315.5" cy="461.1" rx="3.2" ry="2.3" fill="#6c52a2" opacity="0.97" transform="rotate(43 315.5 461.1)"/>
<ellipse cx="398.2" cy="493.2" rx="4.7" ry="3.5" fill="#674c9e" opacity="0.35" transform="rotate(164 398.2 493.2)"/>
<ellipse cx="398.2" cy="493.2" rx="3.9" ry="3.0" fill="#674c9e" opacity="0.97" transform="rotate(164 398.2 493.2)"/>
<circle cx="398.2" cy="493.2" r="1.8" fill="#8a74bc" opacity="0.5"/>
<ellipse cx="485.5" cy="471.5" rx="4.0" ry="3.7" fill="#55408e" opacity="0.35" transform="rotate(51 485.5 471.5)"/>
<ellipse cx="485.5" cy="471.5" rx="3.3" ry="2.9" fill="#55408e" opacity="0.97" transform="rotate(51 485.5 471.5)"/>
<circle cx="485.5" cy="471.5" r="1.6" fill="#8a74bc" opacity="0.5"/>
<ellipse cx="446.7" cy="473.4" rx="4.0" ry="3.9" fill="#55408e" opacity="0.35" transform="rotate(28 446.7 473.4)"/>
<ellipse cx="446.7" cy="473.4" rx="3.4" ry="3.4" fill="#55408e" opacity="0.97" transform="rotate(28 446.7 473.4)"/>
<circle cx="446.7" cy="473.4" r="1.7" fill="#8a74bc" opacity="0.5"/>
<ellipse cx="364.9" cy="459.7" rx="3.1" ry="2.4" fill="#72589f" opacity="0.35" transform="rotate(69 364.9 459.7)"/>
<ellipse cx="364.9" cy="459.7" rx="2.4" ry="1.9" fill="#72589f" opacity="0.97" transform="rotate(69 364.9 459.7)"/>
<ellipse cx="334.5" cy="467.2" rx="3.3" ry="3.0" fill="#674c9e" opacity="0.35" transform="rotate(30 334.5 467.2)"/>
<ellipse cx="334.5" cy="467.2" rx="2.5" ry="2.4" fill="#674c9e" opacity="0.97" transform="rotate(30 334.5 467.2)"/>
<circle cx="334.5" cy="467.2" r="1.2" fill="#8a74bc" opacity="0.5"/>
<ellipse cx="497.0" cy="368.8" rx="4.3" ry="4.0" fill="#72589f" opacity="0.35" transform="rotate(91 497.0 368.8)"/>
<ellipse cx="497.0" cy="368.8" rx="3.6" ry="3.3" fill="#72589f" opacity="0.97" transform="rotate(91 497.0 368.8)"/>
<circle cx="497.0" cy="368.8" r="1.7" fill="#8a74bc" opacity="0.5"/>
<ellipse cx="519.5" cy="385.7" rx="4.3" ry="4.4" fill="#72589f" opacity="0.35" transform="rotate(2 519.5 385.7)"/>
<ellipse cx="519.5" cy="385.7" rx="3.6" ry="3.3" fill="#72589f" opacity="0.97" transform="rotate(2 519.5 385.7)"/>
<circle cx="519.5" cy="385.7" r="1.6" fill="#8a74bc" opacity="0.5"/>
<ellipse cx="390.4" cy="346.8" rx="4.1" ry="3.3" fill="#55408e" opacity="0.35" transform="rotate(86 390.4 346.8)"/>
<ellipse cx="390.4" cy="346.8" rx="3.3" ry="2.5" fill="#55408e" opacity="0.97" transform="rotate(86 390.4 346.8)"/>
<ellipse cx="488.0" cy="346.2" rx="3.3" ry="2.9" fill="#6c52a2" opacity="0.35" transform="rotate(44 488.0 346.2)"/>
<ellipse cx="488.0" cy="346.2" rx="2.5" ry="2.3" fill="#6c52a2" opacity="0.97" transform="rotate(44 488.0 346.2)"/>
<circle cx="488.0" cy="346.2" r="1.2" fill="#8a74bc" opacity="0.5"/>
<ellipse cx="517.3" cy="346.4" rx="4.0" ry="3.1" fill="#72589f" opacity="0.35" transform="rotate(70 517.3 346.4)"/>
<ellipse cx="517.3" cy="346.4" rx="3.1" ry="2.2" fill="#72589f" opacity="0.97" transform="rotate(70 517.3 346.4)"/>
<circle cx="517.3" cy="346.4" r="1.5" fill="#8a74bc" opacity="0.5"/>
<ellipse cx="361.6" cy="378.9" rx="4.0" ry="3.1" fill="#55408e" opacity="0.35" transform="rotate(72 361.6 378.9)"/>
<ellipse cx="361.6" cy="378.9" rx="3.2" ry="2.3" fill="#55408e" opacity="0.97" transform="rotate(72 361.6 378.9)"/>
<circle cx="361.6" cy="378.9" r="1.6" fill="#8a74bc" opacity="0.5"/>
<ellipse cx="521.3" cy="442.4" rx="3.7" ry="3.1" fill="#6c52a2" opacity="0.35" transform="rotate(71 521.3 442.4)"/>
<ellipse cx="521.3" cy="442.4" rx="3.2" ry="2.3" fill="#6c52a2" opacity="0.97" transform="rotate(71 521.3 442.4)"/>
<ellipse cx="481.7" cy="354.4" rx="3.9" ry="3.7" fill="#72589f" opacity="0.35" transform="rotate(16 481.7 354.4)"/>
<ellipse cx="481.7" cy="354.4" rx="3.1" ry="2.7" fill="#72589f" opacity="0.97" transform="rotate(16 481.7 354.4)"/>
<circle cx="481.7" cy="354.4" r="1.5" fill="#8a74bc" opacity="0.5"/>
<ellipse cx="470.7" cy="349.3" rx="3.9" ry="4.1" fill="#5e4598" opacity="0.35" transform="rotate(143 470.7 349.3)"/>
<ellipse cx="470.7" cy="349.3" rx="3.0" ry="3.1" fill="#5e4598" opacity="0.97" transform="rotate(143 470.7 349.3)"/>
<ellipse cx="325.6" cy="434.7" rx="3.3" ry="2.3" fill="#6c52a2" opacity="0.35" transform="rotate(4 325.6 434.7)"/>
<ellipse cx="325.6" cy="434.7" rx="2.5" ry="1.6" fill="#6c52a2" opacity="0.97" transform="rotate(4 325.6 434.7)"/>
<circle cx="325.6" cy="434.7" r="1.2" fill="#8a74bc" opacity="0.5"/>
<ellipse cx="399.3" cy="355.8" rx="3.7" ry="3.4" fill="#6c52a2" opacity="0.35" transform="rotate(152 399.3 355.8)"/>
<ellipse cx="399.3" cy="355.8" rx="3.2" ry="2.3" fill="#6c52a2" opacity="0.97" transform="rotate(152 399.3 355.8)"/>
<ellipse cx="430.1" cy="494.1" rx="4.6" ry="4.3" fill="#5e4598" opacity="0.35" transform="rotate(56 430.1 494.1)"/>
<ellipse cx="430.1" cy="494.1" rx="3.5" ry="3.3" fill="#5e4598" opacity="0.97" transform="rotate(56 430.1 494.1)"/>
<circle cx="430.1" cy="494.1" r="1.7" fill="#8a74bc" opacity="0.5"/>
<ellipse cx="377.5" cy="497.1" rx="3.9" ry="3.2" fill="#674c9e" opacity="0.35" transform="rotate(21 377.5 497.1)"/>
<ellipse cx="377.5" cy="497.1" rx="3.3" ry="2.6" fill="#674c9e" opacity="0.97" transform="rotate(21 377.5 497.1)"/>
<circle cx="377.5" cy="497.1" r="1.6" fill="#8a74bc" opacity="0.5"/>
<ellipse cx="315.9" cy="355.7" rx="3.3" ry="2.8" fill="#72589f" opacity="0.35" transform="rotate(142 315.9 355.7)"/>
<ellipse cx="315.9" cy="355.7" rx="2.6" ry="2.0" fill="#72589f" opacity="0.97" transform="rotate(142 315.9 355.7)"/>
<ellipse cx="506.5" cy="496.9" rx="3.9" ry="3.2" fill="#72589f" opacity="0.35" transform="rotate(178 506.5 496.9)"/>
<ellipse cx="506.5" cy="496.9" rx="3.3" ry="2.3" fill="#72589f" opacity="0.97" transform="rotate(178 506.5 496.9)"/>
<circle cx="506.5" cy="496.9" r="1.6" fill="#8a74bc" opacity="0.5"/>
<ellipse cx="429.2" cy="342.6" rx="4.2" ry="3.5" fill="#72589f" opacity="0.35" transform="rotate(21 429.2 342.6)"/>
<ellipse cx="429.2" cy="342.6" rx="3.4" ry="2.5" fill="#72589f" opacity="0.97" transform="rotate(21 429.2 342.6)"/>
<circle cx="429.2" cy="342.6" r="1.6" fill="#8a74bc" opacity="0.5"/>
<ellipse cx="498.8" cy="353.9" rx="4.4" ry="3.7" fill="#5e4598" opacity="0.35" transform="rotate(58 498.8 353.9)"/>
<ellipse cx="498.8" cy="353.9" rx="3.6" ry="3.1" fill="#5e4598" opacity="0.97" transform="rotate(58 498.8 353.9)"/>
<circle cx="498.8" cy="353.9" r="1.8" fill="#8a74bc" opacity="0.5"/>
<ellipse cx="467.8" cy="492.4" rx="4.1" ry="3.6" fill="#55408e" opacity="0.35" transform="rotate(118 467.8 492.4)"/>
<ellipse cx="467.8" cy="492.4" rx="3.4" ry="2.9" fill="#55408e" opacity="0.97" transform="rotate(118 467.8 492.4)"/>
<circle cx="467.8" cy="492.4" r="1.5" fill="#8a74bc" opacity="0.5"/>
<ellipse cx="407.6" cy="484.7" rx="4.4" ry="3.8" fill="#55408e" opacity="0.35" transform="rotate(55 407.6 484.7)"/>
<ellipse cx="407.6" cy="484.7" rx="3.6" ry="2.8" fill="#55408e" opacity="0.97" transform="rotate(55 407.6 484.7)"/>
<ellipse cx="332.8" cy="344.2" rx="3.6" ry="3.5" fill="#72589f" opacity="0.35" transform="rotate(95 332.8 344.2)"/>
<ellipse cx="332.8" cy="344.2" rx="3.0" ry="2.5" fill="#72589f" opacity="0.97" transform="rotate(95 332.8 344.2)"/>
<circle cx="332.8" cy="344.2" r="1.4" fill="#8a74bc" opacity="0.5"/>
<ellipse cx="468.5" cy="393.9" rx="3.4" ry="2.8" fill="#5e4598" opacity="0.35" transform="rotate(94 468.5 393.9)"/>
<ellipse cx="468.5" cy="393.9" rx="3.0" ry="2.2" fill="#5e4598" opacity="0.97" transform="rotate(94 468.5 393.9)"/>
<circle cx="468.5" cy="393.9" r="1.4" fill="#8a74bc" opacity="0.5"/>
<ellipse cx="424.7" cy="359.1" rx="3.7" ry="2.9" fill="#674c9e" opacity="0.35" transform="rotate(160 424.7 359.1)"/>
<ellipse cx="424.7" cy="359.1" rx="2.8" ry="2.0" fill="#674c9e" opacity="0.97" transform="rotate(160 424.7 359.1)"/>
<ellipse cx="505.5" cy="421.0" rx="4.5" ry="3.1" fill="#55408e" opacity="0.35" transform="rotate(114 505.5 421.0)"/>
<ellipse cx="505.5" cy="421.0" rx="3.6" ry="2.3" fill="#55408e" opacity="0.97" transform="rotate(114 505.5 421.0)"/>
<circle cx="505.5" cy="421.0" r="1.6" fill="#8a74bc" opacity="0.5"/>
<ellipse cx="473.1" cy="474.7" rx="4.5" ry="3.4" fill="#55408e" opacity="0.35" transform="rotate(167 473.1 474.7)"/>
<ellipse cx="473.1" cy="474.7" rx="3.6" ry="2.8" fill="#55408e" opacity="0.97" transform="rotate(167 473.1 474.7)"/>
<ellipse cx="508.6" cy="371.7" rx="2.9" ry="2.9" fill="#6c52a2" opacity="0.35" transform="rotate(173 508.6 371.7)"/>
<ellipse cx="508.6" cy="371.7" rx="2.3" ry="2.2" fill="#6c52a2" opacity="0.97" transform="rotate(173 508.6 371.7)"/>
<circle cx="508.6" cy="371.7" r="1.2" fill="#8a74bc" opacity="0.5"/>
<ellipse cx="412.5" cy="347.4" rx="3.8" ry="3.2" fill="#5e4598" opacity="0.35" transform="rotate(104 412.5 347.4)"/>
<ellipse cx="412.5" cy="347.4" rx="3.3" ry="2.4" fill="#5e4598" opacity="0.97" transform="rotate(104 412.5 347.4)"/>
<circle cx="412.5" cy="347.4" r="1.5" fill="#8a74bc" opacity="0.5"/>
<ellipse cx="441.8" cy="390.0" rx="4.0" ry="3.2" fill="#55408e" opacity="0.35" transform="rotate(150 441.8 390.0)"/>
<ellipse cx="441.8" cy="390.0" rx="3.4" ry="2.6" fill="#55408e" opacity="0.97" transform="rotate(150 441.8 390.0)"/>
<circle cx="441.8" cy="390.0" r="1.7" fill="#8a74bc" opacity="0.5"/>
<ellipse cx="369.7" cy="343.4" rx="4.1" ry="3.5" fill="#55408e" opacity="0.35" transform="rotate(34 369.7 343.4)"/>
<ellipse cx="369.7" cy="343.4" rx="3.0" ry="2.6" fill="#55408e" opacity="0.97" transform="rotate(34 369.7 343.4)"/>
<circle cx="369.7" cy="343.4" r="1.5" fill="#8a74bc" opacity="0.5"/>
<ellipse cx="485.1" cy="415.0" rx="3.8" ry="2.5" fill="#72589f" opacity="0.35" transform="rotate(76 485.1 415.0)"/>
<ellipse cx="485.1" cy="415.0" rx="2.9" ry="2.0" fill="#72589f" opacity="0.97" transform="rotate(76 485.1 415.0)"/>
<ellipse cx="320.6" cy="343.6" rx="4.4" ry="4.2" fill="#72589f" opacity="0.35" transform="rotate(82 320.6 343.6)"/>
<ellipse cx="320.6" cy="343.6" rx="3.3" ry="3.3" fill="#72589f" opacity="0.97" transform="rotate(82 320.6 343.6)"/>
<circle cx="320.6" cy="343.6" r="1.6" fill="#8a74bc" opacity="0.5"/>
<ellipse cx="521.3" cy="395.9" rx="4.5" ry="3.7" fill="#6c52a2" opacity="0.35" transform="rotate(177 521.3 395.9)"/>
<ellipse cx="521.3" cy="395.9" rx="3.6" ry="3.3" fill="#6c52a2" opacity="0.97" transform="rotate(177 521.3 395.9)"/>
<circle cx="521.3" cy="395.9" r="1.7" fill="#8a74bc" opacity="0.5"/>
<ellipse cx="360.3" cy="497.7" rx="3.0" ry="2.5" fill="#5e4598" opacity="0.35" transform="rotate(60 360.3 497.7)"/>
<ellipse cx="360.3" cy="497.7" rx="2.6" ry="1.8" fill="#5e4598" opacity="0.97" transform="rotate(60 360.3 497.7)"/>
<circle cx="360.3" cy="497.7" r="1.2" fill="#8a74bc" opacity="0.5"/>
<ellipse cx="339.6" cy="358.8" rx="4.3" ry="3.6" fill="#674c9e" opacity="0.35" transform="rotate(80 339.6 358.8)"/>
<ellipse cx="339.6" cy="358.8" rx="3.9" ry="2.7" fill="#674c9e" opacity="0.97" transform="rotate(80 339.6 358.8)"/>
<ellipse cx="386.3" cy="363.6" rx="3.4" ry="2.9" fill="#674c9e" opacity="0.35" transform="rotate(82 386.3 363.6)"/>
<ellipse cx="386.3" cy="363.6" rx="2.7" ry="2.3" fill="#674c9e" opacity="0.97" transform="rotate(82 386.3 363.6)"/>
<ellipse cx="352.2" cy="371.2" rx="3.5" ry="2.6" fill="#55408e" opacity="0.35" transform="rotate(164 352.2 371.2)"/>
<ellipse cx="352.2" cy="371.2" rx="2.8" ry="2.1" fill="#55408e" opacity="0.97" transform="rotate(164 352.2 371.2)"/>
<ellipse cx="401.2" cy="343.2" rx="3.6" ry="2.5" fill="#72589f" opacity="0.35" transform="rotate(166 401.2 343.2)"/>
<ellipse cx="401.2" cy="343.2" rx="2.5" ry="1.8" fill="#72589f" opacity="0.97" transform="rotate(166 401.2 343.2)"/>
<circle cx="401.2" cy="343.2" r="1.2" fill="#8a74bc" opacity="0.5"/>
<ellipse cx="478.9" cy="406.8" rx="3.0" ry="3.2" fill="#72589f" opacity="0.35" transform="rotate(153 478.9 406.8)"/>
<ellipse cx="478.9" cy="406.8" rx="2.6" ry="2.5" fill="#72589f" opacity="0.97" transform="rotate(153 478.9 406.8)"/>
<circle cx="478.9" cy="406.8" r="1.2" fill="#8a74bc" opacity="0.5"/>
<ellipse cx="443.4" cy="483.3" rx="3.8" ry="3.1" fill="#55408e" opacity="0.35" transform="rotate(49 443.4 483.3)"/>
<ellipse cx="443.4" cy="483.3" rx="2.8" ry="2.4" fill="#55408e" opacity="0.97" transform="rotate(49 443.4 483.3)"/>
<ellipse cx="455.2" cy="371.4" rx="3.4" ry="3.3" fill="#5e4598" opacity="0.35" transform="rotate(9 455.2 371.4)"/>
<ellipse cx="455.2" cy="371.4" rx="2.7" ry="2.8" fill="#5e4598" opacity="0.97" transform="rotate(9 455.2 371.4)"/>
<circle cx="455.2" cy="371.4" r="1.3" fill="#8a74bc" opacity="0.5"/>
<ellipse cx="353.3" cy="389.1" rx="3.7" ry="2.8" fill="#72589f" opacity="0.35" transform="rotate(10 353.3 389.1)"/>
<ellipse cx="353.3" cy="389.1" rx="2.8" ry="2.1" fill="#72589f" opacity="0.97" transform="rotate(10 353.3 389.1)"/>
<ellipse cx="387.3" cy="386.1" rx="4.4" ry="4.6" fill="#5e4598" opacity="0.35" transform="rotate(170 387.3 386.1)"/>
<ellipse cx="387.3" cy="386.1" rx="3.8" ry="3.3" fill="#5e4598" opacity="0.97" transform="rotate(170 387.3 386.1)"/>
<circle cx="387.3" cy="386.1" r="1.7" fill="#8a74bc" opacity="0.5"/>
<ellipse cx="475.4" cy="463.5" rx="4.4" ry="4.0" fill="#72589f" opacity="0.35" transform="rotate(143 475.4 463.5)"/>
<ellipse cx="475.4" cy="463.5" rx="3.3" ry="3.0" fill="#72589f" opacity="0.97" transform="rotate(143 475.4 463.5)"/>
<ellipse cx="514.7" cy="416.3" rx="3.6" ry="2.9" fill="#5e4598" opacity="0.35" transform="rotate(78 514.7 416.3)"/>
<ellipse cx="514.7" cy="416.3" rx="2.8" ry="2.1" fill="#5e4598" opacity="0.97" transform="rotate(78 514.7 416.3)"/>
<ellipse cx="354.0" cy="342.2" rx="3.6" ry="2.6" fill="#55408e" opacity="0.35" transform="rotate(178 354.0 342.2)"/>
<ellipse cx="354.0" cy="342.2" rx="2.9" ry="2.0" fill="#55408e" opacity="0.97" transform="rotate(178 354.0 342.2)"/>
<ellipse cx="520.3" cy="453.6" rx="3.9" ry="3.1" fill="#55408e" opacity="0.35" transform="rotate(80 520.3 453.6)"/>
<ellipse cx="520.3" cy="453.6" rx="3.1" ry="2.3" fill="#55408e" opacity="0.97" transform="rotate(80 520.3 453.6)"/>
<ellipse cx="475.5" cy="427.4" rx="3.7" ry="3.0" fill="#72589f" opacity="0.35" transform="rotate(10 475.5 427.4)"/>
<ellipse cx="475.5" cy="427.4" rx="2.9" ry="2.3" fill="#72589f" opacity="0.97" transform="rotate(10 475.5 427.4)"/>
<circle cx="475.5" cy="427.4" r="1.3" fill="#8a74bc" opacity="0.5"/>
<ellipse cx="480.6" cy="498.1" rx="4.9" ry="3.3" fill="#6c52a2" opacity="0.35" transform="rotate(35 480.6 498.1)"/>
<ellipse cx="480.6" cy="498.1" rx="3.8" ry="2.7" fill="#6c52a2" opacity="0.97" transform="rotate(35 480.6 498.1)"/>
<ellipse cx="358.1" cy="410.3" rx="3.5" ry="3.1" fill="#6c52a2" opacity="0.35" transform="rotate(83 358.1 410.3)"/>
<ellipse cx="358.1" cy="410.3" rx="2.9" ry="2.6" fill="#6c52a2" opacity="0.97" transform="rotate(83 358.1 410.3)"/>
<ellipse cx="341.9" cy="404.6" rx="3.9" ry="3.7" fill="#6c52a2" opacity="0.35" transform="rotate(34 341.9 404.6)"/>
<ellipse cx="341.9" cy="404.6" rx="3.0" ry="2.8" fill="#6c52a2" opacity="0.97" transform="rotate(34 341.9 404.6)"/>
<ellipse cx="489.6" cy="360.6" rx="3.3" ry="2.8" fill="#674c9e" opacity="0.35" transform="rotate(61 489.6 360.6)"/>
<ellipse cx="489.6" cy="360.6" rx="2.7" ry="1.9" fill="#674c9e" opacity="0.97" transform="rotate(61 489.6 360.6)"/>
<circle cx="489.6" cy="360.6" r="1.2" fill="#8a74bc" opacity="0.5"/>
<ellipse cx="418.9" cy="479.0" rx="4.5" ry="3.8" fill="#55408e" opacity="0.35" transform="rotate(103 418.9 479.0)"/>
<ellipse cx="418.9" cy="479.0" rx="3.5" ry="3.0" fill="#55408e" opacity="0.97" transform="rotate(103 418.9 479.0)"/>
<circle cx="418.9" cy="479.0" r="1.7" fill="#8a74bc" opacity="0.5"/>
<ellipse cx="354.1" cy="443.9" rx="4.4" ry="3.3" fill="#72589f" opacity="0.35" transform="rotate(47 354.1 443.9)"/>
<ellipse cx="354.1" cy="443.9" rx="3.6" ry="2.4" fill="#72589f" opacity="0.97" transform="rotate(47 354.1 443.9)"/>
<circle cx="354.1" cy="443.9" r="1.8" fill="#8a74bc" opacity="0.5"/>
<ellipse cx="478.1" cy="364.8" rx="3.0" ry="2.4" fill="#6c52a2" opacity="0.35" transform="rotate(161 478.1 364.8)"/>
<ellipse cx="478.1" cy="364.8" rx="2.3" ry="1.5" fill="#6c52a2" opacity="0.97" transform="rotate(161 478.1 364.8)"/>
<circle cx="478.1" cy="364.8" r="1.1" fill="#8a74bc" opacity="0.5"/>
<ellipse cx="387.6" cy="375.4" rx="4.0" ry="4.3" fill="#5e4598" opacity="0.35" transform="rotate(15 387.6 375.4)"/>
<ellipse cx="387.6" cy="375.4" rx="3.5" ry="3.5" fill="#5e4598" opacity="0.97" transform="rotate(15 387.6 375.4)"/>
<ellipse cx="325.5" cy="462.8" rx="4.4" ry="4.3" fill="#674c9e" opacity="0.35" transform="rotate(34 325.5 462.8)"/>
<ellipse cx="325.5" cy="462.8" rx="3.8" ry="3.7" fill="#674c9e" opacity="0.97" transform="rotate(34 325.5 462.8)"/>
<ellipse cx="378.5" cy="415.1" rx="3.1" ry="2.4" fill="#6c52a2" opacity="0.35" transform="rotate(94 378.5 415.1)"/>
<ellipse cx="378.5" cy="415.1" rx="2.7" ry="1.7" fill="#6c52a2" opacity="0.97" transform="rotate(94 378.5 415.1)"/>
<ellipse cx="463.5" cy="341.9" rx="4.3" ry="3.5" fill="#5e4598" opacity="0.35" transform="rotate(149 463.5 341.9)"/>
<ellipse cx="463.5" cy="341.9" rx="3.1" ry="3.0" fill="#5e4598" opacity="0.97" transform="rotate(149 463.5 341.9)"/>
<ellipse cx="326.8" cy="421.8" rx="3.5" ry="3.1" fill="#72589f" opacity="0.35" transform="rotate(166 326.8 421.8)"/>
<ellipse cx="326.8" cy="421.8" rx="2.5" ry="2.5" fill="#72589f" opacity="0.97" transform="rotate(166 326.8 421.8)"/>
<circle cx="326.8" cy="421.8" r="1.2" fill="#8a74bc" opacity="0.5"/>
<ellipse cx="325.4" cy="495.5" rx="3.3" ry="3.3" fill="#72589f" opacity="0.35" transform="rotate(141 325.4 495.5)"/>
<ellipse cx="325.4" cy="495.5" rx="2.7" ry="2.3" fill="#72589f" opacity="0.97" transform="rotate(141 325.4 495.5)"/>
<circle cx="325.4" cy="495.5" r="1.2" fill="#8a74bc" opacity="0.5"/>
<ellipse cx="508.8" cy="449.2" rx="4.5" ry="4.3" fill="#5e4598" opacity="0.35" transform="rotate(101 508.8 449.2)"/>
<ellipse cx="508.8" cy="449.2" rx="3.7" ry="3.5" fill="#5e4598" opacity="0.97" transform="rotate(101 508.8 449.2)"/>
<circle cx="508.8" cy="449.2" r="1.7" fill="#8a74bc" opacity="0.5"/>
<ellipse cx="351.5" cy="360.4" rx="4.1" ry="4.0" fill="#72589f" opacity="0.35" transform="rotate(147 351.5 360.4)"/>
<ellipse cx="351.5" cy="360.4" rx="3.1" ry="3.1" fill="#72589f" opacity="0.97" transform="rotate(147 351.5 360.4)"/>
<ellipse cx="316.0" cy="478.6" rx="4.6" ry="4.3" fill="#5e4598" opacity="0.35" transform="rotate(75 316.0 478.6)"/>
<ellipse cx="316.0" cy="478.6" rx="3.6" ry="3.2" fill="#5e4598" opacity="0.97" transform="rotate(75 316.0 478.6)"/>
<circle cx="316.0" cy="478.6" r="1.8" fill="#8a74bc" opacity="0.5"/>
<ellipse cx="315.7" cy="366.3" rx="4.7" ry="3.7" fill="#6c52a2" opacity="0.35" transform="rotate(130 315.7 366.3)"/>
<ellipse cx="315.7" cy="366.3" rx="3.7" ry="2.8" fill="#6c52a2" opacity="0.97" transform="rotate(130 315.7 366.3)"/>
<ellipse cx="362.5" cy="368.5" rx="3.7" ry="3.0" fill="#55408e" opacity="0.35" transform="rotate(12 362.5 368.5)"/>
<ellipse cx="362.5" cy="368.5" rx="2.9" ry="2.5" fill="#55408e" opacity="0.97" transform="rotate(12 362.5 368.5)"/>
<circle cx="362.5" cy="368.5" r="1.4" fill="#8a74bc" opacity="0.5"/>
<ellipse cx="341.3" cy="459.8" rx="4.4" ry="4.2" fill="#674c9e" opacity="0.35" transform="rotate(87 341.3 459.8)"/>
<ellipse cx="341.3" cy="459.8" rx="3.4" ry="3.1" fill="#674c9e" opacity="0.97" transform="rotate(87 341.3 459.8)"/>
<ellipse cx="506.9" cy="409.7" rx="4.4" ry="4.2" fill="#674c9e" opacity="0.35" transform="rotate(57 506.9 409.7)"/>
<ellipse cx="506.9" cy="409.7" rx="3.5" ry="3.1" fill="#674c9e" opacity="0.97" transform="rotate(57 506.9 409.7)"/>
<circle cx="506.9" cy="409.7" r="1.6" fill="#8a74bc" opacity="0.5"/>
<ellipse cx="314.0" cy="387.6" rx="3.9" ry="3.5" fill="#72589f" opacity="0.35" transform="rotate(4 314.0 387.6)"/>
<ellipse cx="314.0" cy="387.6" rx="2.8" ry="2.8" fill="#72589f" opacity="0.97" transform="rotate(4 314.0 387.6)"/>
<circle cx="314.0" cy="387.6" r="1.4" fill="#8a74bc" opacity="0.5"/>
<ellipse cx="388.6" cy="496.0" rx="3.4" ry="2.5" fill="#6c52a2" opacity="0.35" transform="rotate(85 388.6 496.0)"/>
<ellipse cx="388.6" cy="496.0" rx="3.0" ry="2.0" fill="#6c52a2" opacity="0.97" transform="rotate(85 388.6 496.0)"/>
<ellipse cx="380.1" cy="398.1" rx="4.7" ry="3.9" fill="#72589f" opacity="0.35" transform="rotate(35 380.1 398.1)"/>
<ellipse cx="380.1" cy="398.1" rx="3.5" ry="3.0" fill="#72589f" opacity="0.97" transform="rotate(35 380.1 398.1)"/>
<ellipse cx="395.8" cy="469.6" rx="4.2" ry="3.6" fill="#674c9e" opacity="0.35" transform="rotate(54 395.8 469.6)"/>
<ellipse cx="395.8" cy="469.6" rx="3.1" ry="2.8" fill="#674c9e" opacity="0.97" transform="rotate(54 395.8 469.6)"/>
<ellipse cx="463.7" cy="478.1" rx="4.1" ry="3.1" fill="#6c52a2" opacity="0.35" transform="rotate(18 463.7 478.1)"/>
<ellipse cx="463.7" cy="478.1" rx="3.7" ry="2.6" fill="#6c52a2" opacity="0.97" transform="rotate(18 463.7 478.1)"/>
<circle cx="463.7" cy="478.1" r="1.7" fill="#8a74bc" opacity="0.5"/>
<ellipse cx="456.8" cy="497.7" rx="3.9" ry="4.2" fill="#674c9e" opacity="0.35" transform="rotate(35 456.8 497.7)"/>
<ellipse cx="456.8" cy="497.7" rx="3.4" ry="3.1" fill="#674c9e" opacity="0.97" transform="rotate(35 456.8 497.7)"/>
<ellipse cx="479.0" cy="341.8" rx="3.5" ry="3.3" fill="#674c9e" opacity="0.35" transform="rotate(172 479.0 341.8)"/>
<ellipse cx="479.0" cy="341.8" rx="2.9" ry="2.7" fill="#674c9e" opacity="0.97" transform="rotate(172 479.0 341.8)"/>
<circle cx="479.0" cy="341.8" r="1.4" fill="#8a74bc" opacity="0.5"/>
<ellipse cx="333.4" cy="378.6" rx="3.2" ry="3.2" fill="#6c52a2" opacity="0.35" transform="rotate(152 333.4 378.6)"/>
<ellipse cx="333.4" cy="378.6" rx="2.6" ry="2.5" fill="#6c52a2" opacity="0.97" transform="rotate(152 333.4 378.6)"/>
<circle cx="333.4" cy="378.6" r="1.2" fill="#8a74bc" opacity="0.5"/>
<ellipse cx="510.5" cy="391.1" rx="3.4" ry="3.3" fill="#72589f" opacity="0.35" transform="rotate(71 510.5 391.1)"/>
<ellipse cx="510.5" cy="391.1" rx="2.6" ry="2.6" fill="#72589f" opacity="0.97" transform="rotate(71 510.5 391.1)"/>
<ellipse cx="430.7" cy="483.9" rx="3.9" ry="3.9" fill="#6c52a2" opacity="0.35" transform="rotate(23 430.7 483.9)"/>
<ellipse cx="430.7" cy="483.9" rx="3.1" ry="2.8" fill="#6c52a2" opacity="0.97" transform="rotate(23 430.7 483.9)"/>
<ellipse cx="354.3" cy="432.2" rx="4.5" ry="3.8" fill="#674c9e" opacity="0.35" transform="rotate(74 354.3 432.2)"/>
<ellipse cx="354.3" cy="432.2" rx="3.4" ry="3.1" fill="#674c9e" opacity="0.97" transform="rotate(74 354.3 432.2)"/>
<circle cx="354.3" cy="432.2" r="1.7" fill="#8a74bc" opacity="0.5"/>
<ellipse cx="368.8" cy="492.0" rx="4.2" ry="3.7" fill="#55408e" opacity="0.35" transform="rotate(73 368.8 492.0)"/>
<ellipse cx="368.8" cy="492.0" rx="3.7" ry="2.9" fill="#55408e" opacity="0.97" transform="rotate(73 368.8 492.0)"/>
<circle cx="368.8" cy="492.0" r="1.8" fill="#8a74bc" opacity="0.5"/>
<ellipse cx="489.6" cy="390.3" rx="4.6" ry="3.4" fill="#6c52a2" opacity="0.35" transform="rotate(15 489.6 390.3)"/>
<ellipse cx="489.6" cy="390.3" rx="3.8" ry="2.7" fill="#6c52a2" opacity="0.97" transform="rotate(15 489.6 390.3)"/>
<ellipse cx="510.6" cy="485.7" rx="3.5" ry="2.8" fill="#5e4598" opacity="0.35" transform="rotate(76 510.6 485.7)"/>
<ellipse cx="510.6" cy="485.7" rx="2.7" ry="2.0" fill="#5e4598" opacity="0.97" transform="rotate(76 510.6 485.7)"/>
<circle cx="510.6" cy="485.7" r="1.3" fill="#8a74bc" opacity="0.5"/>
<ellipse cx="520.7" cy="357.7" rx="3.9" ry="3.1" fill="#55408e" opacity="0.35" transform="rotate(113 520.7 357.7)"/>
<ellipse cx="520.7" cy="357.7" rx="3.4" ry="2.5" fill="#55408e" opacity="0.97" transform="rotate(113 520.7 357.7)"/>
<circle cx="520.7" cy="357.7" r="1.7" fill="#8a74bc" opacity="0.5"/>
<ellipse cx="475.3" cy="438.4" rx="3.6" ry="3.6" fill="#55408e" opacity="0.35" transform="rotate(48 475.3 438.4)"/>
<ellipse cx="475.3" cy="438.4" rx="3.2" ry="2.9" fill="#55408e" opacity="0.97" transform="rotate(48 475.3 438.4)"/>
<circle cx="475.3" cy="438.4" r="1.5" fill="#8a74bc" opacity="0.5"/>
<ellipse cx="488.7" cy="451.2" rx="4.1" ry="3.8" fill="#55408e" opacity="0.35" transform="rotate(146 488.7 451.2)"/>
<ellipse cx="488.7" cy="451.2" rx="3.2" ry="3.2" fill="#55408e" opacity="0.97" transform="rotate(146 488.7 451.2)"/>
</g>
<g filter="url(#bl07)">
<ellipse cx="407.0" cy="375.0" rx="1.8" ry="1.9" fill="#34266a" opacity="0.88"/>
<ellipse cx="428.2" cy="434.8" rx="2.0" ry="2.0" fill="#4e3c8a" opacity="0.88"/>
<ellipse cx="399.3" cy="453.5" rx="2.4" ry="2.6" fill="#34266a" opacity="0.88"/>
<ellipse cx="384.8" cy="387.6" rx="2.5" ry="2.1" fill="#34266a" opacity="0.88"/>
<ellipse cx="408.4" cy="450.6" rx="1.7" ry="1.9" fill="#463484" opacity="0.88"/>
<ellipse cx="438.7" cy="408.8" rx="1.5" ry="2.0" fill="#38296e" opacity="0.88"/>
<ellipse cx="418.1" cy="433.4" rx="2.1" ry="1.6" fill="#4e3c8a" opacity="0.88"/>
<ellipse cx="424.2" cy="423.8" rx="1.6" ry="1.5" fill="#3e2e78" opacity="0.88"/>
<ellipse cx="400.5" cy="434.5" rx="1.7" ry="1.7" fill="#34266a" opacity="0.88"/>
<ellipse cx="422.5" cy="404.5" rx="1.6" ry="1.5" fill="#463484" opacity="0.88"/>
<ellipse cx="434.1" cy="437.1" rx="2.0" ry="2.1" fill="#38296e" opacity="0.88"/>
<ellipse cx="358.1" cy="463.9" rx="2.3" ry="2.8" fill="#463484" opacity="0.88"/>
<ellipse cx="453.2" cy="473.3" rx="1.9" ry="2.2" fill="#38296e" opacity="0.88"/>
<ellipse cx="417.9" cy="366.3" rx="1.5" ry="1.6" fill="#34266a" opacity="0.88"/>
<ellipse cx="402.2" cy="425.1" rx="1.6" ry="1.8" fill="#38296e" opacity="0.88"/>
<ellipse cx="466.7" cy="404.4" rx="1.5" ry="1.4" fill="#38296e" opacity="0.88"/>
<ellipse cx="425.6" cy="428.5" rx="2.0" ry="1.7" fill="#4e3c8a" opacity="0.88"/>
<ellipse cx="413.9" cy="411.1" rx="2.1" ry="1.7" fill="#34266a" opacity="0.88"/>
<ellipse cx="410.5" cy="402.3" rx="1.5" ry="2.0" fill="#38296e" opacity="0.88"/>
<ellipse cx="449.9" cy="427.9" rx="2.8" ry="2.1" fill="#3e2e78" opacity="0.88"/>
<ellipse cx="392.8" cy="466.0" rx="1.7" ry="2.5" fill="#4e3c8a" opacity="0.88"/>
<ellipse cx="436.4" cy="394.9" rx="2.4" ry="2.5" fill="#3e2e78" opacity="0.88"/>
<ellipse cx="456.8" cy="396.0" rx="2.0" ry="2.3" fill="#4e3c8a" opacity="0.88"/>
<ellipse cx="417.2" cy="400.7" rx="1.8" ry="1.5" fill="#38296e" opacity="0.88"/>
<ellipse cx="384.1" cy="419.6" rx="2.8" ry="2.6" fill="#4e3c8a" opacity="0.88"/>
<ellipse cx="421.5" cy="415.8" rx="2.1" ry="2.3" fill="#4e3c8a" opacity="0.88"/>
<ellipse cx="389.3" cy="454.1" rx="2.2" ry="2.0" fill="#4e3c8a" opacity="0.88"/>
<ellipse cx="403.0" cy="450.3" rx="2.0" ry="1.8" fill="#38296e" opacity="0.88"/>
<ellipse cx="383.9" cy="444.7" rx="1.5" ry="1.8" fill="#34266a" opacity="0.88"/>
<ellipse cx="463.0" cy="435.2" rx="2.5" ry="2.0" fill="#463484" opacity="0.88"/>
<ellipse cx="438.1" cy="433.0" rx="2.4" ry="2.4" fill="#463484" opacity="0.88"/>
<ellipse cx="476.9" cy="426.0" rx="1.9" ry="1.6" fill="#38296e" opacity="0.88"/>
<ellipse cx="429.1" cy="391.3" rx="1.9" ry="2.4" fill="#4e3c8a" opacity="0.88"/>
<ellipse cx="411.4" cy="464.5" rx="2.2" ry="1.7" fill="#34266a" opacity="0.88"/>
<ellipse cx="420.6" cy="392.3" rx="2.8" ry="2.2" fill="#4e3c8a" opacity="0.88"/>
<ellipse cx="401.3" cy="412.5" rx="2.9" ry="2.6" fill="#34266a" opacity="0.88"/>
<ellipse cx="383.5" cy="454.6" rx="1.6" ry="1.8" fill="#34266a" opacity="0.88"/>
<ellipse cx="397.7" cy="395.8" rx="1.8" ry="1.8" fill="#34266a" opacity="0.88"/>
<ellipse cx="473.7" cy="403.7" rx="1.7" ry="2.0" fill="#4e3c8a" opacity="0.88"/>
<ellipse cx="452.5" cy="436.8" rx="1.7" ry="2.1" fill="#4e3c8a" opacity="0.88"/>
<ellipse cx="428.4" cy="424.6" rx="2.0" ry="2.1" fill="#38296e" opacity="0.88"/>
<ellipse cx="396.8" cy="408.5" rx="2.6" ry="1.9" fill="#463484" opacity="0.88"/>
<ellipse cx="414.0" cy="447.0" rx="2.1" ry="2.0" fill="#34266a" opacity="0.88"/>
<ellipse cx="450.6" cy="398.7" rx="1.9" ry="2.1" fill="#3e2e78" opacity="0.88"/>
<ellipse cx="367.3" cy="456.3" rx="1.6" ry="2.0" fill="#3e2e78" opacity="0.88"/>
<ellipse cx="407.9" cy="429.8" rx="2.3" ry="2.5" fill="#3e2e78" opacity="0.88"/>
<ellipse cx="428.1" cy="460.7" rx="1.5" ry="1.6" fill="#34266a" opacity="0.88"/>
<ellipse cx="416.8" cy="424.8" rx="2.5" ry="2.1" fill="#34266a" opacity="0.88"/>
<ellipse cx="424.9" cy="450.5" rx="2.1" ry="2.2" fill="#38296e" opacity="0.88"/>
<ellipse cx="365.8" cy="464.3" rx="2.2" ry="1.6" fill="#38296e" opacity="0.88"/>
<ellipse cx="400.5" cy="446.4" rx="2.4" ry="2.1" fill="#463484" opacity="0.88"/>
<ellipse cx="442.3" cy="462.7" rx="2.0" ry="2.2" fill="#38296e" opacity="0.88"/>
<ellipse cx="401.8" cy="417.8" rx="1.7" ry="1.5" fill="#34266a" opacity="0.88"/>
<ellipse cx="367.6" cy="440.8" rx="2.0" ry="2.5" fill="#3e2e78" opacity="0.88"/>
<ellipse cx="471.8" cy="393.8" rx="1.7" ry="2.1" fill="#463484" opacity="0.88"/>
<ellipse cx="413.8" cy="396.1" rx="2.4" ry="2.5" fill="#4e3c8a" opacity="0.88"/>
<ellipse cx="398.0" cy="439.8" rx="2.0" ry="2.3" fill="#4e3c8a" opacity="0.88"/>
<ellipse cx="447.3" cy="467.9" rx="2.2" ry="2.4" fill="#3e2e78" opacity="0.88"/>
<ellipse cx="410.7" cy="407.1" rx="2.2" ry="2.3" fill="#38296e" opacity="0.88"/>
<ellipse cx="432.9" cy="404.0" rx="1.9" ry="2.1" fill="#4e3c8a" opacity="0.88"/>
<ellipse cx="450.6" cy="410.2" rx="2.1" ry="1.8" fill="#38296e" opacity="0.88"/>
<ellipse cx="462.4" cy="397.5" rx="1.6" ry="1.7" fill="#3e2e78" opacity="0.88"/>
<ellipse cx="365.9" cy="479.5" rx="2.8" ry="2.5" fill="#4e3c8a" opacity="0.88"/>
<ellipse cx="439.4" cy="449.1" rx="2.7" ry="2.2" fill="#4e3c8a" opacity="0.88"/>
<ellipse cx="392.1" cy="420.7" rx="2.4" ry="1.8" fill="#34266a" opacity="0.88"/>
<ellipse cx="383.3" cy="466.0" rx="2.2" ry="2.6" fill="#38296e" opacity="0.88"/>
<ellipse cx="433.6" cy="428.9" rx="1.6" ry="1.5" fill="#4e3c8a" opacity="0.88"/>
<ellipse cx="433.1" cy="416.8" rx="2.4" ry="2.1" fill="#3e2e78" opacity="0.88"/>
<ellipse cx="428.2" cy="439.0" rx="1.6" ry="1.6" fill="#463484" opacity="0.88"/>
<ellipse cx="448.0" cy="391.5" rx="2.3" ry="2.1" fill="#38296e" opacity="0.88"/>
<ellipse cx="431.7" cy="412.0" rx="2.1" ry="1.9" fill="#38296e" opacity="0.88"/>
<ellipse cx="447.4" cy="417.1" rx="1.7" ry="2.0" fill="#38296e" opacity="0.88"/>
<ellipse cx="453.6" cy="421.8" rx="1.7" ry="1.6" fill="#38296e" opacity="0.88"/>
<ellipse cx="397.1" cy="429.4" rx="2.4" ry="2.3" fill="#38296e" opacity="0.88"/>
<ellipse cx="392.1" cy="443.4" rx="1.9" ry="1.7" fill="#38296e" opacity="0.88"/>
<ellipse cx="395.8" cy="416.7" rx="2.6" ry="1.9" fill="#3e2e78" opacity="0.88"/>
<ellipse cx="437.2" cy="466.5" rx="1.6" ry="2.2" fill="#3e2e78" opacity="0.88"/>
<ellipse cx="407.8" cy="446.4" rx="2.0" ry="2.1" fill="#463484" opacity="0.88"/>
<ellipse cx="442.6" cy="416.4" rx="1.4" ry="1.9" fill="#3e2e78" opacity="0.88"/>
<ellipse cx="449.9" cy="382.6" rx="2.2" ry="2.2" fill="#4e3c8a" opacity="0.88"/>
<ellipse cx="408.9" cy="438.8" rx="2.6" ry="2.3" fill="#38296e" opacity="0.88"/>
<ellipse cx="420.1" cy="454.7" rx="2.1" ry="1.7" fill="#4e3c8a" opacity="0.88"/>
<ellipse cx="478.2" cy="396.8" rx="1.8" ry="1.5" fill="#38296e" opacity="0.88"/>
<ellipse cx="427.8" cy="396.0" rx="2.8" ry="2.7" fill="#463484" opacity="0.88"/>
<ellipse cx="378.5" cy="433.4" rx="1.7" ry="1.9" fill="#34266a" opacity="0.88"/>
<ellipse cx="417.9" cy="415.7" rx="2.2" ry="2.0" fill="#3e2e78" opacity="0.88"/>
<ellipse cx="406.5" cy="461.6" rx="2.0" ry="1.8" fill="#3e2e78" opacity="0.88"/>
<ellipse cx="421.5" cy="443.5" rx="2.0" ry="2.2" fill="#463484" opacity="0.88"/>
<ellipse cx="411.2" cy="367.8" rx="1.9" ry="2.2" fill="#4e3c8a" opacity="0.88"/>
<ellipse cx="364.0" cy="485.3" rx="2.4" ry="2.5" fill="#4e3c8a" opacity="0.88"/>
<ellipse cx="443.6" cy="456.2" rx="1.6" ry="1.4" fill="#34266a" opacity="0.88"/>
<ellipse cx="410.6" cy="412.9" rx="2.7" ry="2.0" fill="#463484" opacity="0.88"/>
<ellipse cx="409.3" cy="425.4" rx="1.6" ry="1.6" fill="#463484" opacity="0.88"/>
<ellipse cx="358.8" cy="471.1" rx="2.0" ry="1.5" fill="#34266a" opacity="0.88"/>
<ellipse cx="451.1" cy="447.2" rx="1.8" ry="1.7" fill="#463484" opacity="0.88"/>
<ellipse cx="389.9" cy="431.9" rx="1.9" ry="1.9" fill="#463484" opacity="0.88"/>
<ellipse cx="445.2" cy="447.1" rx="2.0" ry="2.7" fill="#38296e" opacity="0.88"/>
<ellipse cx="405.2" cy="442.3" rx="2.2" ry="2.2" fill="#4e3c8a" opacity="0.88"/>
<ellipse cx="423.4" cy="419.1" rx="2.5" ry="1.9" fill="#463484" opacity="0.88"/>
<ellipse cx="445.3" cy="396.3" rx="2.4" ry="1.8" fill="#4e3c8a" opacity="0.88"/>
<ellipse cx="414.3" cy="372.9" rx="1.4" ry="1.5" fill="#3e2e78" opacity="0.88"/>
<ellipse cx="412.0" cy="433.8" rx="2.1" ry="2.1" fill="#463484" opacity="0.88"/>
<ellipse cx="402.9" cy="403.5" rx="2.3" ry="2.0" fill="#4e3c8a" opacity="0.88"/>
<ellipse cx="418.7" cy="385.7" rx="1.9" ry="2.5" fill="#3e2e78" opacity="0.88"/>
<ellipse cx="407.0" cy="414.5" rx="1.9" ry="2.2" fill="#38296e" opacity="0.88"/>
<ellipse cx="423.4" cy="400.0" rx="1.7" ry="2.0" fill="#38296e" opacity="0.88"/>
<ellipse cx="434.9" cy="454.8" rx="2.2" ry="1.7" fill="#34266a" opacity="0.88"/>
<ellipse cx="462.2" cy="407.2" rx="1.9" ry="1.7" fill="#463484" opacity="0.88"/>
<ellipse cx="452.9" cy="401.9" rx="1.6" ry="2.0" fill="#3e2e78" opacity="0.88"/>
<ellipse cx="442.9" cy="375.1" rx="2.1" ry="2.3" fill="#34266a" opacity="0.88"/>
<ellipse cx="453.3" cy="442.2" rx="2.6" ry="2.9" fill="#34266a" opacity="0.88"/>
<ellipse cx="460.5" cy="392.6" rx="2.4" ry="2.0" fill="#463484" opacity="0.88"/>
<ellipse cx="379.0" cy="445.5" rx="2.5" ry="2.6" fill="#34266a" opacity="0.88"/>
<ellipse cx="464.4" cy="429.1" rx="2.4" ry="2.3" fill="#4e3c8a" opacity="0.88"/>
<ellipse cx="426.9" cy="420.4" rx="1.5" ry="1.7" fill="#34266a" opacity="0.88"/>
<ellipse cx="394.3" cy="476.2" rx="1.9" ry="1.7" fill="#4e3c8a" opacity="0.88"/>
<ellipse cx="462.0" cy="421.9" rx="2.0" ry="2.4" fill="#38296e" opacity="0.88"/>
<ellipse cx="411.5" cy="377.2" rx="2.3" ry="2.1" fill="#463484" opacity="0.88"/>
<ellipse cx="444.8" cy="411.4" rx="2.4" ry="2.1" fill="#3e2e78" opacity="0.88"/>
<ellipse cx="455.0" cy="458.4" rx="2.2" ry="1.7" fill="#34266a" opacity="0.88"/>
<ellipse cx="448.0" cy="452.1" rx="2.7" ry="2.1" fill="#4e3c8a" opacity="0.88"/>
<ellipse cx="384.0" cy="450.0" rx="2.8" ry="2.9" fill="#38296e" opacity="0.88"/>
<ellipse cx="395.9" cy="462.5" rx="2.2" ry="2.3" fill="#463484" opacity="0.88"/>
<ellipse cx="423.1" cy="372.5" rx="1.9" ry="2.1" fill="#4e3c8a" opacity="0.88"/>
<ellipse cx="405.1" cy="388.6" rx="2.4" ry="2.3" fill="#3e2e78" opacity="0.88"/>
<ellipse cx="418.0" cy="411.1" rx="2.7" ry="2.7" fill="#4e3c8a" opacity="0.88"/>
<ellipse cx="416.9" cy="419.4" rx="1.6" ry="2.4" fill="#3e2e78" opacity="0.88"/>
<ellipse cx="413.2" cy="420.7" rx="2.7" ry="2.4" fill="#38296e" opacity="0.88"/>
<ellipse cx="407.4" cy="457.3" rx="1.9" ry="1.7" fill="#3e2e78" opacity="0.88"/>
<ellipse cx="447.0" cy="407.0" rx="2.2" ry="2.3" fill="#34266a" opacity="0.88"/>
<ellipse cx="423.7" cy="433.6" rx="2.4" ry="1.9" fill="#4e3c8a" opacity="0.88"/>
<ellipse cx="449.5" cy="458.0" rx="2.0" ry="1.8" fill="#463484" opacity="0.88"/>
<ellipse cx="435.3" cy="424.2" rx="1.8" ry="2.1" fill="#34266a" opacity="0.88"/>
<ellipse cx="413.1" cy="439.3" rx="1.9" ry="2.3" fill="#4e3c8a" opacity="0.88"/>
<ellipse cx="386.3" cy="458.8" rx="2.3" ry="2.1" fill="#34266a" opacity="0.88"/>
<ellipse cx="465.2" cy="414.3" rx="1.6" ry="1.8" fill="#34266a" opacity="0.88"/>
<ellipse cx="389.3" cy="402.4" rx="2.0" ry="2.6" fill="#34266a" opacity="0.88"/>
<ellipse cx="441.9" cy="421.8" rx="1.6" ry="1.7" fill="#3e2e78" opacity="0.88"/>
<ellipse cx="390.0" cy="426.0" rx="2.4" ry="2.4" fill="#38296e" opacity="0.88"/>
<ellipse cx="415.8" cy="459.2" rx="2.0" ry="1.9" fill="#4e3c8a" opacity="0.88"/>
<ellipse cx="420.1" cy="379.9" rx="2.1" ry="1.9" fill="#3e2e78" opacity="0.88"/>
<ellipse cx="442.0" cy="405.9" rx="2.2" ry="2.6" fill="#4e3c8a" opacity="0.88"/>
<ellipse cx="440.8" cy="389.2" rx="2.1" ry="1.6" fill="#3e2e78" opacity="0.88"/>
<ellipse cx="411.8" cy="453.5" rx="1.6" ry="1.8" fill="#4e3c8a" opacity="0.88"/>
<ellipse cx="437.0" cy="442.4" rx="2.5" ry="1.8" fill="#34266a" opacity="0.88"/>
<ellipse cx="433.1" cy="366.5" rx="2.6" ry="2.3" fill="#38296e" opacity="0.88"/>
<ellipse cx="422.4" cy="411.3" rx="1.9" ry="2.2" fill="#34266a" opacity="0.88"/>
<ellipse cx="427.1" cy="378.3" rx="2.2" ry="2.7" fill="#3e2e78" opacity="0.88"/>
<ellipse cx="449.7" cy="374.7" rx="2.6" ry="2.4" fill="#38296e" opacity="0.88"/>
<ellipse cx="427.5" cy="402.8" rx="1.9" ry="2.2" fill="#4e3c8a" opacity="0.88"/>
<ellipse cx="421.9" cy="429.7" rx="1.9" ry="1.7" fill="#463484" opacity="0.88"/>
<ellipse cx="398.4" cy="459.4" rx="1.9" ry="2.4" fill="#463484" opacity="0.88"/>
<ellipse cx="394.4" cy="450.3" rx="1.8" ry="1.8" fill="#4e3c8a" opacity="0.88"/>
<ellipse cx="429.4" cy="416.2" rx="2.0" ry="1.7" fill="#38296e" opacity="0.88"/>
<ellipse cx="420.6" cy="423.5" rx="2.6" ry="2.3" fill="#463484" opacity="0.88"/>
<ellipse cx="436.2" cy="460.9" rx="2.1" ry="1.6" fill="#34266a" opacity="0.88"/>
<ellipse cx="426.9" cy="407.9" rx="2.0" ry="2.0" fill="#3e2e78" opacity="0.88"/>
<ellipse cx="453.0" cy="389.7" rx="2.2" ry="2.3" fill="#38296e" opacity="0.88"/>
<ellipse cx="389.2" cy="449.8" rx="1.8" ry="1.8" fill="#34266a" opacity="0.88"/>
<ellipse cx="377.0" cy="465.0" rx="2.5" ry="2.1" fill="#3e2e78" opacity="0.88"/>
<ellipse cx="438.4" cy="415.9" rx="1.9" ry="2.4" fill="#38296e" opacity="0.88"/>
<ellipse cx="449.1" cy="403.1" rx="1.8" ry="1.8" fill="#463484" opacity="0.88"/>
<ellipse cx="457.6" cy="402.3" rx="2.6" ry="2.0" fill="#3e2e78" opacity="0.88"/>
<ellipse cx="424.0" cy="365.2" rx="2.4" ry="2.2" fill="#34266a" opacity="0.88"/>
<ellipse cx="404.1" cy="428.6" rx="1.5" ry="1.7" fill="#38296e" opacity="0.88"/>
<ellipse cx="372.3" cy="463.6" rx="2.2" ry="2.0" fill="#463484" opacity="0.88"/>
<ellipse cx="421.6" cy="438.7" rx="1.8" ry="1.7" fill="#34266a" opacity="0.88"/>
<ellipse cx="437.4" cy="401.9" rx="1.9" ry="2.1" fill="#463484" opacity="0.88"/>
<ellipse cx="415.7" cy="380.8" rx="2.1" ry="2.3" fill="#4e3c8a" opacity="0.88"/>
<ellipse cx="452.1" cy="393.9" rx="2.4" ry="2.2" fill="#463484" opacity="0.88"/>
<ellipse cx="391.3" cy="458.6" rx="1.8" ry="2.5" fill="#34266a" opacity="0.88"/>
<ellipse cx="406.1" cy="400.0" rx="1.9" ry="1.4" fill="#4e3c8a" opacity="0.88"/>
<ellipse cx="373.4" cy="469.7" rx="2.5" ry="2.3" fill="#463484" opacity="0.88"/>
<ellipse cx="403.8" cy="409.2" rx="2.0" ry="2.4" fill="#463484" opacity="0.88"/>
<ellipse cx="440.1" cy="438.0" rx="1.9" ry="2.1" fill="#4e3c8a" opacity="0.88"/>
<ellipse cx="426.9" cy="411.7" rx="1.8" ry="2.2" fill="#463484" opacity="0.88"/>
<ellipse cx="459.6" cy="413.8" rx="2.0" ry="2.3" fill="#34266a" opacity="0.88"/>
<ellipse cx="427.3" cy="444.1" rx="2.0" ry="1.8" fill="#3e2e78" opacity="0.88"/>
<ellipse cx="408.5" cy="419.6" rx="2.4" ry="2.2" fill="#3e2e78" opacity="0.88"/>
<ellipse cx="405.5" cy="433.6" rx="2.8" ry="2.3" fill="#4e3c8a" opacity="0.88"/>
<ellipse cx="390.5" cy="391.7" rx="1.5" ry="1.7" fill="#38296e" opacity="0.88"/>
<ellipse cx="432.4" cy="432.9" rx="2.5" ry="2.5" fill="#4e3c8a" opacity="0.88"/>
<ellipse cx="435.8" cy="411.8" rx="2.1" ry="2.1" fill="#38296e" opacity="0.88"/>
<ellipse cx="420.5" cy="448.7" rx="1.9" ry="2.0" fill="#4e3c8a" opacity="0.88"/>
<ellipse cx="413.3" cy="426.0" rx="2.1" ry="2.2" fill="#3e2e78" opacity="0.88"/>
<ellipse cx="394.7" cy="436.5" rx="2.1" ry="2.0" fill="#4e3c8a" opacity="0.88"/>
<ellipse cx="434.4" cy="408.0" rx="2.1" ry="1.8" fill="#463484" opacity="0.88"/>
<ellipse cx="415.2" cy="430.6" rx="2.7" ry="2.3" fill="#463484" opacity="0.88"/>
<ellipse cx="398.0" cy="424.3" rx="1.9" ry="1.7" fill="#38296e" opacity="0.88"/>
<ellipse cx="415.7" cy="406.2" rx="1.5" ry="1.5" fill="#38296e" opacity="0.88"/>
<ellipse cx="401.3" cy="384.6" rx="1.7" ry="1.8" fill="#38296e" opacity="0.88"/>
<ellipse cx="408.9" cy="394.5" rx="2.0" ry="2.0" fill="#4e3c8a" opacity="0.88"/>
<ellipse cx="396.3" cy="444.0" rx="2.0" ry="2.0" fill="#463484" opacity="0.88"/>
<ellipse cx="457.5" cy="408.3" rx="1.5" ry="1.6" fill="#34266a" opacity="0.88"/>
<ellipse cx="399.6" cy="400.1" rx="2.4" ry="2.8" fill="#4e3c8a" opacity="0.88"/>
<ellipse cx="432.1" cy="398.5" rx="2.6" ry="2.7" fill="#34266a" opacity="0.88"/>
<ellipse cx="441.8" cy="428.4" rx="1.7" ry="1.8" fill="#38296e" opacity="0.88"/>
<ellipse cx="447.4" cy="463.1" rx="1.5" ry="1.7" fill="#34266a" opacity="0.88"/>
<ellipse cx="418.2" cy="375.5" rx="2.5" ry="2.2" fill="#38296e" opacity="0.88"/>
<ellipse cx="402.8" cy="458.6" rx="1.7" ry="1.7" fill="#3e2e78" opacity="0.88"/>
<ellipse cx="413.6" cy="416.6" rx="2.6" ry="2.6" fill="#38296e" opacity="0.88"/>
<ellipse cx="441.6" cy="444.1" rx="2.3" ry="2.2" fill="#38296e" opacity="0.88"/>
<ellipse cx="379.0" cy="452.5" rx="2.3" ry="2.3" fill="#34266a" opacity="0.88"/>
<ellipse cx="428.6" cy="369.2" rx="2.2" ry="2.0" fill="#3e2e78" opacity="0.88"/>
<ellipse cx="381.6" cy="461.2" rx="1.8" ry="1.5" fill="#34266a" opacity="0.88"/>
<ellipse cx="443.0" cy="451.8" rx="2.2" ry="1.5" fill="#38296e" opacity="0.88"/>
<ellipse cx="433.3" cy="420.6" rx="2.0" ry="2.0" fill="#463484" opacity="0.88"/>
<ellipse cx="404.5" cy="454.2" rx="1.9" ry="2.4" fill="#463484" opacity="0.88"/>
<ellipse cx="369.1" cy="474.8" rx="2.8" ry="2.3" fill="#3e2e78" opacity="0.88"/>
<ellipse cx="404.7" cy="422.1" rx="1.9" ry="1.9" fill="#38296e" opacity="0.88"/>
<ellipse cx="419.9" cy="407.8" rx="2.7" ry="2.1" fill="#38296e" opacity="0.88"/>
<ellipse cx="453.1" cy="406.8" rx="2.1" ry="2.6" fill="#463484" opacity="0.88"/>
<ellipse cx="395.6" cy="382.3" rx="2.0" ry="2.8" fill="#463484" opacity="0.88"/>
<ellipse cx="375.8" cy="404.9" rx="1.9" ry="1.6" fill="#463484" opacity="0.88"/>
<ellipse cx="429.4" cy="429.8" rx="1.7" ry="1.6" fill="#34266a" opacity="0.88"/>
<ellipse cx="416.9" cy="442.5" rx="1.6" ry="2.1" fill="#463484" opacity="0.88"/>
<ellipse cx="394.3" cy="455.1" rx="2.6" ry="2.0" fill="#3e2e78" opacity="0.88"/>
<ellipse cx="448.5" cy="443.2" rx="1.9" ry="2.4" fill="#3e2e78" opacity="0.88"/>
<ellipse cx="397.2" cy="467.4" rx="1.3" ry="1.6" fill="#38296e" opacity="0.88"/>
<ellipse cx="437.7" cy="428.2" rx="2.0" ry="2.3" fill="#4e3c8a" opacity="0.88"/>
<ellipse cx="418.1" cy="395.8" rx="2.2" ry="2.5" fill="#38296e" opacity="0.88"/>
<ellipse cx="407.2" cy="405.0" rx="2.1" ry="1.6" fill="#463484" opacity="0.88"/>
<ellipse cx="417.7" cy="437.7" rx="2.0" ry="2.2" fill="#463484" opacity="0.88"/>
<ellipse cx="402.4" cy="439.0" rx="1.9" ry="1.7" fill="#463484" opacity="0.88"/>
<ellipse cx="426.1" cy="455.9" rx="1.8" ry="1.6" fill="#34266a" opacity="0.88"/>
<ellipse cx="361.9" cy="466.8" rx="1.6" ry="1.5" fill="#463484" opacity="0.88"/>
<ellipse cx="407.7" cy="410.2" rx="2.5" ry="1.9" fill="#4e3c8a" opacity="0.88"/>
<ellipse cx="378.9" cy="470.4" rx="1.6" ry="2.3" fill="#38296e" opacity="0.88"/>
<ellipse cx="411.7" cy="362.2" rx="2.1" ry="2.4" fill="#4e3c8a" opacity="0.88"/>
<ellipse cx="437.5" cy="420.0" rx="2.0" ry="2.2" fill="#3e2e78" opacity="0.88"/>
</g>
</g>
<rect x="316.5" y="344.5" width="202" height="151.5" fill="none" stroke="#4e4060" stroke-width="1"/>
<path d="M364.2 256.9L350.4 243.1L353.1 240.3L340.4 236.1L344.6 248.8L347.4 246.1L361.2 259.9Z" fill="#0a0a0a" filter="url(#bl05)"/>
<path d="M450.1 237.0L463.4 226.4L465.9 229.5L471.5 217.3L458.4 220.1L460.8 223.1L447.5 233.8Z" fill="#0a0a0a" filter="url(#bl05)"/>
<path d="M382.5 309.8L394.6 300.3L397.0 303.3L402.7 291.2L389.6 293.9L392.0 297.0L379.9 306.4Z" fill="#0a0a0a" filter="url(#bl05)"/>
<path d="M350.1 469.4L362.6 459.8L364.9 462.9L370.8 450.8L357.6 453.4L360.0 456.4L347.5 466.0Z" fill="#0a0a0a" filter="url(#bl05)"/>
<text x="313.2" y="268.6" font-size="16.3" text-anchor="middle" font-weight="normal" font-style="normal" fill="#111" transform="rotate(-90 313.2 268.6)">LVS</text>
<text x="313.8" y="418.5" font-size="17.6" text-anchor="middle" fill="#111" transform="rotate(-90 313.8 418.5)"><tspan font-style="italic">mviN</tspan>::Tn5</text>
</svg>
</body></html>
